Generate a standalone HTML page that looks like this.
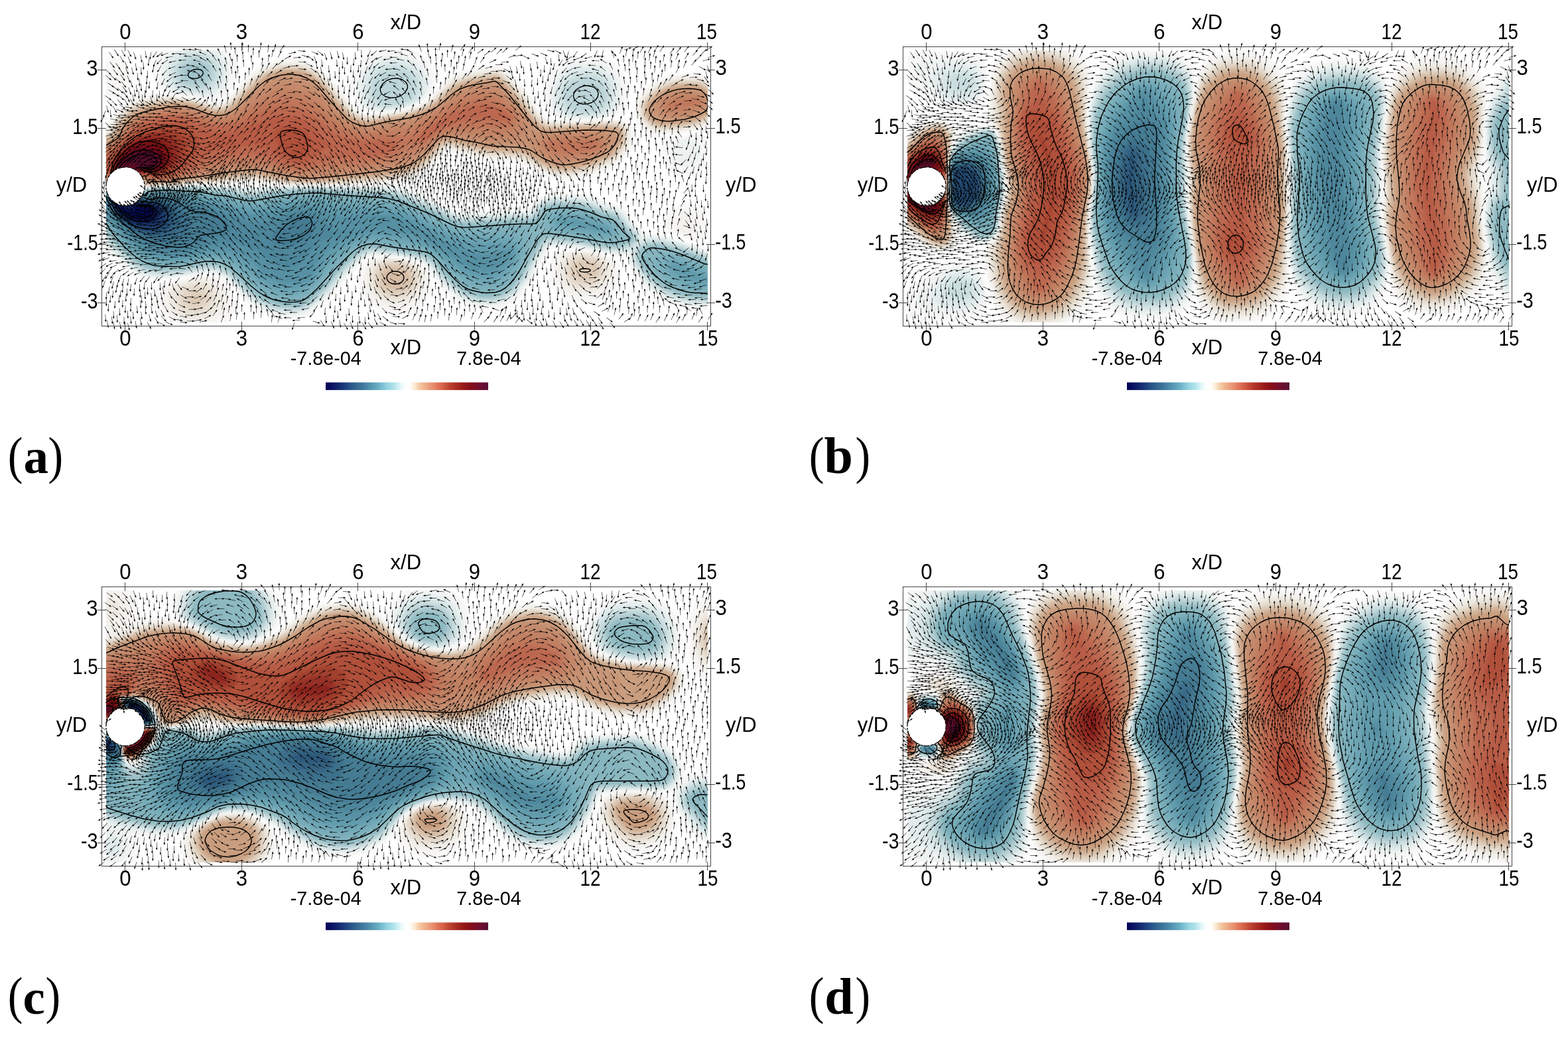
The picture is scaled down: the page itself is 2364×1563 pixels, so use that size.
<!DOCTYPE html>
<html lang="en"><head><meta charset="utf-8"><title>Figure</title>
<style>
html,body{margin:0;padding:0;background:#fff}
svg{display:block}
.t{font:32.8px "Liberation Sans",sans-serif;fill:#000}
.x{font:31px "Liberation Sans",sans-serif;fill:#000}
.c{font:30px "Liberation Sans",sans-serif;fill:#000}
.m{text-anchor:middle}.e{text-anchor:end}
.l{font:bold 75px "Liberation Serif",serif;fill:#000}
.p{font:78.2px "Liberation Serif",serif;fill:#000}
.k{fill:none;stroke:#000;stroke-width:5.8;stroke-linejoin:round}
</style></head><body>
<svg width="2364" height="1563" viewBox="0 0 2364 1563">
<defs>
<linearGradient id="cb"><stop offset="0%" stop-color="#000059"/><stop offset="2.5%" stop-color="#080d5f"/><stop offset="5%" stop-color="#0e1866"/><stop offset="7.5%" stop-color="#13256d"/><stop offset="10%" stop-color="#193376"/><stop offset="12.5%" stop-color="#204380"/><stop offset="15%" stop-color="#275288"/><stop offset="17.5%" stop-color="#2f5f8e"/><stop offset="20%" stop-color="#376b94"/><stop offset="22.5%" stop-color="#3f779c"/><stop offset="25%" stop-color="#4985a6"/><stop offset="27.5%" stop-color="#5393b0"/><stop offset="30%" stop-color="#5ea1ba"/><stop offset="32.5%" stop-color="#6bafc6"/><stop offset="35%" stop-color="#7cc0d4"/><stop offset="37.5%" stop-color="#92d1e0"/><stop offset="40%" stop-color="#a3dbe6"/><stop offset="42.5%" stop-color="#b6e5ed"/><stop offset="45%" stop-color="#d5f2f6"/><stop offset="47.5%" stop-color="#f5fcfc"/><stop offset="50%" stop-color="#ffffff"/><stop offset="52.5%" stop-color="#fefbf4"/><stop offset="55%" stop-color="#fae6ce"/><stop offset="57.5%" stop-color="#f5cba7"/><stop offset="60%" stop-color="#f1b792"/><stop offset="62.5%" stop-color="#eda682"/><stop offset="65%" stop-color="#e99473"/><stop offset="67.5%" stop-color="#e38062"/><stop offset="70%" stop-color="#dc6e53"/><stop offset="72.5%" stop-color="#d25e45"/><stop offset="75%" stop-color="#c24b36"/><stop offset="77.5%" stop-color="#b63a2d"/><stop offset="80%" stop-color="#ab2e25"/><stop offset="82.5%" stop-color="#a1221d"/><stop offset="85%" stop-color="#961718"/><stop offset="87.5%" stop-color="#8c1119"/><stop offset="90%" stop-color="#820e1f"/><stop offset="92.5%" stop-color="#780e27"/><stop offset="95%" stop-color="#6e0e2e"/><stop offset="97.5%" stop-color="#630f32"/><stop offset="100%" stop-color="#591236"/></linearGradient>
<clipPath id="fc"><rect x="160" y="75.8" width="907" height="410"/></clipPath>
<clipPath id="ac"><rect x="146" y="62" width="933" height="437"/></clipPath>
<filter id="bl" x="0" y="0" width="100%" height="100%" filterUnits="objectBoundingBox" color-interpolation-filters="sRGB"><feGaussianBlur stdDeviation="2.2"/></filter>
<path id="ag" d="M0-2.4L84-3.4V-13.4L120 0 84 13.4V3.4L0 2.4z" fill="#000"/>
<marker id="m0" markerUnits="userSpaceOnUse" orient="0" overflow="visible"><use href="#ag"/></marker><marker id="m1" markerUnits="userSpaceOnUse" orient="4" overflow="visible"><use href="#ag"/></marker><marker id="m2" markerUnits="userSpaceOnUse" orient="8" overflow="visible"><use href="#ag"/></marker><marker id="m3" markerUnits="userSpaceOnUse" orient="12" overflow="visible"><use href="#ag"/></marker><marker id="m4" markerUnits="userSpaceOnUse" orient="16" overflow="visible"><use href="#ag"/></marker><marker id="m5" markerUnits="userSpaceOnUse" orient="20" overflow="visible"><use href="#ag"/></marker><marker id="m6" markerUnits="userSpaceOnUse" orient="24" overflow="visible"><use href="#ag"/></marker><marker id="m7" markerUnits="userSpaceOnUse" orient="28" overflow="visible"><use href="#ag"/></marker><marker id="m8" markerUnits="userSpaceOnUse" orient="32" overflow="visible"><use href="#ag"/></marker><marker id="m9" markerUnits="userSpaceOnUse" orient="36" overflow="visible"><use href="#ag"/></marker><marker id="m10" markerUnits="userSpaceOnUse" orient="40" overflow="visible"><use href="#ag"/></marker><marker id="m11" markerUnits="userSpaceOnUse" orient="44" overflow="visible"><use href="#ag"/></marker><marker id="m12" markerUnits="userSpaceOnUse" orient="48" overflow="visible"><use href="#ag"/></marker><marker id="m13" markerUnits="userSpaceOnUse" orient="52" overflow="visible"><use href="#ag"/></marker><marker id="m14" markerUnits="userSpaceOnUse" orient="56" overflow="visible"><use href="#ag"/></marker><marker id="m15" markerUnits="userSpaceOnUse" orient="60" overflow="visible"><use href="#ag"/></marker><marker id="m16" markerUnits="userSpaceOnUse" orient="64" overflow="visible"><use href="#ag"/></marker><marker id="m17" markerUnits="userSpaceOnUse" orient="68" overflow="visible"><use href="#ag"/></marker><marker id="m18" markerUnits="userSpaceOnUse" orient="72" overflow="visible"><use href="#ag"/></marker><marker id="m19" markerUnits="userSpaceOnUse" orient="76" overflow="visible"><use href="#ag"/></marker><marker id="m20" markerUnits="userSpaceOnUse" orient="80" overflow="visible"><use href="#ag"/></marker><marker id="m21" markerUnits="userSpaceOnUse" orient="84" overflow="visible"><use href="#ag"/></marker><marker id="m22" markerUnits="userSpaceOnUse" orient="88" overflow="visible"><use href="#ag"/></marker><marker id="m23" markerUnits="userSpaceOnUse" orient="92" overflow="visible"><use href="#ag"/></marker><marker id="m24" markerUnits="userSpaceOnUse" orient="96" overflow="visible"><use href="#ag"/></marker><marker id="m25" markerUnits="userSpaceOnUse" orient="100" overflow="visible"><use href="#ag"/></marker><marker id="m26" markerUnits="userSpaceOnUse" orient="104" overflow="visible"><use href="#ag"/></marker><marker id="m27" markerUnits="userSpaceOnUse" orient="108" overflow="visible"><use href="#ag"/></marker><marker id="m28" markerUnits="userSpaceOnUse" orient="112" overflow="visible"><use href="#ag"/></marker><marker id="m29" markerUnits="userSpaceOnUse" orient="116" overflow="visible"><use href="#ag"/></marker><marker id="m30" markerUnits="userSpaceOnUse" orient="120" overflow="visible"><use href="#ag"/></marker><marker id="m31" markerUnits="userSpaceOnUse" orient="124" overflow="visible"><use href="#ag"/></marker><marker id="m32" markerUnits="userSpaceOnUse" orient="128" overflow="visible"><use href="#ag"/></marker><marker id="m33" markerUnits="userSpaceOnUse" orient="132" overflow="visible"><use href="#ag"/></marker><marker id="m34" markerUnits="userSpaceOnUse" orient="136" overflow="visible"><use href="#ag"/></marker><marker id="m35" markerUnits="userSpaceOnUse" orient="140" overflow="visible"><use href="#ag"/></marker><marker id="m36" markerUnits="userSpaceOnUse" orient="144" overflow="visible"><use href="#ag"/></marker><marker id="m37" markerUnits="userSpaceOnUse" orient="148" overflow="visible"><use href="#ag"/></marker><marker id="m38" markerUnits="userSpaceOnUse" orient="152" overflow="visible"><use href="#ag"/></marker><marker id="m39" markerUnits="userSpaceOnUse" orient="156" overflow="visible"><use href="#ag"/></marker><marker id="m40" markerUnits="userSpaceOnUse" orient="160" overflow="visible"><use href="#ag"/></marker><marker id="m41" markerUnits="userSpaceOnUse" orient="164" overflow="visible"><use href="#ag"/></marker><marker id="m42" markerUnits="userSpaceOnUse" orient="168" overflow="visible"><use href="#ag"/></marker><marker id="m43" markerUnits="userSpaceOnUse" orient="172" overflow="visible"><use href="#ag"/></marker><marker id="m44" markerUnits="userSpaceOnUse" orient="176" overflow="visible"><use href="#ag"/></marker><marker id="m45" markerUnits="userSpaceOnUse" orient="180" overflow="visible"><use href="#ag"/></marker><marker id="m46" markerUnits="userSpaceOnUse" orient="184" overflow="visible"><use href="#ag"/></marker><marker id="m47" markerUnits="userSpaceOnUse" orient="188" overflow="visible"><use href="#ag"/></marker><marker id="m48" markerUnits="userSpaceOnUse" orient="192" overflow="visible"><use href="#ag"/></marker><marker id="m49" markerUnits="userSpaceOnUse" orient="196" overflow="visible"><use href="#ag"/></marker><marker id="m50" markerUnits="userSpaceOnUse" orient="200" overflow="visible"><use href="#ag"/></marker><marker id="m51" markerUnits="userSpaceOnUse" orient="204" overflow="visible"><use href="#ag"/></marker><marker id="m52" markerUnits="userSpaceOnUse" orient="208" overflow="visible"><use href="#ag"/></marker><marker id="m53" markerUnits="userSpaceOnUse" orient="212" overflow="visible"><use href="#ag"/></marker><marker id="m54" markerUnits="userSpaceOnUse" orient="216" overflow="visible"><use href="#ag"/></marker><marker id="m55" markerUnits="userSpaceOnUse" orient="220" overflow="visible"><use href="#ag"/></marker><marker id="m56" markerUnits="userSpaceOnUse" orient="224" overflow="visible"><use href="#ag"/></marker><marker id="m57" markerUnits="userSpaceOnUse" orient="228" overflow="visible"><use href="#ag"/></marker><marker id="m58" markerUnits="userSpaceOnUse" orient="232" overflow="visible"><use href="#ag"/></marker><marker id="m59" markerUnits="userSpaceOnUse" orient="236" overflow="visible"><use href="#ag"/></marker><marker id="m60" markerUnits="userSpaceOnUse" orient="240" overflow="visible"><use href="#ag"/></marker><marker id="m61" markerUnits="userSpaceOnUse" orient="244" overflow="visible"><use href="#ag"/></marker><marker id="m62" markerUnits="userSpaceOnUse" orient="248" overflow="visible"><use href="#ag"/></marker><marker id="m63" markerUnits="userSpaceOnUse" orient="252" overflow="visible"><use href="#ag"/></marker><marker id="m64" markerUnits="userSpaceOnUse" orient="256" overflow="visible"><use href="#ag"/></marker><marker id="m65" markerUnits="userSpaceOnUse" orient="260" overflow="visible"><use href="#ag"/></marker><marker id="m66" markerUnits="userSpaceOnUse" orient="264" overflow="visible"><use href="#ag"/></marker><marker id="m67" markerUnits="userSpaceOnUse" orient="268" overflow="visible"><use href="#ag"/></marker><marker id="m68" markerUnits="userSpaceOnUse" orient="272" overflow="visible"><use href="#ag"/></marker><marker id="m69" markerUnits="userSpaceOnUse" orient="276" overflow="visible"><use href="#ag"/></marker><marker id="m70" markerUnits="userSpaceOnUse" orient="280" overflow="visible"><use href="#ag"/></marker><marker id="m71" markerUnits="userSpaceOnUse" orient="284" overflow="visible"><use href="#ag"/></marker><marker id="m72" markerUnits="userSpaceOnUse" orient="288" overflow="visible"><use href="#ag"/></marker><marker id="m73" markerUnits="userSpaceOnUse" orient="292" overflow="visible"><use href="#ag"/></marker><marker id="m74" markerUnits="userSpaceOnUse" orient="296" overflow="visible"><use href="#ag"/></marker><marker id="m75" markerUnits="userSpaceOnUse" orient="300" overflow="visible"><use href="#ag"/></marker><marker id="m76" markerUnits="userSpaceOnUse" orient="304" overflow="visible"><use href="#ag"/></marker><marker id="m77" markerUnits="userSpaceOnUse" orient="308" overflow="visible"><use href="#ag"/></marker><marker id="m78" markerUnits="userSpaceOnUse" orient="312" overflow="visible"><use href="#ag"/></marker><marker id="m79" markerUnits="userSpaceOnUse" orient="316" overflow="visible"><use href="#ag"/></marker><marker id="m80" markerUnits="userSpaceOnUse" orient="320" overflow="visible"><use href="#ag"/></marker><marker id="m81" markerUnits="userSpaceOnUse" orient="324" overflow="visible"><use href="#ag"/></marker><marker id="m82" markerUnits="userSpaceOnUse" orient="328" overflow="visible"><use href="#ag"/></marker><marker id="m83" markerUnits="userSpaceOnUse" orient="332" overflow="visible"><use href="#ag"/></marker><marker id="m84" markerUnits="userSpaceOnUse" orient="336" overflow="visible"><use href="#ag"/></marker><marker id="m85" markerUnits="userSpaceOnUse" orient="340" overflow="visible"><use href="#ag"/></marker><marker id="m86" markerUnits="userSpaceOnUse" orient="344" overflow="visible"><use href="#ag"/></marker><marker id="m87" markerUnits="userSpaceOnUse" orient="348" overflow="visible"><use href="#ag"/></marker><marker id="m88" markerUnits="userSpaceOnUse" orient="352" overflow="visible"><use href="#ag"/></marker><marker id="m89" markerUnits="userSpaceOnUse" orient="356" overflow="visible"><use href="#ag"/></marker>
</defs>
<rect width="2364" height="1563" fill="#fff"/>
<g transform="translate(0 0)">
<g clip-path="url(#fc)"><g filter="url(#bl)"><rect x="140" y="56" width="950" height="450" fill="#fff"/><g transform="scale(0.25)">
<path fill="#f8f7f5" d="M736 582l-48 7-40-7-32-18-32-32 0-124 32-32 24-14 48-10 40 8 35 24 26 40 11 48-8 48-24 39zM584 1108l0-355 48 9 8-5 46-77 58-69 32-16 96-23 88-6 168 18 160 32 32-1 24-8 33-23 127-135 64-51 80-33 56-11 112 2 48 14 56 28 93 82 35 52 96 121 32 21 48 14 96-5 104-14 72-22 49-23 61-48 82-96 24-20 64-29 40-11 144-25 48 0 40 17 78 76 53 64 90 128 35 33 40 9 96 8 104 0 200-13 32 9 24 17 12 17 10 32 0 56-8 32-34 56-39 48-77 42-64 26-136 34-104 0-48-10-88-38-72-45-32-9-192-11-216-50-17 5-111 110-32 23-48 25-64 16-464 15-248-1-184-9-240 5-96-3-88 2-48 11-96-3-80 8zM3835 728l-7-32 1-48 14-56 69-78 64-40 56-22 48-9 136-1 32 8 40 20 40 36 0 229-64 36-104 23-200 22-24-5-48-23-37-36zM4251 1432l-27 16-48 1-90-25-51-24-25-24-7-24 6-40 17-32 38-37 48-19 56 1 48 21 39 42 18 48-3 56zM3731 1704l-17 32-26 31-32 27-32 18-64 14-64 0-40-6-64-32-32-29-23-31-16-32-9-40 5-72 23-48 26-16 29-8 93-8 80 10 48 13 88 33 30 24 9 24 2 32zM2580 1792l-52 54-72 36-32 6-64 0-64-12-64-36-32-32-21-32-18-64 1-40 8-32 16-32 27-32 43-22 56-7 96 6 68 15 71 32 22 24 22 40 11 32 3 32-8 32zM1426 1856l-19 40-33 40-46 34-56 26-181 4-75-37-57-51-33-64-7-40 2-32 11-32 14-16 52-24 170-35 72-8 32 2 48 18 33 23 29 32 42 72 5 24z"/>
<path fill="#f3f1ec" d="M584 1104l0-333 48 13 16-6 51-82 61-61 56-27 56-17 96-13 64 0 88 10 163 36 45 0 24-9 33-23 127-130 64-49 72-30 56-12 104 2 48 13 56 28 85 74 40 56 96 112 35 24 40 14 168-14 56-8 64-20 48-21 65-47 39-44 72-65 64-28 40-10 168-26 24 4 24 13 64 63 60 69 94 128 38 34 40 9 104 5 288-10 32 8 24 16 13 18 7 24 1 48-7 32-28 48-42 52-72 38-56 23-136 36-96 0-56-12-80-35-72-46-32-9-192-10-232-54-18 9-113 112-45 30-88 34-88 12-296 13-248 2-136-4-136-13-232 10-176 0-56 13-96-4-80 8-56-7-64 3zM3851 720l-7-24 0-56 5-24 12-24 67-68 40-26 56-24 72-15 128 2 64 31 40 45 0 173-32 26-48 26-56 17-88 14-136 9-24-5-48-25zM4187 1400l-19 11-24 2-24-5-30-16-13-16-4-16 3-24 12-21 24-17 24-6 24 4 24 15 12 17 7 24-2 24zM3687 1704l-42 48-53 28-88 6-56-12-54-38-32-48-12-64 12-56 15-24 23-16 72-15 96 8 52 15 52 24 28 32 5 56zM2551 1768l-44 48-59 30-88 6-56-12-56-35-40-53-12-56 2-48 8-32 21-32 21-16 64-15 104 6 48 11 54 22 37 32 19 48-1 48zM1371 1840l-32 56-51 39-72 24-72 1-72-22-56-41-19-25-14-32-4-56 19-48 42-27 128-31 88-3 55 21 41 40 22 48z"/>
<path fill="#eee9e1" d="M584 1099l0-316 48 16 19-7 13-13 15-35 29-40 60-58 56-28 56-17 88-14 56-2 144 16 120 32 44-1 28-11 31-21 129-130 64-49 72-28 56-10 96 2 40 11 56 27 84 73 36 51 104 117 38 24 42 14 216-24 72-21 56-24 64-44 40-43 72-62 56-24 40-11 168-26 40 14 64 63 59 68 96 128 45 37 48 7 96 2 224-11 64 4 32 11 16 12 12 18 5 24-1 48-7 24-30 48-35 43-120 57-56 19-88 18-88 0-48-10-80-34-72-46-40-12-192-11-232-54-24 11-112 111-48 33-80 31-96 17-288 16-248 3-136-6-120-17-40-1-208 16-176 2-56 12-96-3-80 8-48-7-64 4zM3869 728l-12-24-2-32 3-48 12-24 66-67 40-26 56-23 64-13 128 2 60 31 44 58 0 126-32 35-56 31-48 16-88 15-136 6-56-23zM3658 1696l-34 36-40 21-80 4-48-10-46-35-24-40-7-48 10-48 16-24 19-14 56-16 80 6 54 16 40 24 20 32 2 48zM2531 1752l-35 40-56 29-80 5-48-11-49-31-33-48-7-32-1-40 8-48 26-33 56-21 88 1 72 17 50 28 26 40 3 56zM1328 1840l-26 40-46 32-56 16-56-2-56-19-40-31-25-44-3-48 18-40 16-16 26-14 88-23 72 1 47 20 36 40 12 40z"/>
<path fill="#e8e0d4" d="M584 1094l0-302 48 18 24-10 16-16 16-36 26-36 56-56 54-27 56-18 88-15 56-4 144 14 128 36 40-3 24-8 34-23 134-134 64-47 64-24 56-11 96 3 40 11 52 26 83 72 33 48 109 120 41 24 42 13 216-27 72-20 56-23 64-42 112-103 96-35 168-27 32 11 64 62 61 71 91 120 48 43 56 9 320-11 56 4 45 19 12 16 7 24-6 64-28 48-38 45-120 57-48 15-88 19-88 0-48-11-80-34-72-47-40-10-192-11-232-54-24 7-120 119-40 28-88 34-88 16-296 21-240 3-128-8-128-20-40-1-208 19-176 4-56 13-96-3-80 8-48-8-64 5zM3870 712l-6-24 0-48 11-32 69-70 40-25 56-22 56-11 128 3 40 18 23 19 27 40 14 31 0 74-19 31-21 21-40 23-56 21-96 17-128 4-56-25zM3641 1680l-33 35-32 16-72 3-32-6-32-19-29-37-9-40 6-40 24-35 40-19 48-4 61 10 36 16 30 32 7 48zM2512 1744l-32 34-48 24-80 3-40-13-40-28-23-36-6-72 10-40 31-32 36-14 80 0 64 16 45 30 20 32 2 48zM1295 1832l-21 32-35 24-47 13-48-3-40-16-31-26-17-32-1-40 16-32 33-26 56-17 56 1 40 16 32 31 13 35z"/>
<path fill="#e2d5c6" d="M584 1089l0-289 48 19 24-8 21-19 18-40 29-40 52-50 48-24 56-19 88-16 64-5 96 6 48 9 112 35 48-1 32-12 32-22 133-133 59-43 64-26 56-11 88 1 40 10 56 28 76 65 41 56 107 118 40 23 48 14 224-30 72-21 48-19 72-45 40-41 72-60 56-24 40-10 160-25 32 13 60 59 152 192 28 28 24 15 56 8 320-12 56 5 40 18 16 34 0 40-6 24-26 42-38 46-114 53-56 18-80 17-88 0-48-11-72-31-72-47-40-12-200-12-232-54-27 7-121 120-44 30-80 31-96 18-288 22-240 4-128-9-128-23-48-1-200 23-184 5-48 14-96-3-80 8-48-9-64 6zM3879 712l-7-24 0-48 13-32 67-65 32-21 56-23 64-11 120 3 56 33 25 36 12 32 3 64-21 40-59 39-48 19-96 17-128 3-49-22zM3620 1672l-23 24-29 14-56 2-32-4-24-14-24-30-8-32 4-32 20-29 38-19 42-3 48 8 34 19 17 24 4 40zM2488 1744l-32 27-40 14-64 0-40-14-32-27-14-24-4-64 8-32 30-32 36-13 64 0 64 19 31 26 18 40-3 40zM1254 1840l-22 19-24 11-32 4-32-5-26-13-22-23-8-25 2-24 22-31 32-17 40-5 32 6 32 21 16 26 1 32z"/>
<path fill="#dccab6" d="M584 1084l0-276 48 20 30-12 24-24 18-40 24-32 56-54 48-23 56-18 144-21 88 4 56 11 112 36 48-1 32-11 32-21 136-134 64-48 64-23 48-9 88 1 40 10 56 29 73 64 39 54 104 114 48 28 40 12 24 2 208-32 72-20 48-19 72-43 112-100 56-25 40-10 160-25 24 8 64 63 152 192 32 31 24 13 56 6 128-8 200-3 48 5 24 9 16 14 8 22 0 40-7 24-57 80-120 56-128 32-88 0-48-11-72-32-72-47-40-11-194-11-246-55-24 9-120 119-48 32-80 30-152 24-296 21-176 1-120-10-128-26-48 0-200 24-184 8-48 14-96-2-80 7-40-10-72 8zM3884 704l-4-64 15-32 49-49 32-23 72-31 56-10 120 4 49 29 27 40 11 32 0 56-15 32-17 16-41 24-54 20-88 16-128 2-48-22zM3601 1656l-17 19-24 12-72-3-33-28-7-24 4-24 12-19 32-17 64 1 24 11 16 16 8 24zM2475 1728l-27 24-32 13-56 1-32-10-28-20-15-24-3-48 6-32 24-26 32-14 48-3 56 16 31 27 14 32-2 32zM1160 1838l-27-22-3-16 6-17 32-18 24 1 20 10 13 24-9 24-24 14z"/>
<path fill="#d6bca5" d="M584 1079l0-264 40 22 40-13 26-24 18-40 30-40 52-48 42-21 56-18 152-22 80 3 48 9 120 40 56-3 30-12 34-23 136-134 58-43 62-23 48-10 88 2 40 11 48 24 72 61 39 55 113 122 48 26 40 11 24 1 208-33 72-19 56-22 72-43 112-98 88-32 152-26 30 9 57 56 57 66 96 127 32 32 32 18 64 5 128-10 184-2 71 12 17 12 8 20 1 40-8 24-57 76-112 52-128 33-88 0-40-10-73-31-79-50-40-11-192-10-224-54-40 1-16 10-120 120-40 27-80 30-152 25-56 1-240 23-176 1-120-13-128-26-48-1-208 27-176 9-48 15-104-1-72 6-40-12-72 11-104-13zM3892 704l-5-56 11-32 62-60 32-21 56-22 56-10 112 2 54 31 22 32 11 32 1 52-18 36-54 35-48 18-88 16-120 3-48-20zM2455 1712l-17 16-22 10-48 3-24-5-24-16-10-16-3-40 5-21 17-19 23-10 32-5 48 12 22 19 12 24 0 24z"/>
<path fill="#d0ae93" d="M584 1073l0-249 40 24 40-14 31-26 23-48 26-35 48-45 96-39 152-23 72 2 56 10 120 41 56-3 32-12 37-24 131-130 61-46 59-22 48-10 82 0 38 9 48 24 75 63 40 56 109 117 48 28 48 14 24 1 208-35 72-19 56-21 72-41 112-98 88-33 152-26 26 9 54 53 155 195 37 35 24 14 24 6 48 1 128-11 184-2 69 13 17 16 2 48-8 23-56 72-107 49-125 32-80 1-48-10-71-31-73-48-48-14-192-10-224-54-24-1-32 10-125 125-52 32-69 24-146 24-56 1-240 25-168 1-120-13-128-28-64 0-32 6-56 2-112 20-176 11-56 16-168 4-40-13-72 14-112-15zM3898 696l-2-56 13-24 48-48 27-18 70-30 50-9 112 2 48 29 22 34 9 24 1 48-16 34-56 35-48 17-88 15-112 3-48-22z"/>
<path fill="#c99e7f" d="M584 1067l0-232 40 26 48-20 30-25 23-48 27-36 47-44 97-38 144-23 72 2 48 9 128 43 56-2 32-11 40-25 136-134 61-45 59-21 48-10 72 1 40 11 48 24 68 59 36 51 117 125 51 28 48 13 24 1 128-27 88-11 88-25 40-16 72-40 112-97 48-21 40-11 144-24 19 6 57 56 153 192 35 35 32 17 72 6 128-13 176-1 70 12 11 8 5 16-6 47-56 73-109 48-123 31-72 0-48-12-64-27-80-52-40-11-200-11-216-53-56 1-16 10-120 120-56 36-64 22-152 25-136 8-160 20-160 1-120-15-128-29-64-1-88 9-112 20-184 15-48 16-168 6-32-18-80 21-112-15zM3910 696l-5-48 11-24 60-56 24-16 56-22 56-9 104 4 40 24 19 27 11 32 0 40-14 27-48 30-48 18-88 15-104 3-40-14z"/>
<path fill="#c89779" d="M584 1062l0-211 32 22 16 0 48-24 40-41 13-32 29-40 30-29 24-15 88-32 152-24 48 2 64 12 104 39 88-1 49-24 151-141 40-31 72-32 48-10 72 2 32 8 48 24 64 55 39 53 116 120 53 33 32 8 72 0 104-23 88-9 128-40 72-40 112-95 48-22 72-17 112-16 24 15 83 86 101 138 56 55 48 12 184-12 176 1 56 17 10 21-5 24-17 32-44 44-112 48-112 21-64-3-40-10-56-24-72-53-48-16-96-1-32-7-80-1-200-47-81 1-143 134-48 29-48 18-168 29-280 28-160 6-120-17-112-28-96-3-104 11-216 36-64 4-40 15-160 7-8-1-24-21-8 0-48 20-32 7-112-15-72-27zM3925 680l-1-32 22-32 38-36 64-32 72-13 88 3 38 22 23 40 1 48-9 16-45 29-48 16-88 16-96-1-32-15z"/>
<path fill="#c69072" d="M584 1059l0-194 32 14 16 0 48-25 34-30 30-53 27-35 26-24 28-16 79-28 80-16 80-8 96 12 120 42 80-4 64-32 128-117 56-40 64-27 64-11 72 8 63 29 57 47 94 105 74 71 48 25 40 10 48 2 216-37 64-18 64-25 64-35 111-89 49-23 88-21 88-6 24 8 24 18 64 66 61 78 59 99 24 20 56 8 200-15 120 1 56 15 18 16 7 24-4 24-14 24-42 32-101 38-88 17-56 0-56-15-56-26-72-62-24-13-112 4-104-4-248-46-48 5-16 10-112 104-69 44-59 21-144 27-144 11-160 21-144 4-120-17-128-31-80-1-88 8-232 41-56 5-72 21-136 3-32-23-88 29-104-12-80-31zM3953 672l-3-16 5-24 31-40 60-32 58-14 76-2 36 8 32 26 16 38-3 24-17 24-44 24-58 16-70 10-61-2-40-16z"/>
<path fill="#c4886b" d="M584 1054l0-175 48 6 48-25 40-35 56-83 52-38 76-28 80-16 80-8 88 11 120 41 80 1 40-13 35-20 117-97 56-38 55-25 57-13 72 2 72 27 56 39 176 168 48 25 48 13 56 0 192-27 48-13 88-34 72-39 104-77 40-22 72-22 80-9 32 3 32 11 72 59 66 85 22 64 0 32-16 29-32 20-48 11-104 1-224-33-64 5-32 17-88 78-94 56-91 32-111 20-312 33-120 6-120-16-136-33-88-1-88 8-280 51-64 21-144 3-32-23-65 27-23 4-104-12zM3981 656l3-32 24-29 48-24 52-11 60-2 40 7 32 23 11 28-5 24-27 24-43 17-56 12-56 5-40-4-28-14zM3240 864l4-16 12-13 40-15 240-17 56 3 38 10 25 24 5 24-7 24-12 16-38 24-83 27-96 14-72-9-58-24-38-32z"/>
<path fill="#c28063" d="M584 1046l0-150 48-2 48-26 42-36 62-83 25-21 39-21 54-19 74-15 96-9 80 13 120 40 48 4 40-4 72-29 168-113 48-20 48-11 80 1 72 24 64 41 160 138 56 28 56 14 56 1 216-21 144-70 176-108 56-21 64-11 72 5 56 26 72 65 22 32 10 32-4 32-12 23-20 17-28 13-72 8-240-17-72 7-40 19-80 67-80 33-72 41-64 22-88 15-440 46-102-14-146-38-88-4-80 8-88 16-200 47-80 26-120 1-40-24-54 24-34 9-104-12zM4005 640l10-24 17-13 40-14 56-9 48 0 32 7 21 13 7 16-6 16-22 15-114 25-62-2-21-14zM3635 872l-6 16-13 14-37 18-75 19-72 7-56-5-56-16-32-21-14-32 11-24 35-15 224-10 64 9 20 16z"/>
<path fill="#c0765b" d="M584 1034l0-119 48-9 48-28 44-38 68-82 32-24 40-19 112-29 96-8 64 11 136 44 48 5 40-3 80-28 160-91 88-26 80 0 72 22 64 38 152 120 64 29 64 13 168-5 104 19 85-66 195-118 72-33 72-17 64 1 64 20 72 53 17 22 8 24-5 24-12 15-24 14-24 6-240-1-64 5-56 13-40 20-88 66-24 5-48-8-16 3-64 60-64 27-96 17-224 17-160 32-48 3-56-5-176-51-80-8-88 7-88 15-272 88-48 8-88-2-40-22-80 31-80-4-48-11-56-35zM4029 640l0-8 12-8 95-18 56 1 21 9-13 9-120 19-40 1zM3616 872l-10 16-38 15-72 14-48 3-64-5-48-11-32-14-9-18 9-15 24-7 232-4 40 6z"/>
<path fill="#bc6850" d="M2523 840l5-17 18-23 96-72 102-55 96-35 72-10 64 10 64 29 43 37-3 17-24 8-152-13-128 16-64 18-48 21-112 83-17 2zM584 1007l0-57 40-19 56-40 128-126 40-24 48-19 88-20 88-4 64 12 128 46 48 7 48-2 80-20 176-82 80-18 72 3 72 23 61 37 107 87 72 36 96 19 176-3 32 11 14 26-6 16-16 16-56 21-120 16-200 8-131 43-53 10-40-1-44-9-132-52-48-12-72-4-96 10-104 23-224 99-64 14-72-2-48-20-80 29-96-5-43-16-45-44z"/>
<path fill="#b75c46" d="M631 992l4-24 22-32 151-147 40-24 48-20 112-24 56 0 40 6 136 59 56 12 56 4 48-6 56-15 184-74 64-8 64 4 56 17 48 28 38 36 58 72 72 30 23 2-95 1-96 75-40 17-32 6-32-3-40-12-120-73-48-17-64-2-176 22-64 22-120 84-71 40-41 16-40 6-56-1-56-18-80 26-104-5-24-9-15-15z"/>
<path fill="#b0503b" d="M661 1048l-2-40 10-40 44-64 87-82 72-39 112-32 96 0 31 9 41 24 31 32 14 24 2 24-6 24-28 48-68 72-68 40-77 13-80-14-48 16-56 7-80-6zM1857 928l-30 24-27 8-32-4-41-20-32-32-31-56-9-40 10-24 26-16 45-7 48 5 48 19 28 31 14 40-1 40z"/>
<path fill="#a2402e" d="M669 1048l1-48 12-32 20-32 66-72 64-41 96-32 80-9 40 7 25 11 29 24 15 24 7 48-20 56-36 48-52 37-56 15-48-1-40-8-88 18-88-2z"/>
<path fill="#973026" d="M672 1041l3-41 28-56 65-71 56-37 88-26 72-4 56 20 24 21 14 25 6 48-16 48-32 40-44 27-40 11-40 1-40-8-56 13-88 4-40-4z"/>
<path fill="#8c241d" d="M679 1040l2-40 30-56 65-68 48-30 80-18 64 1 48 19 31 40 7 40-10 40-30 40-39 24-31 8-32 2-40-6-64 11-96 2z"/>
<path fill="#821816" d="M683 1032l0-24 9-24 36-53 56-52 48-26 80-9 48 4 40 19 27 37 3 40-9 32-26 32-35 21-40 8-48-5-48 8-131 0z"/>
<path fill="#771015" d="M1007 920l3 32-12 32-22 26-32 18-32 5-48-4-40 6-56-6-56 7-16-2-9-10 9-38 40-54 48-41 48-25 56-6 56 7 40 20z"/>
<path fill="#6b0b1a" d="M989 944l0 24-11 24-18 19-30 13-106 5-56-11-56 11-16-5-3-8 11-30 40-48 40-31 48-22 56-5 48 11 34 21z"/>
<path fill="#5f0c25" d="M972 952l1 16-9 24-17 16-27 11-96 3-48-18-56 16-17-4 9-26 32-37 46-33 50-19 48-1 32 8 36 20z"/>
<path fill="#520d2a" d="M954 960l-6 32-36 19-88 1-24-24-16-5-24 5-32 15-7-3 26-32 33-24 68-26 32-1 40 11 24 15z"/>
<path fill="#f7f7f6" d="M1442 440l-23 56-51 66-40 30-48 9-208-32-96-25-24-16-17-24-12-40-4-48 10-48 23-40 32-33 66-47 271 0 63 50 38 46 20 48zM2166 648l-21-24-27-56-7-48 5-48 24-56 22-32 38-36 48-32 56-21 40-8 72-1 40 6 48 16 40 24 48 45 28 39 16 56-4 24-30 64-30 32-58 40-90 31-104 13-104-2zM3761 680l-57 23-120 18-152 1-90-18-34-24-30-56-8-64 11-56 24-48 31-39 45-41 51-28 72-14 88 1 48 10 40 21 55 42 24 32 24 48 10 48-2 64-10 48zM4269 984l-31 40-46 28-56 10-56-11-48-32-30-43-13-56 8-48 10-16 21-16 50-16 98-13 64 6 26 23 19 48 0 48zM584 1114l296 15 96-8 96 4 48-10 288 0 80 10 144-6 424 3 184-6 152 4 40 5 72 21 168 72 53 30 59 22 24 3 192-8 48-8 120-1 16-7 48-53 48-24 56-11 168 2 208 65 40 18 38 34 34 48 40 34 32 40 88 8 208 67 136 37 0 346-56 11-120-10-120-33-56-26-72-52-64-66-42-68-22-67-48-3-200-45-40-5-104 0-64 5-8 5-56 92-52 106-78 96-22 18-48 24-56 18-112 1-72-17-48-18-48-36-64-62-80-116-48-34-112-30-104-8-48 1-42 11-42 32-148 174-64 64-96 76-24 10-64 11-72-1-56-9-72-23-48-27-80-67-88-98-66-38-62-8-136 24-152 17-96-10-72-35-48-38-152-157z"/>
<path fill="#edf2f1" d="M1380 496l-37 56-30 24-25 9-56 2-152-24-57-19-33-24-19-48-4-40 3-32 12-32 23-32 67-51 72-25 96 2 40 13 32 18 40 34 19 25 16 32 6 32-3 48zM2193 648l-23-24-16-40-4-56 4-40 15-40 23-37 32-31 40-27 80-26 96 3 48 16 32 18 40 38 23 30 17 56-8 56-33 48-43 32-92 34-104 13-88-5zM3722 672l-34 21-96 21-152 1-51-11-43-24-27-48-9-64 12-56 22-42 32-36 32-28 40-20 40-11 112 1 32 10 48 28 29 26 22 32 17 40 6 40-2 56-10 32zM4144 1002l-40-6-29-20-20-32-5-32 7-32 19-24 36-15 32-5 32 4 28 16 16 24 6 32-5 32-20 32-25 18zM584 1118l248 8 40 6 104-9 96 4 56-11 280 5 80 13 144-10 704 0 80 11 72 24 176 75 54 30 58 22 24 4 208-8 40-7 136-2 56-61 48-23 48-10 168 2 208 66 32 15 32 29 38 53 42 35 24 43 56-2 56 6 120 33 216 74 0 306-48 14-120-8-48-10-72-23-56-26-69-50-63-64-49-80-9-56-7-8-59 7-240-45-168-5-10 3-14 15-54 89-48 96-77 96-21 18-48 24-56 17-96 2-80-20-40-15-112-95-80-107-48-33-120-31-152-10-48 12-48 35-200 216-104 85-24 9-56 10-64 0-64-10-72-25-64-39-56-45-96-101-56-31-32-8-40-2-136 26-144 12-96-14-72-36-40-31-109-109-43-54-16-4z"/>
<path fill="#e1ebec" d="M1350 496l-38 50-24 17-24 9-40 3-136-19-47-20-29-32-13-56 4-48 15-32 20-24 34-28 32-16 56-15 88 6 56 31 31 30 15 24 12 56zM2248 656l-32-16-17-16-16-32-4-32 0-48 7-32 22-43 32-34 42-27 46-17 88-4 72 22 60 55 23 48 1 56-15 40-31 32-45 24-65 21-96 11zM3696 664l-36 24-68 18-80 5-80-7-27-8-33-24-29-56-4-56 10-40 23-40 52-50 40-20 32-7 80 0 48 10 62 43 17 24 18 40 3 80-9 32zM584 1123l240 5 48 7 104-10 96 4 56-10 72-1 200 9 96 17 144-15 264-6 432 9 80 14 72 26 168 72 56 31 56 22 32 5 208-8 40-7 136-1 16-6 21-32 27-27 40-20 56-11 160 3 80 24 72 29 56 14 32 17 27 27 34 48 46 40 21 49 48-10 64 3 144 39 200 74 0 276-24 13-24 5-120-9-80-19-88-36-68-49-63-64-49-80-5-64-7-7-80 12-72-9-72-19-88-13-168-10-16 3-11 11-60 96-54 104-71 88-20 16-48 25-48 14-96 1-112-32-112-93-85-107-50-32-121-29-160-11-48 12-48 35-64 62-84 99-55 56-101 80-72 17-64 0-56-9-72-23-64-38-56-44-96-98-56-34-40-9-40-1-136 26-144 9-96-16-64-33-40-31-112-111-40-55-24-5z"/>
<path fill="#d6e5e6" d="M1315 512l-35 32-48 18-80-4-66-14-37-24-20-32-7-48 5-40 13-24 22-24 26-21 32-15 56-10 72 7 29 15 27 23 28 41 7 32-2 32-8 32zM2508 608l-49 24-51 15-88 8-56-8-35-23-21-32-6-72 9-40 18-32 23-24 36-25 40-16 32-5 56 0 56 17 56 49 21 44-3 72-13 24zM3674 656l-33 24-57 18-72 4-89-14-30-24-25-48-6-48 9-40 18-32 30-32 53-32 32-6 64 0 48 9 53 37 30 56 2 72zM584 1127l240 3 48 8 104-11 96 4 56-9 72-1 200 12 96 19 144-17 264-9 424 12 96 20 232 96 56 31 56 21 32 6 208-9 40-7 144-1 16-8 40-54 40-22 48-11 160 1 88 25 64 27 56 14 32 16 24 22 40 55 45 40 8 16 4 32 7 9 48-16 72 2 144 38 200 77 0 253-24 15-24 6-120-9-96-25-68-30-68-49-55-55-23-32-31-56-3-32 5-40-5-5-72 16-32 1-64-6-160-32-176-13-24 15-61 96-53 104-71 88-15 13-48 26-48 14-96 2-108-31-114-96-82-101-48-31-128-29-160-14-56 15-45 32-67 64-81 96-55 55-96 79-72 18-64 0-56-9-64-21-64-37-64-49-90-92-62-36-32-9-48-2-136 27-136 8-96-15-64-32-40-30-112-112-48-63-24 0z"/>
<path fill="#cadddf" d="M1297 504l-33 28-40 15-72-1-51-10-29-19-21-29-9-48 8-40 38-45 48-25 64-6 48 10 45 34 23 40-1 56zM2497 600l-49 25-56 15-64 5-48-9-37-28-15-24-4-64 7-32 33-46 56-33 32-8 48-1 56 12 21 12 27 26 22 38-1 72zM3634 664l-42 19-64 8-64-7-33-12-23-24-23-56 1-40 18-40 39-40 45-22 96-1 38 15 38 32 16 32 4 24-1 40-6 24-17 28zM584 1132l232 0 48 9 112-12 96 4 56-8 64-1 168 11 136 25 40-1 104-18 120-8 96 2 72-5 208 10 120-1 80 7 80 17 232 96 64 34 80 26 216-8 48-7 136-1 19-7 41-56 36-21 48-11 152 0 72 19 168 60 27 25 37 52 43 36 12 24 0 24-7 22-16 13-96 27-80-6-160-31-184-15-20 14-22 32-109 192-57 68-64 38-64 14-72-1-104-30-112-94-81-99-50-32-133-30-152-15-32 2-40 15-40 29-67 63-129 144-84 73-40 22-48 9-64 0-64-11-88-36-88-64-96-97-56-34-40-10-48-1-136 27-136 7-96-17-56-27-44-33-112-112-44-63-32-1zM4328 1799l-24 18-24 7-112-8-64-14-64-21-40-20-76-57-47-48-38-56-11-24-4-32 3-24 15-32 18-16 44-20 80-1 136 35 176 65 32 18z"/>
<path fill="#bdd5d9" d="M1284 488l-28 27-40 16-56 1-40-5-27-15-21-24-9-32 2-40 27-40 44-27 40-7 56 5 40 27 23 34 2 48zM2485 584l-37 24-45 16-59 6-41-6-31-21-20-27-4-32 3-40 26-40 43-29 48-11 40 0 31 8 29 16 32 40 4 56zM3616 648l-32 18-56 9-56-9-24-10-17-16-22-48 0-32 14-32 33-35 32-18 80-3 33 8 39 31 16 41 0 32-7 24-14 24zM584 1137l208-4 39 3 33 9 112-14 96 5 56-8 64 0 112 12 56 1 136 26 40 0 104-20 120-10 176-4 200 13 120-1 80 8 80 18 232 97 56 30 88 29 216-8 48-8 144-1 21-14 35-49 32-20 48-11 152 0 72 19 80 33 64 15 24 13 24 24 34 48 46 40 8 32-8 24-16 13-88 26-80-5-152-30-176-19-24 3-21 20-59 92-56 108-71 88-65 37-56 12-72-2-104-31-112-95-80-97-40-26-144-32-152-17-32 2-40 13-48 33-32 36-32 25-126 142-82 72-40 23-48 9-64 0-64-11-80-32-88-63-103-102-57-33-40-10-48-1-136 27-136 7-88-15-64-31-41-32-111-111-45-65-11-4-24 4zM4328 1789l-24 19-24 8-112-8-56-11-104-40-73-53-55-56-44-72-5-24 2-24 10-24 21-24 40-20 72-3 128 31 200 75 24 17z"/>
<path fill="#afccd1" d="M1264 480l-24 20-32 12-80-3-24-15-15-22-6-32 4-24 25-30 32-19 32-6 48 4 32 21 19 30 0 40zM2352 536l8 0 16-16 16 0 0 8-24 16-8 0zM3520 576l8-8 16 0-16 16zM584 1142l208-7 72 15 112-16 88 5 128-7 112 14 48 0 144 29 40-1 168-27 200-10 232 15 120 0 74 8 78 17 232 95 64 35 64 24 24 4 224-9 40-7 144-1 24-13 40-55 32-17 48-10 144 0 63 17 89 36 56 13 24 11 22 20 41 56 39 32 11 32-9 21-16 12-88 23-72-4-152-30-176-20-24 2-31 28-87 144-22 48-70 88-62 36-56 13-68-1-100-28-112-93-80-97-48-31-136-29-152-19-48 2-39 15-47 32-112 112-36 48-39 40-87 76-32 19-40 8-72 2-64-12-80-33-88-64-96-96-64-37-40-9-48-1-136 27-136 6-88-15-56-27-47-36-105-105-48-70-16-6-24 6zM4328 1776l-32 28-32 5-144-18-105-39-71-50-60-62-43-72-2-32 9-25 18-23 38-20 72-3 129 31 192 72 31 24z"/>
<path fill="#9fc3c9" d="M1248 440l-8 21-12 11-20 8-64 1-16-8-8-9-8-24 8-23 16-16 24-12 24-2 32 3 15 10 17 24zM584 1147l208-10 72 18 32-9 80-9 88 5 120-6 112 16 56 1 136 30 56-1 104-22 112-12 104 1 40-6 232 16 120 1 72 8 80 17 232 97 64 34 80 26 96 0 32-6 104-2 40-7 152-2 24-16 32-48 32-20 48-10 144 1 85 24 67 29 72 20 24 20 36 51 44 38 8 26-7 16-17 11-88 21-64-3-152-30-176-22-32 5-21 18-22 32-109 192-56 66-56 33-56 14-64-1-104-30-107-90-80-96-45-30-32-11-112-20-152-19-48 1-40 14-48 31-114 114-38 50-40 41-80 71-40 22-48 9-56-1-56-9-80-32-89-63-103-103-56-32-40-10-56-3-140 28-124 6-96-16-48-23-48-36-107-107-53-75-16-4-24 7zM4328 1759l-32 35-24 7-146-17-109-40-68-48-61-64-38-64-2-32 8-23 16-19 40-20 64-1 127 31 191 72 20 16 14 23z"/>
<path fill="#8db9c1" d="M584 1152l72-9 136-4 32 6 40 17 48-15 72-8 80 6 120-2 112 18 56 2 136 30 56-1 104-21 112-14 104-1 40-6 232 19 112 0 80 9 80 19 184 75 104 52 88 29 96 0 40-8 104-1 32-7 152-1 29-16 31-48 28-19 48-12 136 0 83 23 69 30 72 18 24 20 37 52 43 37 5 19-14 16-63 19-64 2-280-46-72-8-32 3-35 30-61 96-53 104-67 83-56 32-56 12-56-1-96-28-108-90-81-96-43-29-40-13-264-40-48 1-40 13-56 35-28 33-36 29-24 30-25 21-39 51-43 45-77 67-32 18-48 10-48 0-64-12-72-27-89-64-103-102-64-36-40-10-64-2-136 27-120 6-88-14-48-21-48-35-104-104-64-87-8-3-32 11zM4312 1760l-16 20-16 9-104-6-67-15-85-32-68-48-55-56-40-64-4-24 7-23 16-19 32-17 56-2 121 29 199 73 18 15 15 40 0 96z"/>
<path fill="#86b5bf" d="M584 1154l64-8 144-5 32 8 40 19 48-19 72-7 80 6 112 1 104 20 64 3 104 29 40 3 80-3 96-20 112-16 128-4 224 20 104 1 80 8 96 21 24 14 40 10 112 48 144 70 48 12 66 3 182-7 32-7 168 1 32-25 21-42 27-21 64-12 96-1 72 15 88 36 72 19 29 28 49 80-46 28-72 3-328-56-54 1-24 16-12 16-95 168-11 32-22 32-54 60-48 25-48 10-56-1-88-25-112-93-86-96-58-32-256-41-104 0-74 41-121 120-85 99-80 66-16 9-40 8-64 0-56-9-64-25-88-63-104-102-72-40-40-8-72 0-136 30-112 2-80-12-64-30-40-31-102-102-58-89-16-3-32 11zM4302 1744l-14 21-24 8-104-8-112-34-80-55-53-60-30-56 2-24 17-18 24-10 40-1 136 26 168 61 20 14 15 40 2 56z"/>
<path fill="#7fb1bc" d="M584 1158l64-10 144-5 72 28 32-15 88-11 184 10 120 22 56 4 144 31 64 0 224-38 136-7 208 23 120 2 76 8 76 16 72 26 232 107 64 23 120 5 192-8 64 9 36 14 18 16 9 24 1 24-16 56-72 140-64 69-40 22-31 9-65 3-96-27-101-80-91-98-64-36-280-46-48 0-56 14-61 38-115 112-81 96-71 59-40 19-72 8-76-14-60-24-88-63-48-51-56-47-72-37-40-8-72 1-136 27-104 4-96-18-40-18-52-38-91-88-73-104-16-4-32 11zM3737 1416l-14 24-27 11-32 4-297-47-57-16-26-16-8-16-1-16 20-48 37-24 44-9 104 2 85 23 131 48 31 40zM4292 1736l-12 16-16 7-72 1-56-10-84-30-49-32-38-40-23-48 0-24 6-16 14-16 22-10 72-2 50 12 166 64 16 17 11 31 2 40z"/>
<path fill="#77acb9" d="M584 1162l64-12 136-4 31 6 49 22 48-18 104-7 160 13 168 28 112 29 48 4 56-2 216-38 136-4 208 25 192 9 80 17 72 24 224 105 72 26 104 10 176-1 56 9 32 15 22 22 12 32 1 32-16 56-34 64-49 58-32 26-32 16-40 10-40 2-72-14-51-26-77-61-91-91-61-36-80-19-200-30-80 3-40 14-64 40-104 98-89 106-63 50-56 23-72 3-64-14-64-29-69-49-106-96-73-37-48-8-64 1-144 27-88 4-79-11-65-24-56-38-85-82-83-111-16-4-32 7zM3712 1408l-19 24-37 9-280-45-34-12-22-16-9-16-2-24 19-31 32-16 56-6 73 5 63 16 128 46 26 26 8 24zM4288 1715l-24 24-48 7-69-10-70-24-42-24-33-32-19-40 3-32 10-16 20-13 48-7 48 12 124 48 29 16 20 24 9 32z"/>
<path fill="#6da4b3" d="M584 1168l78-16 122-2 24 4 56 23 48-16 96-8 168 19 160 30 120 31 56 6 64-3 189-36 67-4 88 3 176 27 144 2 88 8 64 13 80 27 216 105 72 27 88 15 168 5 56 11 24 11 24 24 12 30 0 32-10 32-26 45-56 56-64 32-72 5-56-12-48-24-64-46-104-93-72-39-80-22-144-22-64-6-56 4-40 11-40 20-83 59-68 64-81 103-48 38-64 28-40 5-40-3-64-16-55-27-45-32-108-94-40-24-48-19-48-8-56 1-160 29-80 3-88-13-64-25-56-39-72-67-88-114-24-9-32 2zM3693 1392l-13 22-32 8-272-47-24-11-14-20 0-16 14-19 32-12 48-2 64 6 72 18 94 33 22 16zM4282 1696l-18 21-40 7-48-5-64-20-48-24-31-27-15-32 3-24 19-18 32-3 109 37 56 24 27 18 16 22z"/>
<path fill="#619bac" d="M584 1176l54-16 50-6 104 1 72 25 48-13 96-8 216 35 112 24 120 35 56 7 72-3 168-37 80-7 80 6 160 36 184 0 80 7 72 15 72 25 200 104 96 38 104 21 144 4 40 7 32 20 10 16 4 24-7 24-23 35-56 50-64 27-64 3-48-12-48-23-176-131-96-48-56-16-128-19-64-5-56 4-48 13-48 21-104 67-64 62-61 92-43 35-64 27-72 3-56-14-56-25-38-26-106-93-48-27-48-16-48-8-56 0-168 31-72 3-86-10-69-24-61-39-64-56-104-124-24-10-32-2zM3674 1392l-10 9-34-1-102-23-160-28-10-13 10-13 24-5 104 7 152 41 19 10zM4270 1688l-14 12-32 1-96-27-64-35-20-23-1-16 13-8 37 8 155 64 16 11z"/>
<path fill="#5790a3" d="M584 1191l50-23 46-8 112 1 72 23 56-11 80-7 296 62 144 49 72 15 80-3 160-44 80-9 72 10 112 46 48 10 56 0 128-12 96 5 72 15 64 22 48 34 160 88 144 62 48 12 48 4 136-20 19 8 4 16-7 16-24 26-56 41-56 19-48 0-40-10-48-22-184-122-120-68-176-25-80 1-56 11-56 21-98 48-51 32-64 64-22 40-13 48-40 34-56 21-64 1-56-14-64-30-25-20-39-51-34-29-54-31-56-19-56-7-64 1-160 34-80 6-84-8-76-24-56-33-64-52-112-125-32-19-32-8z"/>
<path fill="#4e869b" d="M2097 1392l-161 62-136 138-40 18-40 2-32-7-32-14-80-61-56-32-48-20-40-9-56 0-104 11-128 38-56 9-88 0-80-18-72-33-72-53-162-167-15-24 4-16 22-32 15-9 32-7 112 0 80 20 96-11 48 0 64 14 104 35 120 28 152 69 64 18 40 4 56-9 152-61 48-10 40 0 40 10 34 21 86 94 32 5 56-11z"/>
<path fill="#467c93" d="M1388 1384l-10 16-18 12-136 31-59 37-45 16-96 3-56-9-56-16-48-21-40-24-72-57-77-84-33-56-6-32 12-16 56-10 88 5 64 13 56 3 72-7 48 8 39 12 81 44 104 21 75 31 44 40 13 24zM1645 1448l-6-24 17-32 43-40 48-32 45-17 48-8 32 8 16 17 11 40-7 32-28 36-40 29-56 21-48 4-40-8z"/>
<path fill="#3d708b" d="M1146 1376l-12 24-22 26-32 20-32 10-80 2-88-23-72-39-48-35-56-51-35-54-18-40 0-16 13-13 40-6 208 22 64-5 48 13 51 29 53 56 20 40z"/>
<path fill="#356381" d="M1085 1368l-29 37-48 24-64 4-72-15-96-53-70-61-31-48-17-40 1-16 13-10 32-3 208 22 56-3 32 8 44 26 33 40 15 48z"/>
<path fill="#2c577a" d="M1050 1344l-28 40-46 22-64 5-64-16-72-39-64-53-28-39-20-56 16-13 24-2 168 14 40 8 48 0 24 6 32 19 27 32 11 32z"/>
<path fill="#244b74" d="M1026 1328l-26 39-40 20-56 8-64-14-64-33-64-52-30-48-11-40 25-9 72 12 104 1 89 12 33 16 22 24 13 32z"/>
<path fill="#1c3b6c" d="M1000 1312l-17 32-39 24-48 10-56-10-56-24-56-40-32-37-19-51 6-8 13-3 72 16 104-3 72 11 22 11 25 24 10 24z"/>
<path fill="#142961" d="M966 1312l-22 26-40 17-48 0-40-9-40-17-56-41-27-40-8-24 2-8 17-2 64 20 53-10 43 0 64 11 22 13 13 16 6 24z"/>
<path fill="#0d1957" d="M948 1296l-15 24-29 16-32 5-48-4-40-14-48-30-32-36-8-33 14 0 58 25 16-1 40-17 56 0 50 17 14 16z"/>
<path fill="#060a4f" d="M931 1288l-11 19-22 13-26 6-40-1-74-29-29-24-16-24 7-2 40 23 24 3 16-6 24-25 56-1 41 16 10 16z"/>
</g></g>
<path class="k" transform="scale(0.25)" d="M545 1070l-1-79 7-79 9-52 12-14 18 9 32 28 7 1 10-8 44-23 21-15 18-18 17-45 28-38 32-30 23-15 27-11 42-12 125-24 56-4 41 2 42 7 98 36 36 9 32 2 34-5 33-14 33-22 33-30 89-89 28-26 28-21 28-15 41-15 28-7 42-5 27 0 42 7 42 15 27 17 28 22 28 28 69 82 84 89 13 12 28 18 28 12 28 8 27 3 14-1 109-26 133-22 66-18 51-19 44-24 27-20 70-61 28-20 27-15 42-15 33-8 89-14 35-8 9 0 14 7 71 75 68 87 78 94 22 22 20 14 24 8 37 2 207-15 114 2 67 8 8 3 10 8 3 11-7 31-12 23-27 33-21 15-50 24-79 28-51 13-61 10-27 1-14-2-27-7-43-15-39-18-65-43-12-6-27-8-42-7-153-7-111-25-55-9-70-19-29-5-30-2-15 4-16 11-95 101-32 28-24 16-33 15-46 16-151 24-281 31-108 8-55-3-97-14-167-33-38-3-142 16-194 30-139 15-1 3 28 8-6 1-46 3-97-5-12 4-9 9-7-6-16-27 0-11-2-3-10 2-74 50-36 13-105 20-54 0-37-20zM545 1168l15-44 37-17 54 0 105 17 36 12 74 44 10 1 6-17 17-9 17-4 83-6 205 12 92 19 71 6 93 23 48 7 29-3 173-31 83-9 83-5 56 0 139 13 194 12 84 10 52 13 183 74 142 69 37 12 25 4 42-1 226-16 83-4 71 0 18-3 12-6 8-8 36-55 10-9 15-6 17-3 52-6 66-1 34 4 33 7 50 16 66 28 53 12 14 5 19 15 48 62 33 27 5 7-1 4-5 4-38 9-41 8-37 3-50-6-83-16-150-24-76-10-22 0-16 2-8 3-16 14-25 32-102 180-25 37-29 34-27 26-28 16-30 10-51 4-33-2-50-11-34-10-31-17-41-35-41-41-70-81-27-26-28-19-28-7-194-28-97-19-42 1-41 12-28 15-28 21-97 94-111 122-43 40-33 27-21 11-13 4-28 4-42 1-42-5-42-9-41-16-28-15-28-18-41-33-84-77-41-35-28-18-42-16-41-5-42 1-41 7-84 19-27 4-42 1-94-4-20-2-40-13-35-15-30-20-41-33-36-35-67-75-43-66-3-15-7-1-35 18-19 6-14-12-9-43-8-64zM3877 1529l11-13 14-12 14-7 15-3 17 1 51 7 50 11 33 11 50 18 117 49 29 5 12 5 9 14 5 31 3 43-2 42-6 29-13 11-19 1-40-6-34 0-33-3-33-7-33-10-34-12-33-15-29-19-39-31-50-55-31-48-6-13 0-12zM3917 675l-1-11 2-11 12-22 17-22 23-19 25-17 28-14 31-11 34-9 34-4 33-1 31 2 29 5 12 4 19 16 14 20 7 22 2 22-1 21-8 18-8 8-24 14-39 17-61 17-85 11-31-1-28-4-24-7-20-9-14-15zM1225 436l-1 11-8 11-14 9-17 6-18 1-16-3-12-6-5-10 1-11 8-11 14-9 17-6 18-1 16 3 12 7zM2457 515l1 11-3 11-14 22-24 18-30 11-32 2-29-7-22-15-6-10-4-10-1-12 3-11 14-22 23-18 31-11 32-2 29 7 21 15 7 10zM3608 561l-3 22-13 20-23 15-28 9-29 0-26-8-19-15-9-21 3-21 13-21 23-15 28-9 29 0 26 8 19 16zM2436 1674l-4 15-11 13-17 8-20 3-20-3-17-8-11-13-4-15 4-15 11-12 17-9 20-3 20 3 17 9 11 12zM3561 1630l-3 4-7 4-24 3-23-3-7-4-3-4 3-4 7-4 23-3 24 3 7 4zM1693 797l11-7 15-4 35-2 36 4 17 5 14 7 10 9 8 12 13 40 4 29-2 13-10 20-9 9-18 12-23 6-12 0-14-4-29-16-12-10-10-12-13-29-13-51-1-17zM1663 1441l3-13 28-39 31-32 34-23 37-17 42-9 16 0 12 4 8 9 8 20 0 12-9 26-8 12-10 11-29 20-34 15-40 10-20 2-42 2-18-3zM665 1049l6-21 9-45 14-33 40-55 19-20 31-27 41-29 51-24 102-31 52-7 30 1 32 8 29 13 23 20 17 24 8 25 2 16-2 19-8 27-29 40-33 42-35 30-30 17-41 13-31 3-31-2-24-13-19-5-11 0-11 5M675 1040l19-57 20-31 28-31 32-28 30-21 31-13 31-6 30-1 31 4 32 9 17 8 21 16 10 14 8 22 2 21-4 17-13 24-20 21-24 16-17 7-24 5-62-8M694 1024l8-16 24-33 28-25 19-15 42-22 30-8 21-1 20 1 21 5 38 17 15 11 5 7 6 14 0 15-11 21-13 12-16 9-16 5-17 1-32-6-29 8M712 1016l33-37 34-24 38-17 24-7 24-2 23 3 21 5 26 13 6 6 6 13 1 6-6 13-11 11-23 11-19 2-31-4-41 6M640 1180l5 21 18 40 18 34 20 29 45 46 82 66 45 27 50 21 74 19 70 8 20 0 21-2 37-13 23-15 17-19 12-16 11-7 26-5 73-9 27-6 15-6 11-7 5-9-1-12-7-13-24-28-16-11-27-15-31-11-41-9-41-2-25-7-14-6-56-39-38-19-31-8-41-5-25 3-40 10-25-10-16-3M665 1205l8 12 8 27 10 20 23 31 20 17 43 31 35 19 37 13 49 6 22-1 19-3 29-12 16-10 12-13 13-20 4-15-1-21-7-15-10-15-13-12-22-15-29-8-32-1-50-7M681 1217l29 49 27 25 32 22 23 11 25 7 24 5 35 0 20-5 19-7 21-16 8-13 2-13-2-12-7-11-10-9-13-7-23-7-58-3M698 1225l23 35 20 20 13 10 38 16 33 9 15 2 42-2 22-8 15-12 4-7 2-7-2-15-9-12-16-8-19-3-62-3"/>
</g>
<circle cx="189" cy="281" r="29.2" fill="#fff" stroke="#000" stroke-width="1.3" stroke-dasharray="5 1.5 9 1 3 2 12 1.5"/>
<g id="arab" clip-path="url(#ac)"><g transform="scale(.1)" fill="none">
<path style="marker:url(#m0)" d="M4432 1137l2964-62 3010 211-7689 313-1126 363 75-84 51-38 131-72 67-19 59 0 56-35 37 54 52-74 51 70 54 51 3-103 39 55 42-52 37 48 2 120 29 56 1-115 47-41 1 100 5 87 54-149 4 95 33-172 26 156 1-76 19-128 71 142 11-70 62 80 19-68 1-75 4590-77 2988 200-1545 393-14 178-2924-348-3451-36-23 70-44 39-74 259-16 323 1-167 6-92 3588-19 117 2239-3086-5-29 177"/>
<path style="marker:url(#m1)" d="M4491 766l10 163 2 109 2924 132-18 132-43 100-2931-171-2816 679 130-138 43-41 111-58 62-11 215-18 282 26 24 312 74-23 0-331 70 7 27 295 74-4 81-26 64 35 1461-260 2981 187 1482 9-55 438-5727 70-751-68 3657 1957 2952 186-2959 314-3105-296-15 276-88 108"/>
<path style="marker:url(#m2)" d="M7507 1059l2948 48 17 236-42 143-8598 159 236-30 171 2 129 13 259 367 1732-166 1486 21 4503-108-4556 614-2799-106-19-101-425-111-70 12-70 40-78 113-30 40 725 283 1370 190-1688 2045 3288 106"/>
<path style="marker:url(#m3)" d="M8249 756l-3709 431 5968 255-3025-203-77 303-2974-172-1829 188-152 24-321-8-466 216 221-182 922 361 1557-53 29-306 4351 445-5804 10-468 60-89 45-37 97-49 90 3503 157 3043 1451-2955 474-3249 370"/>
<path style="marker:url(#m4)" d="M4547 831l45 282 5913 77-42 386-6014-96-2130 83-614 161 1007 274 1676 170-1829-70-122 136-96 82-89 183 17-81 727 51 2804 105 15 82 3051 1907-3003 48-3103-79 1954 308 1161 16"/>
<path style="marker:url(#m5)" d="M8015 810l2536 717-2968-312-49 106-61 102-2915-130-1900 204-677 64 2430 429 12-239 2979 38 3044-130-1759 477-2927 34-9 122-1323-221-17 189-1446 63-18-114-39-66-165-80-74 39-50 40-57 41-69 26-97 144-1-53-52 73 2081 67 5 134 2-61 5874 885-4396 719-54 591-3168-38-191 186"/>
<path style="marker:url(#m6)" d="M8148 797l-3453-23-85 182 25 230 3243-348 2727 567-3093 147-5014-35-450 34-293 94 2688 188 3019-199-3009 722-1610-238-2-71-78 77-67 35-179 125-48 43-230 285 17-42 20-34 72-114 619-5 2861 349 2879-235-5963 1792 6064 45 1-131 13-136-2976 423-3155 65"/>
<path style="marker:url(#m7)" d="M8360 754l-765 281 2944-32-6022 544-1776-82 1744 160 2933 345 46-87 48-168 1123 646-13-146-1228-155-1684 314-15-271-8 127-1174-211-25 120-1588 120-37-55-54-27-77 54-79-26-49 34-35 98-122 61-109 85 68-50 577 145 37 63-303 1804-170 328 3174 81"/>
<path style="marker:url(#m8)" d="M10602 1241l-2998 199-2953-60-64 57-2336 82-67 3-553-171 2920 378 20 192 1189 10 1838-177 1118 209 1848-345-1921 436-80 103-16 125-4040 9-1599 87-23-58-58 8-11-72-65 53-61-30-56 46-49 66-64 8-133 91 3302-42 35 66 150 1681-3294 499-187 162"/>
<path style="marker:url(#m9)" d="M4682 1025l47 172 2897-61 3027 355-3030-146-2903-49-85 259-2072-74-192 23-670-117-4-89-73-51-40 193 3002 374 27-170 2885 346 44-143 90-212-208 527-1784 168-1040-183-7-86-32 164-1771 150-89-23-54 25-289 162 80-57 62-24 343-58 42 32 35 60 1536 169 49-142 21-88 1241 198 63 1719 3314 440-191-96-1015 123"/>
<path style="marker:url(#m10)" d="M4788 766l-3197 368 3050-294 6015 741-2980-82-2935-111-2942 181 2863 197 41 131 2950-63 2823-74-1943 315-30 285-51-159-2835-41-52 186-5-120-878-120-45 213-2309 250 75-33 152-74 43-15 74-15 54-21 76 33 62 42 15 48 87 102 1628-230 1026-3 63 160 2905-96 173 2040-2993 258"/>
<path style="marker:url(#m11)" d="M1591 1046l77 86 69 40 8939 173-2977 235-2963-40-2952-111-10-102-94 186-89 337 3126 144 13-317 13 117 930 158 1965 16 99-310 12 96 2872-73-2215 415-99 110-760-145-38 73-2010 37-7 127-808-90-2398 393 161-65 46-14 143-46 80 9 63 8 38 52 96 47 112 138 1480-107 82-124 1036 22 65 102 4624 564-1520 705-59 392 12-141-943 628-2020-323"/>
<path style="marker:url(#m12)" d="M9213 760l-1528 516-2846 145-27-143-3 311-2712-84-328-8-157 19 3191 357 14-170 51 257 4-190 3487 555-711-244-203 172-1877-242-57 77-54 290-35-131-76 39-542-271-6 127-30 102-37 79-2359 267 195-78 72 15 65 16 51 0 47 48 61 13 1704-14 78-124 893-6 2896-57 195 152-2870 2084-3197-65-134 185 6768 99"/>
<path style="marker:url(#m13)" d="M1656 932l52 112 6054 454-13-87-5311 60-609-243 3100 658 5-215 17 314 56-154 39 89 668-82 2040 101 56-62 17-179 659 300 140-83-340 187-10 241-64-152-504-165-126 160-2201-26-13 202-86-138-10-127-18 241-63-266-15 102-37 104-40-148-13-95-40 168-26-117-77 106-34-100-97 242-2556 355 68-77 111-17 48-30 74-6 46 11 134 27 190 78 40 24 1599-50 149-208 737 38 52 40 110 66 134 106 2727-210 259 1482-6061 319 3180-280 2845 377-6101 102 2952 377"/>
<path style="marker:url(#m14)" d="M1724 750l-80 34 103 167 58 89 13 83 8801 32-2811 426-2862 6-37-106-2-147-3049 46-9-79 3187 413 73 70 49 89 17 101 80-29 2631-108 1 91 656 6 1914-68 155-77-2255 230-176 93-45 145-342-223-15 87-2361-120-70 51-178 298-76 22-38-72-88-15-80 43-2513 315 133-44 47 6 82-3 56 23 171 39 208 113 1373-34 64-51 156-123 51-48 65-23 61-84 350 4 84 3 103 55 52 80 249 136 2684-247 144 110 173 70 1651 693-7705 1042 3111-42 16-112 2936-134 328 713-134-36-74-57-70-56-303 211 598 21"/>
<path style="marker:url(#m15)" d="M1832 753l-23 90 2969 231 57 106-2870 312-91-1-172 108 3420 97 246 221 115-4 112-50 2315-126 323 272-47 344-110-262-32 127-57-137-66-53-47 94-185 88-2730 157-2663 296 121-11 47 28 30-37 56 6 44-9 165 34 52 1 1889-54 108-29 44-101 98-39 71-34 59 79 89 33 105-25 59 46 48 39 120 2 115 83 2638-237 150 87-2655 1590 2875 11 8 165-2940 123-3213 195-148 171-110 77 2612-31 353 43 277-3 3193-42 87-11 97 15 103-2"/>
<path style="marker:url(#m16)" d="M1927 753l3109 804-41-79 212 287 96 84 466-94 2122-134 88 180 41 168 129 15 262-57 2135-68-2628 375-76-26-68 63-186 18-90 12-106 59-5133 392 38-44 34-25 82 11 116 8 65-11 64-21 1998 8 99-14 117-81 73-31 65-64 14 73 240 17 266 63 3116 1293-6103 462 6066-362 51 495-2967 192-52 76-3216-129 5708 157 203 11 186-14"/>
<path style="marker:url(#m17)" d="M8489 763l-6608 165 11 85 27 126 12-286 2803-4 5924 136-2783 534-2890-144-3075 58 3480 377 2684 40 110 56-145 453-47-63-5644 431 138-14 214-7 116 16 46-4 1697 28 60-14 314-102 65 10 81-34 69 24 67 5 63 21 72 1 60-2 90 39 62-5 2527-277 235 141 255 76 180 1182-2971 132-149 377 12-96 14-93 2874 68 135 530-54-282-2952 59-674 337 285 11"/>
<path style="marker:url(#m18)" d="M4892 797l-2878-10 5671 206 533-133-442 429-2637 281-2874-119-300-240-25 108 3538 493 367-100 2433 194-5855 833 86 7 61-14 75-12 86 21 176 7 1777-10 133-38 52-24 209-11 88 24 67 0 2917-212 103 43 2134 729-4678 725-3114 298-161 218-94 189 5710 126"/>
<path style="marker:url(#m19)" d="M5082 768l-104 15-2993 233 2775-85 2948 147 133-159 2799 154-2775 359-6260 155 3636 62 84 56 2735 56 629 77 1711 122-2463 399-88-27-162 15-116 17-5299 424 38-26 297-7 86 11 90-15 1718 25 267-33 184-7 67-24 96 29 339-9 231 14 2690-134 2029 901-4836 761 2947-249 117 612-45 89-2960-57-3261-128-120 194-322 132 6297-67"/>
<path style="marker:url(#m20)" d="M5164 787l-2976-22-147 189 78-126 2714 176 41 94 68 85 2821 15 198 331-2809-43-156-236-2996 167 3631 336 2150 604-280 15-5039 404 82-11 2294-13 392 2 95-8 212-3 94 13 1746-324 599 9 76 40 125 79 270 88 1948 484-9-273 75 527 19-86 28 182 43-82-1919 408-90 76-86 64-6003 378 3118-288 3 96 2880-14 2 126 40 123 62 183-57 187-2919-236-13 92-20-172-3126-17-66 48-80 160-165 177-499 35 96 22 94 0 237-12 3077-15"/>
<path style="marker:url(#m21)" d="M5351 785l-3282 312 2779-200 2939 100 207-45 101-26 326-112-3324 559-2738 46-219 3-86-146-29 69-363 311 6363-52 140 145 191 82 2284 66-8299 896 52-8 116 0 234-1 2638-20 382 10 2345-222 536 167 69 51 1789 184-4 237-15-127-75-62-3040-3 0-63 3221 275 38 282 12-102 14-98-147 313-8180 751 3139-37 21-87 2894-160 29 250 129 319-66-149-2924 212-49 72-6-267-79 254-3133-266-4-82-88 208-62 73-161 69-282 1"/>
<path style="marker:url(#m22)" d="M5448 753l-3349 429 28-168 33-80 2797 49 14 121 79-33 28-176 35 116 48-89 72-64 2601 250 58-102 15 187 109-140 290-177-349 562-53-103-2602 237-204-289-2915 78-56-102-37 112 3368 328 89 33 2910 83 133 9 1980 121-7903 854 350-23 1639 18 234-13 153-5 115 11 341-8 1872-147 14-143 10 69 0 128 6 76 27-161 12-129 6 249 1 65 9-136 18-113 15 74 11 71 16 88 11-333 2 65 11 137 8-70 12 160 27-279 10 232 13-68 20 125 8-233 20 77 17 120 8-54 9-203 1 90 56 183 20-142 3 86 10 105 2-289 45 84 16-108 13 251 2-75 3 145 23-255 33 167 17-96 0 175 18-245 39 108 7 112 41-174 12 209 11-78 17-67 58 65 19-67 57 96 60-60 10 90 132-29 87 3 83 51 1843 0 173 2 67 242-35-107-18 194-42-93-94-163-1774-3-225-40-84 2-81 16-83-16-120 12-19 100-52-73-28 89-30-135-13 78-16 110-35-50-27 83-7-201-13 73-11 62-45-122-33 210-1-88-36-56-34 49-2-113-15 208-19-145-3-105-38 45-2 147-11-60-10-132-21 247-11-145-12 73-8-126-48 193-7-70-7 128-5-220-12-48-21 108-28 128 0-75-17-111-26 224-8-277 3212 755 76 89-2180 102-105 107-81 90-2653-78-3466 501 36-67 190-66 2896 124 51-90 29-150 33-91 2779 87 39-114 20 193 27 119 65-153 93 444-42-214-48 290-31-161-32-95-21 221-83 49-105-2-95-16-90 15-103-44-97 25-2258-287-35 211-2-101-88 229-54-106-40 83-130-46-62 59-113 15-2718-221-63-83-16 75-51 82-60 87-82-14-56 89-67-129-36 104-56-59-121 48"/>
<path style="marker:url(#m23)" d="M2213 1159l2902-35 83-114 48 130 45-162 39 79 3-179 2687 320 86-24 47-131 31 98 26-161-67 519-27-128-51 79-22-136-2647 284-124-324-5 194-5-108-70-58-22-102-2867 159-100-71 5957 334 110 138 2228 238 172-20-7826 808 1579 13 892 0 239-3 4933-87 159-47 10-122-2035 324-163 31-89-4-93 22-59 43-155 66-115 153-4-77-102 8-19 63-43-54-104-1-59-12-66 36-97-2-2043-327-150-8-169 9-99-5-200-4-69 0-2012 11-421 15-61-4 8207 841-2071 119-100 4-48 70-35 98-2628-60-112 65-3525 387 107-1 84-66 9 91 171-118 2852 73 91-116 15 88 55-186 2732 170 69-239 3 169 18 111 66 207-23 104-23-207-33 138-70 70-13-119-10-88-64 135-38-123-41 192-9-112-2564-28-101-57-64 138-11-85-62-63-12 178-70-66-79 99-2929-145 0 93-72-154-10 173-40-84-54-69-63 84-99 46-29-81"/>
<path style="marker:url(#m24)" d="M2229 1064l18-185 3102 273 61-172 37-80 2824 213 31-100-3 483-55 69-14-330-10 186-13-102-2834 175-27-172-2938 46-151-146 6027 425 96 81 2277 500-11-104-34 186-25-274-6 354-7799 409 138-10 47-1 7535-180 73-42 81-129-2114 491-372 84-65 64-71 35-405 61-2019-363-140 13-626-15-2216 18-43-4-44 3-123-6-50 16 5377 368 137 12 2634 502-1824 14-267-13-6814 681 96-21 116-6 33-75 120-17 207-25 303-28 5439 124 72-151 48-74-264 463-6112-137"/>
<path style="marker:url(#m25)" d="M9095 759l-6815 23 3161 276 41 520-18-125-41-74-25-141-3015-3 3179 390 81 37 97 10 2626-46 157 125 2029 440-49-99-105-31 148 409-2171 516-2653-173-514 24-297-5-344-6-2098 0-143 13 5165 382 67 0 3041 539-2326-102-182 263-2284-77-4154 472 112-16 176-107"/>
<path style="marker:url(#m26)" d="M8573 774l-6248 207 54 129 3114 25 2871-188 8 216 22 359-66-214-5846 38 5993 321 2019 632-33-92-84 476 90-173-2235 550-2569-241-341 50-66-10-120 16-67-7-61-14-149 7-355-28-1799 20-49 7-84-1 5062 387 173 0 157 12 99-31 71 538-2492 36-201 64-3726 377 74-20 79-24 709 3 2456 124 63-101 187-209-306 392"/>
<path style="marker:url(#m27)" d="M5541 1003l2863 51 0 291-2832 146-43-102-22-109 4912 1312 45-186-2321 753-2597-304-141 36-224 32-105 16-48-31-60-2-55-8-107-24-55-8-66 7-1918-29-156 31-101-13-72 1-49 16-44 11-55-17 5140 368 3239 578-2118-138-373 2-108 136-2543-22-173 115-3287 271 3093-91 2797-5-3083 439-434 335"/>
<path style="marker:url(#m28)" d="M9005 758l-6651 142 3202-28 2932 686-33-95-2807 88-4052 109 8817 664-28-171-1920 880-2998-138-136 48-63-17-122 40-133 53-19-64-94 12-70-32-103-19-113-45-1737-27-208 56-114-4-245 16 5405 389 160 27 176-22 71-29 215 313 94 37-6844 606 119-66 119-20 5962 326"/>
<path style="marker:url(#m29)" d="M5590 758l-3105 424 5982 68-2820 200-59-148-3020 56-36-80 6040 351 70 86 113 65-427 1315-97 42-2635-248-77 25-75 42-204 25-68 83-66-55-30 73-64 24-63-35-46-42-58-28-71-53-1841-116-99 29-39 19-78 14-84 29-48 20-94-35-69 1-54 13-121-61 5761 534 14 114 91 29 4-151 137 172-148 81-148 293-2575-138-238 178"/>
<path style="marker:url(#m30)" d="M2431 988l3187-38 1 211 2883-20 34 261-11-85-2851 25-3025 58 6044 1581-99 46-2892-155-321 145-70 22-65 38-54 56-105 19-159 0-68-36-50-39-21-59-132-48-1971-20-62 16-83-25-49 15-42-6-49-7-62 14-68-43 2700 329 101-13 2465 83 97 25 130 34 65 38 81 49 292-111 17 92 22-219-261 516-19 94-4-212-2504 101-188 120-65 68-3604 242 3422-18 2780 232-2920 68"/>
<path style="marker:url(#m31)" d="M8705 772l-6338 2 3284 260 2835-137 136 651-2808 47-55-97-4179 244 8795 769-1943 621-1068 62-1708-293-76 64-57 19-94 75-103 64-69 43-516-82-38-80-106-31-77-60-1634-16-115 19-40 22-143 82-54-32-27 37-86-37-120 1 2541 214 191 94 81 38 103-47 102-69 2375 193 63 60 118 114 448-374 66 308 132 72 2072 265-1944-211-3119 28-251 41-85 60-3545 332 79-5 650 70 2582 62 66-198 2807 222 37-227 5 96-3087 478"/>
<path style="marker:url(#m32)" d="M8627 1430l-53-216-2815 191-37-193 2971 411-3153 1431-106 75-782-91-1612-219-82 59-133 58-68 37-96 56-208-11-79 3-53 7-58-74 2504 248 137 86 7 94 105 4 84 57 131 114 2-131 67-98 2 178 13 93 66-54 16-312 2166 149 767 41-448 297-2164-17-89-44-166-42-267 55-101-13-14 228-8-94-2895 368 82 5 451 15"/>
<path style="marker:url(#m33)" d="M2441 884l77 169 6026-31 77 265-61 1815-2918-100-111 132-853-5-99-55-47-77-1532-142-125 85-45 42-119 30-74 55-67-2-45 10-42 7-46-23 2359 260 84 159 129 83 131-21 209-108 79-110 9 134 44 78 25-326 53 375 2083-74 104 68 619-294 116 202-659 429-28-265-1968 103-830 80-22 82-7-243-3381 376 97-2 3201 237-139 415"/>
<path style="marker:url(#m34)" d="M5680 864l47 240 2865 21 138 323-2915-197-3196-12 7727 1168-1836 762-2792-228-82 156-42 56-962 23-157-211-41-79-1473 42-84 76-91 41-66 29-159 37-175-24-50-22 2356 149 77 205 20 101 742-86 16-141 56 216 95 87 1711-271 53 56 66 77 915-61 39-151 2156 717-136-120-2727-7-30-91-73-91-2763 82-24 200-1-107-56-133-7-85-3031 445 668 98 2400-26 37-106 2865 188 28-131"/>
<path style="marker:url(#m35)" d="M5681 765l-3083 396 3116-209 2853-35-4006 2275-69-139-1570-71-71 101-72 50-89-20-48 11-49 24-82-24-89-9 2183 130 70 184 17-90 1 221 904-186 2976 119 1812 240-2650 230-1841-140-1119-10-3175 154 3192 402 19-358 2835 598-2856-143"/>
<path style="marker:url(#m36)" d="M2451 792l6395 10-176 2289-2870-229-29 49-57 132-1244 69-1566-40-191 105-250-41-182-80 338 144 1948 181 1095-107 11 153 1806 94 51 68 1002-263 13 87 158 146-1021 240-19 98-102-231-1749 1-1088 328-2-85-37-179-2746 351 2837 69 2936 204-15 118"/>
<path style="marker:url(#m37)" d="M2532 903l6095-53 111 490-6042-8 5953 1840-2923-64-1302-169-1383-61-50 85-124 202-381 11-107-23-44-26-92-138 314 219 113 22 10 49 58-24 45-34 53-4 1627-8 36 112 73 271 8-89 1208 80 2804-330 1937 699-2946-165-2928 38-33-166-18 98-3019 120 431 224 2725 141 2922-29 28-117"/>
<path style="marker:url(#m38)" d="M5821 1090l2815-57 88 191-2836 150-178 1809-2687-262-52 107-62 170-488-4-192-292 283 333 102 46 89 51 61 60 19-60 53-23 5 60 38-106 5767 82-1064 627-19-99-66-100-37-78-2864 207-54-207-2845 270 2924 49 70 129 2920-79 2963-40-5842 516"/>
<path style="marker:url(#m39)" d="M2650 1093l3114-244 40 134 56 185 2935 370-3017 1473-1368 31-11 82-1463 23-664-52 191 168 93 43 69 48 28 80 49-31 123 54 57-30 25-60 1545 42 39 111 1273-173 30 128 1592-65 1435 320-1344 173-2957-125-3 158-43-333-2713 390 126 49 239 57 2483 81 26 92 5995-168"/>
<path style="marker:url(#m40)" d="M2533 799l112 200 6021-72 44 154 39-212-2848 603-2927 1628-663 67 38 42 141 109 231 179 32 59 135-61 47-210 1482-9 2970 229 14 94 1318-172-4243 434-2829 24-66-85 2968 278 108 277 2851-272 40 122 44 79 3057-82"/>
<path style="marker:url(#m41)" d="M2729 1133l6194-281-6175 378 6050 478-3009 1478-3407 66 31 39 113 81 35 44 17 55 62 41 48 38 134 15 2984-281 4622 650-47-111-2931 159-3024-289-2143 389 259 12 127 23 1840 53 5955-140 186 266-3042 208-2944-20"/>
<path style="marker:url(#m42)" d="M5827 754l-3218 94 48 69 6103 90 38 109 44-200-6078 472 3043 1678-2766-86-772 168-38-114 173 304 59 22 122 169 55 55 6076-333-6527 809 163 0 87 3 2094 197 6037-9 101 155-6012 239"/>
<path style="marker:url(#m43)" d="M5891 885l2936 475-1 85-6042-144 5959 1866-5709-111-758 140-41-121 84 168 21 66 76 79 42 40 51 48 391 97 72-230 20-137 1368 158 12 148 4433 126-1419 242-15-89-4643-174-972 307-104-119 304 201 121 27 454-13 1905 50 79 316 2932-201 34 77 2996-113 99 201 100 151-3121-63-2931 121-26 222"/>
<path style="marker:url(#m44)" d="M5954 766l-3252 39 104 203 3118 30 2834 2021-4398 124-1348-34-644 249 31 68 55 19 41 72 66 35 386-69 4406-247-4503 349-182 15-58 22-11 315-167-2-102-10-112 19-117-14-73-18-87-13-85 18-120-123-116-90-11-78 1063 380 1741 113 3052 206 2929-279 91 242 181 277-79-121-6050 129-1-94-14 305"/>
<path style="marker:url(#m45)" d="M6058 790l-3252 118 2-92 23 317 3158-185 2-85 2869 316 247-330-3277 2273-4-196-3603 193 48 148 44 82 56 229 38-58 602-248 7342 719-5996-249-1551-61-73 6-52 189-3-84-6 180-72-246-14 119-38 73-9-178-4 69-21-178-33 286-13-120 0-64-25-58-11-64-20 151-9 127-22-245-19 193-17-133-3 75-48 53-8 66-56-34-61-37-18 64-95 4-36-55-27 63-49-86-65 45-62-102-10 91-38-131-56-21-6 63-40-112-39-43 2773 716 2964-192 31 127 2992 43 38-76 153 351-88-59-54-69-2949 111-3007 150-30-187-36-84-19 235-1 116-4-203"/>
<path style="marker:url(#m46)" d="M2867 751l24 101 3073 290 2967-46 51-106 55-69-6198 300 7452 1115-8684 1202 670-216 21 133 7 134 25-64 668-79 5805 86-1477 443-2973-130-1591 109-5-103-16-70-446-105-3 61-42 38-118 6-71 15-158-23-24-54-94-54-87-61 1068 521 1574 271 29-382 5954 356 27-191 86 413-109-105-66-54-2902-16-22 127-2984-47"/>
<path style="marker:url(#m47)" d="M6155 755l-3197 3-37 238 2985 585 4389 647-7205 663-1428 642 49 21 520-313 45 303 2-142 2041 189 9-339 1547 81 1445 380-2989 218-1449-247-60 183-625-113-218-2-227-137 2558 691 6229 347-273-105-5959 187"/>
<path style="marker:url(#m48)" d="M3041 758l-24 90 3015 208 61-144 2809 393-3058 1678-3647 209-569 299 566-153 15 57 3-111 34 186 792-143 8-102 2857 315-1608 134-1395 76-42 54-593-175-227 112-110-52-57-39-67-36 996 444 4480 238 2929 12 33-91 14-134 97 540-193-129-2794 140-3117-101-25 84"/>
<path style="marker:url(#m49)" d="M2931 1090l91-157 3125-90 2885 224-3058 193-1619 1738-2153-14-19 260 5 270 1-60 833 57 1263-174 3 123 4526-153 15 129 1466 432-2996-257-4308 11-99 250-55 101-640-287-73 35-137-29 2281 529 25-141 2934 285 2892-5-2880 195"/>
<path style="marker:url(#m50)" d="M2999 1026l-132 316 7414 1151-4412 573-2768-18-9 66-10 52-879-224-26 180-596 287 42 28 74 37 48 26 50 52 366-269 1 128 0 169 894 19 9-148 26 65 7144 457-2975-164-1336-182-1660 233-28-110-1256-9-782-121 2023 720 2999-133 8-98 11-90 2888 255-2602 408-343-234-2979 258-16-259 68 356"/>
<path style="marker:url(#m51)" d="M3106 827l5883 391-79 180 1391 1217-4399 556-1590-97-1166 107 0-69-27-140-928 58-568 350 52 39 186 142 242-261 7 66 1 230 16-125 7-225 15-42 968 37 3 71 1 75 2819 78 1355 47 27-161 2960 429-3092 127-2977 85 0-348-39 232-1072-223-58 54-83 143-833-198-72-1-60-32-68-16 2255 579 5-103 5927 81 71 433"/>
<path style="marker:url(#m52)" d="M3111 918l5779 602-69 1593-4475-172-69 227-1066-70-41-75-998 45-580 224 104 78 68 42 28 40 171 103 49-237 45 273 8-331 2 174 1-101 24 206 1057 16 11-85 18-235 21 105 1008-9 46-94 1702-1 2897-25 72 194-1772 413-12 162-3026-5-1008-197-69 42 1062 365 0 174 3007-285 25 164 2990-198-3019 366"/>
<path style="marker:url(#m53)" d="M3012 1128l76-114 2978 158 71-123 90-246 2919 149-6186 276 257 1939-80-255-993 186-482 230 205 149 52-173 2 200 44-256 1 52 1 50 42 17 2 160 6-268 2 165 24 61 19-273 1166 227 17-156 907 222 18-107 1838-68 15 188 1192 52 1670 19 34-295 1249 609-85 41-2893-297-37 83-3037 44-5-138-941 46-145 224-67 53-40 70 1099 290 50-261 2993 104 2984 277-5959 55"/>
<path style="marker:url(#m54)" d="M9084 1155l-189 445-2949 1491-59-145-1527-67-119 217-984-39-68-111-1090 199-8-51-213 106-67-15-225 41 237 3 5 57 26 142 22-137 13 52 16-103 21 193 46 18 1305-226 3 298 9-124 887-150 1904 114 15 79 1178-24 1755 42-1972 410-78 114-1016-240-1933 7-817-144 762 527 41 84 3044 99 2936 24 24-199 17-94 387 643-6350-113-60-155"/>
<path style="marker:url(#m55)" d="M3204 823l5928 248-124 267-2992 20 25 1840-30-73-1830 41-840-9-49-30-34-158-147-156-909 54-43 126-31 35-69 128-7-70-23 40-109 71-174-56-114 101 45 21 63 66 15-109 27 126 1-49 57 74 58 22 95-191 1358 117 9 177 660-12 21 99 22-174 58-86 1935 271 23-317 39 246 84-47 6-87 2791-46 1314 306-1341-39-1863-3-45 82-58 65-73 132-890-197-2044 193-31-194-41 304-646-364-95 145-42 107 3815 259 3016 92 131 336-2971-10"/>
<path style="marker:url(#m56)" d="M3147 1079l3012 105 64-197-214 473-2942-255-248 236 3282 1718-115-116-49-65-1690 49-71 74-62 97-699-20-104-120-157-193-1064 176-91 115-4-54-55 51-45 5-94-28-45-29-36-17-109 103 90 30 41 51 1655-5 45 63 1 84 9 86 453 61 21-89 64-134 2159-92 137 223 720 128 139-69 1947-149 41 140 976 287-80 76-59 88-3008-290-55 76-80 50-2916-53-1 148-30-253-591 72-262 277 844 138 49 71 3014 49 46 120 2919-182 23-107-2860 405"/>
<path style="marker:url(#m57)" d="M3191 962l3082-74 2821 408-121 210-2866-234-3096 48 5910 1824-2847-50-1892-55-702 119-94-70-52-80-109-100-1271 205-86 11-170 46-4-121-111 77 1891 462 11-368 51 94 1 94 19-165 15 243 37-173 36 202 7-119 90 74 76 80 2-173 80-13 74-110 71-11 2177-23 59 348 14-253 50 87 16 94 74 66 3-103 480 133 106-92 113-51 115-99 1754-97 1201 476-1107-123-2228 54-68 59-26 165-79-211-346-62-141 17-2397 151-17 110-24-269-4 84 0 284-90-368-104-15-182 0-109 241-178 103 669 126 107 238 2957-294 39 91-2899 436"/>
<path style="marker:url(#m58)" d="M9074 1424l-186 311-2690 1413-52-36-103-80-46-76-83-58-45-55-1589 90-42 37-130 109-40 45-95 50-431 0-58-78-84-97-106-77-1621 167-32 31-39-47 2028 161 62 77 65-34 133-30 2412-10 106 53 49 71 54 171 78-94 13 105 77-68 32 111 116-24 101-51 2286-137 13 187 816 179-103 77-91 159-913-283-2250 102-2 115-83-188-15-95-85 3-240 74-2574 217-6-88 0-132-83 48-21 81-45-156-15 96-88-33-34 76-175 110-318 184 755-95 108 166 33 89 6109 28-5829 392"/>
<path style="marker:url(#m59)" d="M3264 918l2996 242 2902 58-163 381-2803-312-69 131-44 87-2985-220 5867 398 1315 388-3930 1121-2216-199-80 55-50 37-118 42-73 26-129-30-104-32-71-52-55-16-99-80-114-83-48-22-1559 193 2083 187 2783 70 170 98 100 88 125-49 2433 117 529 299-835-146-2433 109-126-92-113-4-270 70-2490 138-68 50-77-58-93 2 324 194 3092-26 72 117 2977-118"/>
<path style="marker:url(#m60)" d="M3261 1080l3024-23 2890 290-63 188-3094 44-2827-361-179 181 5843 1628-2563 103-60-49-67-46-1942-126-63 34-319 134-81 7-57-19-407-201-1697 117 5009 357 359 57 123-20 85-33 2009-71 136 161 577 283-141 93-20 143-406-298-84 38-2977 103-88 5-2919 189 422 222 74 149 3112-28 2932-162-5664 607-302-313"/>
<path style="marker:url(#m61)" d="M3332 832l5907 216-49 399-2911-133-3132 42-239 80 6177 184 9 1578-2662-2-77-85-264-138-108-70-1911 74-139 55-283 0-57-38-98-29-74-38-51-37 3170 344 134 65 120 43 90 12 2558 185 316 163-112 116-11 94-141-281-81 48-248 52-2623 165-77-68-103-14-2947 206 83 27 41 73 3131-73 35 100 2989-121 117 227 779 483-357-55-2948 34-327-235-3070 68"/>
<path style="marker:url(#m62)" d="M6355 779l-3023 209 3041 177 2884 39-2995 225-66 71 2857 206 1177 449-3719 1009-277-143-1940-169-186 62-128 77-107 17-60-18-62 17-195-67-49-39-1918 14 5031 313 397 108 206-58 2112 30 87 149 115 97-2960 462 3128 97 281 398"/>
<path style="marker:url(#m63)" d="M3344 1135l3029-194 2887-66-27 653-2870-192 3804 996 11 85 30 163 104 161-1302 339-195-137-2362 167-160-71-130-85-2001-83-164 61-81-1-220 21-291-102 3363 421 184 38 122-18 228-73 1986 7 658 392-298 97-329 46-6175 310 399 149 3202 54 3160 149-3040 1"/>
<path style="marker:url(#m64)" d="M3412 794l2 284 7-104 2989 55 2885 331-18 93-2913-15-3029-186-144 170 6009 214 971 608-954 914-275-127-2284 142-52-32-192-78-67-36-227-105-75-41-108-40-1569-37-336 88-181 33-92 14-133-30-67-24-100-37-102-18 3361 387 163 55 2742 267-26 107-97 77-6507 392 75-25 168-19 104 41 83 32 192 173 2978-212-2844 370-78-64"/>
<path style="marker:url(#m65)" d="M3481 912l2978 232 2876-146 4 160-2893 125-3146 48-233 140 3022 154 2915 159 1122 380-13 308-3553 627-267-133-2075-143-238 56-179 25-65-15-2154-42 5198 354 242 54 128 3 2405 176 168 165 91-20 322 28-100-5-488 326 0-88-146-41-343-12-2626 163-96-41-232-37-96-13 631 351 130 165 2877-199 366 436-2842 90-156-81-2971 146-95-89-159-125"/>
<path style="marker:url(#m66)" d="M3488 751l9 361 11-115 43-173 2914 38 32 97 2933 116-14 191-36 171-43 147-5915-332-9 116 5753 394 132-96 775 667-9-95 109 420-1054 428-1894 108-581-113-127-39-57-12-63-48-182-62-198-84-1941-10-154 7-90 24-144-16-58 15-362-54 3593 407 108 3 117 15 2402 105-283 494-237-46-5448 538 3148 13 2894-301 135 246 101 105 73 123-6006 134"/>
<path style="marker:url(#m67)" d="M6447 768l-2788-10-104 425 24-250 5 171 78-214 11 120 119-64 2782-22 5 129 13 108 65-151 54 70 2693-136 84 58 4 140 115-16 116 59-121 60-28 157-68-135-31 129-17 89-2875-237-254 322-2989-94 5911 278 141-102 17 86 67-91 49 152 494 305-28 84-42 171-52-85-13-90-66-108-29 252-3-110-41-87-67 176-12-230-44 121-6475 587 47 1 270 2 2444 4 3977-342 69 94 51-73 40 77 43 104 96 96-820 400-62-103-393-101-1605 173-110 21-41 58-16-57-111 42-109-41-92-11-71 6-36-47-40-73-86 2-92-51-54-12-23-46-77 6-49-44-43-26-72 2-65-24-52-17-2046 11-189-13-79 18-156-5-70-13 5950 400 103 63 44 73 44 105 257 62 85 7-527 470-36-108-105-19-5775 540 2901-310 82 105 2874 177 52-138 69 88 17-162 25 86 96 118 240 221-130-8-68-106-28 143-55-125-19 84-61-155-84 124-76-45-2319 205-151-46-80-66-74 49-45-134-45 106-51-78-19-96-2748 288-188-176"/>
<path style="marker:url(#m68)" d="M3741 790l12 343 55-83 8-215 88 35 2659-36 103 76 78-46 56 147 85 32 30-93 2624-18 42 93 137 64 7-104 83 54 61 59 80-79 75 57-195 130-92 75-69 51-55 156-16 92-3062-166-2839-208-90 49-80 101-97 105-232 76 6305 349 65 87 31-293 12 107 51 92 19 83 451 72-193 35-200-44-166 268 0-233-43 128-63 184-2487-10-82-57-6 82-109-72-42 59-75-35-3335 436 325 6 60-5 197-13 155 8 97 24 1830-28 111 4 58 10 35-57 26 61 43-29 68 6 20-113 12 54 35 40 0-118 39-37 11 184 6-95 31 50 14-74 23 105 1-171 29-81 9 288 11-82 11-63 11-72 27 148 13 51 1-364 2 226 1-155 21 73 7 130 3 52 29-136 10-165 2 343 1-283 17 59 7 111 14 66 12 55 24-288 3-66 2 160 7 147 22-80 27 57 2 49 9-257 10-61 6 207 24 67 1-129 11 184 36-269 7 155 0-231 3 299 23-111 10-73 8 212 27-326 1 58 1 110 2 87 17-143 9 200 23-85 8 126 2-315 12 74 17 51 5 104 17 75 15-358 6 100 9 152 13-56 0 136 4 49 23-309 7 72 12 79 10 110 23-41 8-152 32 98 1589 81 122 36 24-84 86 104 3-181 32 104 76-142 29 167 32-85 32-97 34-108 7 339 19-109 43-114 24 193 53-283 15 111 30 119 34-177 19 110 4-210 29 290 40-168 45-140 19 288 14-90 15-111 91 107 13 130 80-29 147 122-8 157-39 113-45-157-25 91-4-227-5 335-74-194-6-89 0 201-79-148-3 258-10-155-31-178-56 311-10-117-15-93-11-99-49 282-38-107-23-182-23 88-4 184-110-78 0-162-93 102-15-95-87 7-68 62-111-77-7 88-156-126-1560 249-26-231-8 142-6-84-7 135-37-219-3 169 0 115-13-181-19 108-5-184-18 46-3 191-21-136-11 83-17-124-9 178-13-239-14 140-23 71-16-112-9-114-11 68-18 182-16-268-7 193-5-138-2 51-9 204-26-170-14-123-4 209-9-148-28 41-18 103-2 58-6-112-9-139-29 102-6-60-2 185 0-58-20-195-25 138-10 75-3-123-41-64-5 52-2 85-53-29-3-135-21 55-48 62-17-72-49 71-18-80-36 54-26-66-50-14-43 37-65-40 3393 424 66 173 85-128 5 160 61-92 29-110 60 90 19 92-665 513-6213 224 163 59 112 81 42 78 3003-164 99 145 2763-65 4-117 9 209 49-363 44 75 925 646-413-34-94-51-91 53-128 13-75-60-78 66-15-85-113-47-11 106-44-206-57 162-2238 101-114-17-81-31-101 40-72-82-69-102-18 133-28-243-71 221-2-266-70 204-2437 167-156-84-138-6-60-170-10 110 108 180 143-10 2775-5"/>
<path style="marker:url(#m69)" d="M4037 793l-113-37 23 228 2818 197 71-63 10-230 159 66 2606-69 177 32 92 37 94 207 141-142-418 419-2987-162-75 70-604 341 3441 286 544 21 203 10-339 1-450 281-2208 101-121-33-316-117-64 41-5137 482 1964-10 145-25 74 2 61 12 142 17 276 22 72 9 1738-44 66-28 114-27 62-25 173-129 88-102 715 3 49 150 2 166 1893-271 1008 369-44 123-28 106-13 101-1348-357 1258 419 69 214 95 109-982 378-3053-8-2974 291 3130-195 59 113 62 175 2774-40 8 95 18-332 821 680-520 49-352-211-27-80-2777 54-47 235-2803-38-52-237-9 127-85-168 158 367 530 40 2401-14 269-14"/>
<path style="marker:url(#m70)" d="M4039 933l59-73 2880 205 2454-218 275 29 291 52-88 304-79 76-3363 218-2903-90-142 135-174 25 5971 246 128 19-2294 444-87-31-98-51-286 125-3199 402 236-29 124-43 166 21 2458-127 90-112 871 39 6 300 1504-137 85-45 110-52 247-155 844 961 25-100-3899 719-2978 347 75 50 3024-39 2836-172 1288 587-2880-33-1303-214-36 220-15-127-2819 105-28-145 51 274 2935 13"/>
<path style="marker:url(#m71)" d="M6803 785l-185-25-2489 17 2835 67 112 46 2457-50 317 21 251 58 116 91-6547 349-339 246 5739 237 600-218-242 424-14 137-2127 188-594-175-93 65-95 132-4913 300 1880 25 58-26 269-25 209 26 105 36 1811 9 51-25 177-52 68-30 66-41 1058 107 1752-213 16 1433-6086 295 84 23 83 78 3085-222 51 171 2817 55 112 430-134-153-2801-179-2964 330-14-85-11-115 2982 302 621-1"/>
<path style="marker:url(#m72)" d="M3934 1078l3222-112 2634 478-2941-239-3082 82-261 299-397-21 3093 114 3510 66 115 148 267 60-748 289-71 84-2030-4-482-169-3107 508 79-52 103 19 77 7 266 91 1894-50 309-210 2400 258 1429 672-1200 482-2708 304 2835-116 1063 708-1040-69-60-280-1568 341-1301-278-2973-47 927 424 2917-52"/>
<path style="marker:url(#m73)" d="M9343 806l844 99 117 114-3686 486-2972-37-258 230 3093-87 2414 242 482 114 400-150 177 100-2809 354-104-56-106-30-81-43-145-54-66 45-143 147-4904 366 1745 73 44-20 134-57 67-12 97-44 149-20 153 39 106 45 196 92 1733-69 293-180 1034 387 2884 371-3989 1121 2837 147-5811 107-91-224 154 456 2888-28 3272-3 124 10 192-11 623-10"/>
<path style="marker:url(#m74)" d="M4013 1046l179-178 5578-64 421 293-270 241-147 189-3058-80-114 149-2745-360-267 345 2347 142 428-53 2931 265 44 197-12-89-2883 289-62 52-3170 356 209-91 131-66 72-13 159-49 106 13 61 10 251 134 1909-63 50-42 66-24 2906-142-6188 1829 3181-209 65 75 18 88 2883 63-1729 543-1198-231-14 168-2934-194 3996 271 2509 35 291-7 106-17 167 12"/>
<path style="marker:url(#m75)" d="M9647 795l-5729 374 3174-87 3232-189-324 389-3171 17-42 76-2951-27-130 194-521 103 83 69 134 65 132-47 2754-7 2844 197 674-189-544 435-84 117-2065-88-94-62-162-92-267 17-33 72-4953 445 37-48 13 65 1601 125 89-52 111-82 110-60 102 0 65-37 287 39 73 61 65 44 1896-18 212-178 3997 680-7202 1251 3135-84 2849-242 20 109-1527 704 99-16 2560 27"/>
<path style="marker:url(#m76)" d="M9946 783l-83-7-2894 420 271-247 2859-132-14 401-196 230-3187 104-2939-71-180 319 73-45 34-99 2391 133 254 7 79-53 81-31 3330-104 152 212-759 190-2281 31-168-28-297 163-67 92-87 46-2451 86-129-77-2142 205 74-46 510 230 16 79 1099-113 23-57 49-27 105-99 64-25 78 10 71-48 129 12 100 30 37-57 2226 80 2759 12-23 1349-2889 137 128 361-2943 406-27-104 4261 197 2445 7 641-1 146-48"/>
<path style="marker:url(#m77)" d="M10317 784l-119 15-3133-1-121-40-2728 15 2827 378 3384-164-3637 513-2930-6-415 405 1 88 84 6 9-123 57 67 93-12 41-116 90-171 2353 174 75 50 115 37 64-60 29 87 61-84 26 146 35-87 45-194 34 255 94-51 129 50 2098-39 108 76 858-259-869 585-2771-88-61 108-2324 9-84-72-92-71-103-48-3 165-55 67-31-128-1922 191 34-43 48 144 6-63 11-83 1681 116 62-101 542 34 199 142 1780 22 4293 391-4188 1099 35 347-3041 1 4623 338 55 68 1560-56"/>
<path style="marker:url(#m78)" d="M4107 1040l6333-201 60 67-598 645-3009-180-12 84-2913-149-56 115-884 164 241 266 85 77 433-28 18-173 7 88 90-193 2239 349 123-9 119 32 269-207 5 85 93-228 98 213 146 102 2954-333 178 238 86 44-1075 204-14 83-1863 53-134-149-687-18-99-5-14 85-83 9-14-116-20 187-76 145-2143-82-70-65-69-73-15-96-62-63-67 111-37-104-92 43-95 128-5 94-12 73-21-236-42 174-28 73-1612-35-17 44-41-28-53 18-70 104 30-54 148 107 5-54 142 39 1276 192 62-38 23-57 51-39 13-54 32-78 728 1 47 60 41 53 110 86 31 67 1598-38 120-119 81-87 4186 459-1347 1067-2882 307-2969 274 4188 297"/>
<path style="marker:url(#m79)" d="M10491 769l-2921 30-3543 354 3458-336 2528 604-3019-119-111 277-2912-35-886 113 190 275 598 47 38-74 31-150 2065 85 19 85 748-178 82-86 71 152 3103-102-2965 290-929 275-3-93-44-122-33 331-1914-16-70-22-38-174-91-147-14 113-523 41-71-43-17-89-8 275-1466 49-28-92-4 57-10-106-7 148-48-124-51 4-39 46 142 115 24 66 35-73 12 70 38-35 23-37 20 40 14 40 145 97 55 26 965 100 144-235 19-72 2680 155 48-103 2887-36 95 1922"/>
<path style="marker:url(#m80)" d="M7770 761l-375 30-3207 187 3113-141 3268-20-577 717-5970-296-21 170-1054 144 229 262 790 29 27 97 6-265 2919 50 93 139 1879 83 1237-178-1082 459-59 114-4850-45-118-222-713 139-34 62-1336 75-35-218-3 243-12-51-16-43-13-127-2 79-76-76-43 48-137 140 386 69 35 23 16 62 153 163 960-7 1129-88 4540-7-5891 1772 3067-258 20 82 47 217 2933 122-5884 211"/>
<path style="marker:url(#m81)" d="M10645 764l-3447 41 12 243-124 176-94 244-2883-262-64 381-933 161 78 163 868-101 16-84 2913-119 2015 517-24-88-1723 112-41-80-1214 192-17 96-1857-265-875 15-13 81-9-163-15 341-7-119-1193 137-23-286-11 235-42-230-1 67-2 93-35-55-1-147-39 38-82-4-20-45-49 51-23 103 377 333 3-94 48 102 34 36 1034 32 40-98 10-87 988-23 45 93 1696-2-2941 2026-66-114"/>
<path style="marker:url(#m82)" d="M9526 756l-5371 357 5963 193-2 157-33 116-3009-242-2956-37-13 160-2255 534 2268-51 2940-276 27 100 26 109 3007-195-4139 479-40-110-1727 279-27-102-2145-123-3 231-42-66-30-53-146-160-88 88-95 96-13-79-43 135 528 196 1049 68 7-92 2737 105-3062 1673 6101-151 75 528-2985 21 3377 212"/>
<path style="marker:url(#m83)" d="M4287 893l2851 663-33-133-2940-33-33 168-2370 430 1194-360 53 73 41 100 55 58 1043-202 3050 282 1717 206-30 103-27 111-5699-286-1081 301-1-316-21-48-27 215 0-52-34-161-62-6-272 66-78 164 530 166 1000 210 41-204 1209 235 1537-196 3169 2249-5989 109 2982-2"/>
<path style="marker:url(#m84)" d="M7378 945l2820 299-3025 11-2 85-2963 136-3-258-2509 773 235-60 68 9 88-4 31 50 955-63 1096-158 3 88 1721 70 1318-90 2960-227 73 148-4338 479-17 135-1683-296-1065 110-2 101-54-281-964 321-10-214-15 57-10 50-3 70 67 164 959 48 1230 30 4602 1730"/>
<path style="marker:url(#m85)" d="M7667 868l2612 297-79 321-3001-56-2950 137-1409-48-993 402 1114-130 1279-138 3024 335 1575 80-4558 56-1199 111-6 161-19-224-885-87-19 302-10-143 0-91-536-52 572 423 2149-110 1539 208 140 2111-12-174-3-101-3063 43"/>
<path style="marker:url(#m86)" d="M9408 751l-5141 281 2941 143 105-142 3280-112 76-53-443 537-3002 119-5258 357 96 1 931 10 1267-114 15 139 2957-221 2-85 1591 547-4519 79-31-233-1215 331-26-229-817-73-12 102-31 186-540-295 553 402 15 159 8 169 3640-43-2844 2022"/>
<path style="marker:url(#m87)" d="M4352 809l-53 391-4 290-13-202-2622 663 59-24 174-68 269 34 38 46 710-217 2932 438 0 118-3630-72 0 65-626-218 1474 409 17 116 4 106 5698-202-2819 1881-3015 299 64 192"/>
<path style="marker:url(#m88)" d="M4317 1110l2980 8 471-272 2549 440-3047 54-5496 538 63-18 419 104 600-175 45 57 75 146 4308-218 3017-112-2966 641-10-114-12-120-5061 49 8054 1429-1409 786-5998 244 29 258"/>
<path style="marker:url(#m89)" d="M4384 997l37-125 3046 105 90-36 2842 230-78 233-6 119-2984-323-30 262-2965-66-2544 424 208-18 119 10 140 59 44 57 491-104 9-81 14-99 7481 273-5940 432-2048-311-47 159-34 141-18 158 3722 1449-3091 443 6038-198-5990 554"/>
</g></g>
<rect x="153.5" y="70.5" width="918" height="421" fill="none" stroke="#333" stroke-width=".9"/>
<text transform="translate(189 58.5) scale(0.95 1)" class="t m">0</text>
<text transform="translate(189 520.8) scale(0.95 1)" class="t m">0</text>
<text transform="translate(364.5 58.5) scale(0.95 1)" class="t m">3</text>
<text transform="translate(364.5 520.8) scale(0.95 1)" class="t m">3</text>
<text transform="translate(539.9 58.5) scale(0.95 1)" class="t m">6</text>
<text transform="translate(539.9 520.8) scale(0.95 1)" class="t m">6</text>
<text transform="translate(715.4 58.5) scale(0.95 1)" class="t m">9</text>
<text transform="translate(715.4 520.8) scale(0.95 1)" class="t m">9</text>
<text transform="translate(890.1 58.5) scale(0.85 1)" class="t m">12</text>
<text transform="translate(890.1 520.8) scale(0.85 1)" class="t m">12</text>
<text transform="translate(1065.5 58.5) scale(0.85 1)" class="t m">15</text>
<text transform="translate(1066.9 520.8) scale(0.85 1)" class="t m">15</text>
<text transform="translate(147.6 113.9) scale(0.95 1)" class="t e">3</text>
<text transform="translate(1078.5 113.2) scale(0.95 1)" class="t">3</text>
<text transform="translate(147.6 201.7) scale(0.84 1)" class="t e">1.5</text>
<text transform="translate(1078.5 200.9) scale(0.84 1)" class="t">1.5</text>
<text transform="translate(147.6 377.1) scale(0.82 1)" class="t e">-1.5</text>
<text transform="translate(1078.2 376.4) scale(0.82 1)" class="t">-1.5</text>
<text transform="translate(147.6 464.9) scale(0.88 1)" class="t e">-3</text>
<text transform="translate(1078.2 464.2) scale(0.88 1)" class="t">-3</text>
<path d="M188.5 64v13M188.5 485v13M364.5 64v13M364.5 485v13M539.5 64v13M539.5 485v13M715.5 64v13M715.5 485v13M890.5 64v13M890.5 485v13M1066.5 64v13M1066.5 485v13M147 105.5h13M1065 105.5h13M147 193.5h13M1065 193.5h13M147 368.5h13M1065 368.5h13M147 456.5h13M1065 456.5h13" stroke="#333" stroke-width=".9" fill="none"/>
<text x="611.8" y="43.6" class="x m">x/D</text>
<text x="611.8" y="533.7" class="x m">x/D</text>
<text x="107.9" y="288.6" class="x m">y/D</text>
<text x="1117.3" y="288.6" class="x m">y/D</text>
<text x="491.2" y="550.4" class="c m" textLength="107" lengthAdjust="spacingAndGlyphs">-7.8e-04</text>
<text x="737" y="550.4" class="c m" textLength="97.5" lengthAdjust="spacingAndGlyphs">7.8e-04</text>
<rect x="491" y="576.4" width="245" height="11.5" fill="url(#cb)"/>
</g>
<g transform="translate(1208 0)">
<g clip-path="url(#fc)"><g filter="url(#bl)"><rect x="140" y="56" width="950" height="450" fill="#fff"/><g transform="scale(0.25)">
<path fill="#f8f7f5" d="M1533 2000l-210 0-59-27-49-37-36-48-21-56-74-296 0-24 9-16 67-47 31-49 8-32 9-96 18-64 10-72-12-104-9-32-5-80-20-104-22-42-50-38-15-24 12-48 33-240 20-57 46-63 42-29 67-27 237 1 80 42 48 40 45 53 16 56-23 272 9 160 24 168-5 112-15 96-4 168 18 240-2 136-8 32-21 40-66 69-40 29zM2680 1957l-120 0-48-12-72-39-25-26-21-32-16-64-5-216-38-312-3-72 6-120-11-104-1-96 66-429 22-51 42-42 48-26 80-17 128 4 56 19 64 38 53 48 30 40 10 32 4 56-10 216 15 152 6 312-6 320 8 128-2 96-20 49-32 44-40 38-64 38-64 22zM3840 1909l-72-1-72-22-64-35-40-34-16-22-19-67-23-240-29-184 7-168-9-120 0-112 42-368 11-56 20-48 32-31 80-47 64-15 144 1 64 16 56 22 40 26 50 52 25 48 5 32-5 104-14 112-9 240 3 88 10 56-12 176 24 232 1 152-10 32-25 40-83 75-72 41zM848 1527l-32-3-48-14-64-44-80-69-16-6-24 3 0-572 40-3 56-53 56-33 24-10 56-9 40 4 40 20 29 30 10 32-47 168-2 208 4 72 49 144 4 64-9 24-22 23-40 19z"/>
<path fill="#f3f1ec" d="M1448 1982l-56-3-96-25-56-37-40-45-29-56-38-144-23-144 7-32 49-48 30-56 15-120 18-64 10-72-44-312-15-40-42-48-9-24 8-40 1-88 19-128 24-64 67-76 32-17 56-19 80-14 56 1 56 10 48 17 72 42 48 49 20 31 13 40 4 40-11 176 4 120 31 248-4 112-20 144-2 112 15 248-7 88-10 40-35 64-78 77-80 38zM2680 1925l-112 0-40-8-72-39-51-62-20-64-9-184-38-312-3-72 7-120-12-104-1-96 63-385 24-54 40-44 56-34 72-16 120 3 56 20 56 33 55 53 25 31 12 33 11 56-4 192 16 144 6 320-8 328 4 112-8 72-24 56-37 48-32 31-56 35zM3840 1877l-72-2-56-17-64-36-38-30-24-32-17-48-14-72-46-336 8-168-8-120-1-112 28-256 18-112 22-56 24-33 88-57 32-14 32-5 144 2 56 14 56 23 32 22 48 51 24 44 8 41 3 72-11 112-1 104-19 176 2 48 12 64-2 168 23 232-8 128-9 24-31 48-87 77-56 32zM848 1513l-72-15-64-45-88-76-40 2 0-542 40 1 58-54 38-26 40-19 64-12 32 5 36 20 21 24 11 32-4 40-33 120-2 144 2 128 44 144-2 64-8 24-17 20-32 17z"/>
<path fill="#eee9e1" d="M1440 1960l-48-3-88-23-48-31-44-47-35-64-28-104-19-160 5-32 37-48 28-56 13-120 17-56 13-80-44-312-11-32-39-72 7-56-4-88 16-110 24-58 72-77 80-30 80-13 104 11 72 31 32 21 34 33 34 48 13 32 7 40-2 216 12 152 24 168-4 112-15 96-6 104 9 296-18 106-15 38-25 40-72 72-72 36-64 17zM2680 1904l-112 0-40-10-64-37-56-72-16-49-12-168-38-312-3-72 8-120-13-104-2-96 25-176 40-192 27-53 48-47 48-29 64-15 112 3 56 19 48 29 78 77 18 40 12 48 3 184 16 144 6 320-10 448-23 80-66 88-66 46zM3840 1856l-64-1-56-17-56-30-40-32-26-32-18-40-20-77-46-323 10-168-10-120-1-112 28-256 16-88 24-56 31-40 84-54 56-18 144 3 72 20 40 20 56 52 27 41 14 40 9 72-8 216-29 168-1 40 18 96 4 152 20 168 0 104-13 72-9 26-31 46-81 72-56 33zM848 1503l-56-10-72-47-96-82-40 4 0-520 40 4 65-60 39-27 40-18 56-10 32 5 30 18 20 24 10 32-2 40-28 112-3 144 4 136 32 112 6 40-6 48-10 24-29 22z"/>
<path fill="#e8e0d4" d="M1440 1944l-48-4-80-21-48-31-44-48-32-56-28-96-14-160 7-40 23-35 27-61 13-118 19-66 11-72-13-104-9-32-20-168-40-112 7-56-7-88 13-96 23-57 72-77 80-30 72-12 40 1 64 11 64 28 25 16 39 38 30 42 16 40 8 40 8 264 34 256-4 112-16 96-6 96 6 224-3 80-18 88-20 48-26 40-65 65-64 33-64 18zM2680 1887l-112 0-40-11-56-34-59-74-15-48-53-464-2-72 8-120-14-112-1-88 24-174 41-178 23-47 56-55 40-25 64-16 104 1 56 18 57 36 68 72 27 72 11 192 17 136 5 448-16 320-31 80-64 80-58 39zM3832 1839l-56-1-56-19-40-20-40-31-32-36-22-44-20-64-36-216-10-96 11-176-11-120-1-112 28-256 17-80 28-57 32-36 88-55 48-11 128 1 72 20 40 19 50 47 30 45 13 35 12 72-5 208-13 80-24 88-3 40 30 152 2 104 20 160-6 120-22 72-28 41-32 33-88 65-48 17zM848 1496l-64-15-64-45-40-39-56-42-40 5 0-504 40 6 8-4 64-62 32-21 40-20 56-11 32 7 32 22 20 35 3 32-26 128-3 144 4 136 20 72 12 80-14 65-24 20z"/>
<path fill="#e2d5c6" d="M1440 1929l-80-10-46-15-42-28-41-44-33-56-26-88-12-152 5-48 44-104 10-104 18-64 14-88-14-96-11-40-20-168-28-96 7-64-9-88 13-96 21-48 70-74 72-27 72-12 40 1 64 11 64 30 69 63 25 48 16 72 7 184 40 320-3 104-16 96-8 96 4 224-5 72-21 88-44 84-64 65-64 33zM2672 1873l-104-1-40-12-48-31-64-79-25-126-33-256-10-184 8-120-15-112 1-128 32-184 34-126 18-34 62-58 40-25 64-14 88 1 56 17 56 34 66 69 24 56 12 64 8 136 18 136 5 448-21 312-32 78-64 80-56 37zM3832 1825l-56-2-48-16-40-20-35-27-37-40-24-46-22-66-34-192-10-104 12-144-11-152 0-160 25-205 16-70 24-48 38-45 82-52 48-13 128 2 64 17 40 19 48 45 30 46 12 32 15 72-4 200-15 80-26 80-6 48 5 40 19 56 12 64 3 96 20 160-7 112-25 72-59 72-86 63zM848 1489l-64-16-160-127-40 7 0-491 40 9 8-3 64-62 40-28 32-15 56-12 32 7 32 25 13 25 5 40-23 120-2 144 4 136 17 72 10 72-8 56-8 16-24 18z"/>
<path fill="#dccab6" d="M1440 1916l-40-2-80-22-40-27-40-43-33-54-23-80-11-152 3-48 36-96 11-112 21-72 11-80-25-136-19-168-20-88 7-72-10-80 4-64 22-72 66-73 72-30 72-13 96 10 72 34 58 56 25 48 17 72 12 176 43 320-4 104-17 96-7 96-1 232-8 72-20 72-42 80-64 66-57 30zM2672 1860l-96 0-40-11-48-30-64-77-28-118-34-256-10-184 9-120-15-112-3-80 4-56 31-176 37-120 17-30 88-74 72-20 88 1 48 15 56 34 63 66 26 56 13 64 10 128 19 136-1 224 7 96 0 128-7 128-18 176-31 72-65 83-48 33zM3832 1812l-62-4-74-32-56-46-32-48-26-58-18-72-24-144-8-96 14-176-12-120-3-120 29-253 22-75 42-57 88-59 48-16 120 1 64 17 40 18 48 46 24 35 13 31 19 80-1 184-17 80-31 88-6 48 6 48 21 56 12 56 5 96 21 152-9 112-26 72-31 42-30 30-82 60zM848 1482l-56-12-64-46-40-38-64-48-8-2-32 10 0-477 40 11 8-3 71-69 33-22 40-19 48-9 32 8 24 18 14 24 7 40-19 120-2 144 4 136 14 64 8 80-13 64-17 16z"/>
<path fill="#d6bca5" d="M1440 1903l-32-2-80-20-40-26-40-44-32-54-22-77-8-152 2-40 31-104 9-104 21-72 13-80-17-104-10-32-15-144-16-104 7-72-11-96 4-56 20-64 66-72 70-28 72-11 88 11 64 31 55 53 25 47 21 97 12 144 47 320-4 104-17 96-9 96-3 224-10 72-21 72-48 87-56 56-56 29zM2672 1846l-96 0-32-8-48-30-67-80-29-112-34-248-8-184 9-120-16-112-3-80 3-56 33-180 40-115 16-23 88-71 64-17 88 1 43 13 53 33 61 63 26 56 13 56 35 264-2 224 8 104-1 120-8 128-22 168-30 71-64 81-48 33zM3832 1798l-56-2-72-31-55-45-33-47-27-57-20-72-23-136-6-88 15-176-13-128-2-152 26-216 23-72 43-54 85-58 43-14 120 1 64 17 40 21 39 39 30 48 24 80 4 56-2 136-20 80-32 80-8 56 7 48 21 56 16 64 6 88 21 152-11 104-27 72-52 64-86 64zM848 1475l-56-13-56-40-48-45-64-48-8-2-32 13 0-464 40 13 8-3 72-70 35-24 37-18 48-9 32 8 22 19 12 24 5 40-14 112-3 144 5 136 11 64 5 80-14 64z"/>
<path fill="#d0ae93" d="M1432 1888l-64-9-41-15-50-40-41-56-30-96-6-160 27-128 5-96 26-88 12-72-18-104-12-37-22-227 7-96-11-88 2-48 20-64 60-67 64-26 80-11 80 11 56 28 51 49 25 48 28 128 9 104 42 240 8 80-3 104-17 96-10 88-8 232-12 72-21 64-44 82-56 57-57 29zM2672 1832l-96 0-28-8-40-24-68-76-33-108-25-168-14-141-3-115 10-136-17-104-5-80 4-56 30-168 42-112 15-24 92-73 56-15 80 0 48 14 48 31 56 58 24 49 16 56 41 264-3 224 9 104 0 120-10 128-28 168-30 64-59 76-48 33zM3832 1784l-48-1-40-14-66-41-30-31-32-50-24-51-16-56-24-148-4-80 17-120 0-64-13-112-4-152 25-208 25-72 42-51 80-54 40-15 120 1 64 18 32 18 35 35 30 48 24 72 7 64-2 128-21 72-36 88-9 56 7 48 40 120 7 88 22 147-12 101-27 72-53 64-76 57zM848 1468l-51-12-61-43-40-39-72-55-8-2-32 15 0-449 16 3 16 12 16-2 75-72 33-24 36-18 48-10 24 5 24 20 10 19 7 40-9 112-4 144 17 272-12 64-9 10z"/>
<path fill="#c99e7f" d="M1432 1871l-64-10-34-13-46-38-35-50-29-88-7-160 20-120 4-96 28-88 14-80-22-112-11-32-17-240 9-96-11-72 2-40 19-64 59-64 57-21 72-10 72 10 56 28 48 47 21 42 28 120 13 104 47 240 9 80-2 96-30 192-14 232-13 64-25 72-42 74-54 54-50 24zM2664 1815l-88-1-37-14-30-24-61-68-32-98-27-170-13-141-2-107 12-136-19-104-6-80 3-48 19-128 17-60 48-106 96-75 56-14 72 1 44 14 44 29 49 51 24 48 17 56 46 264-4 216 11 112-1 112-12 128-31 160-27 58-61 78-43 29zM3824 1767l-40-2-64-28-43-33-37-48-32-55-19-57-27-160-2-72 19-120 1-64-14-112-6-152 26-208 22-60 45-52 83-54 32-9 104 1 64 17 32 18 32 33 24 38 27 76 7 56-2 128-59 152-12 64 10 56 41 120 30 224-13 96-28 72-49 59-72 54zM848 1458l-48-11-56-39-120-100-16 0-24 14 0-430 32 19 16-3 80-77 32-23 32-16 48-10 16 2 24 17 11 23 7 40-1 176-6 72 12 192-3 80-10 56-10 11z"/>
<path fill="#c89779" d="M1432 1845l-56-10-32-14-36-29-33-48-16-40-15-72-3-112 9-96 7-24 2-104 38-104 8-56-8-64-16-64-13-24-10-56-1-192 9-64-7-128 17-56 44-51 56-24 64-11 64 11 48 24 37 35 24 48 31 112 19 112 14 32 40 184 10 80-1 112-31 160-27 248-16 64-20 40-4 24-40 72-44 46-40 22zM2656 1790l-72-1-24-8-24-15-67-70-40-96-31-176-8-96-1-112 13-112 1-56-22-112-5-72 2-48 16-112 25-72 46-80 71-60 32-17 40-9 56 1 32 9 40 24 51 52 24 48 25 80 39 176 8 64-6 72 0 128 12 136 0 72-14 128-31 136-33 80-54 72-37 27zM3824 1742l-32-2-56-24-40-30-36-46-30-48-25-64-25-136 0-72 21-104 0-128-5-8-3-56-6-16-8-144 7-24 3-80 16-88 22-56 45-53 72-48 32-9 96 2 48 15 32 16 26 29 27 48 23 64 8 56-1 96-22 64-38 80-16 88 9 64 44 120 31 216-7 56-31 88-32 48-85 68zM840 1444l-32-6-56-33-120-102-16-5-32 13 0-406 28 15 12 1 104-93 48-26 48-8 24 9 12 13 16 48 4 176-7 72 11 192-8 80-15 48z"/>
<path fill="#c69072" d="M1432 1831l-48-9-32-13-32-25-32-43-29-85-9-136 19-216 34-104 9-64-9-72-26-88-11-64-2-160 12-80-4-128 16-48 40-46 56-25 56-9 56 10 48 24 32 30 24 45 32 108 81 335 9 72-1 112-34 176-29 224-18 66-27 70-37 65-36 39-44 24zM2640 1779l-64-7-32-17-30-27-38-48-44-111-16-71-15-138 1-144 13-160-29-200 18-144 21-64 39-71 37-41 54-40 45-16 64 0 32 11 52 37 36 47 32 81 40 163 15 93-6 208 14 168-16 168-44 168-35 65-40 49-48 29zM3816 1730l-40-8-48-26-32-29-51-75-34-96-16-96-2-48 20-184-1-64-12-104-7-128 9-104 19-96 24-56 42-48 73-45 56-7 56 6 42 14 30 17 40 53 27 74 10 64-2 88-57 152-14 88 9 56 40 120 30 224-16 80-23 56-26 40-74 61zM832 1433l-24-3-56-31-120-100-16-6-32 11 0-391 24 11 16 0 120-99 35-17 37-5 24 5 16 18 14 38 7 56 2 120-8 72 10 192-17 94-13 26z"/>
<path fill="#c4886b" d="M1432 1816l-42-8-33-16-29-25-28-39-29-80-11-128 18-208 34-112 9-64-8-72-27-96-11-72-3-144 12-80 1-112 19-55 32-38 48-27 56-9 48 9 45 24 31 32 26 48 31 96 69 264 17 80 10 120-2 40-36 184-23 168-32 126-40 90-42 56-46 33zM2640 1767l-32-2-32-10-56-43-43-64-34-88-16-72-11-128 14-296-27-216 19-136 19-56 31-59 32-41 48-40 40-19 40-6 56 13 37 24 23 24 34 56 34 98 30 126 10 80-7 200 12 184-14 160-23 101-23 67-33 61-36 43-44 28zM3816 1716l-48-11-56-41-48-72-32-88-21-136 15-200-16-288 18-160 13-48 17-40 36-48 41-32 33-18 48-6 64 12 56 33 32 45 27 78 7 64-3 64-51 160-12 88 10 64 36 128 24 200-14 86-20 50-20 33-37 39-32 24-35 15zM824 1421l-24-4-50-25-118-97-24-6-24 7 0-374 24 7 24-4 96-84 40-21 32-8 29 4 19 15 16 33 11 64 3 112-9 72 9 104-1 88-15 80-14 24z"/>
<path fill="#c28063" d="M1440 1796l-32-4-32-16-28-24-28-39-33-81-14-112 17-192 33-120 10-72-7-72-35-144-7-72-3-96 19-152 15-56 28-48 41-32 48-14 40 7 42 23 36 40 26 49 29 79 67 236 23 100 10 104-2 56-52 296-36 152-40 88-42 64-45 38zM2640 1750l-32-4-24-10-53-48-51-84-28-84-11-72-2-80 16-296-26-224 4-56 11-64 19-56 25-49 32-47 42-40 38-21 32-5 32 6 35 20 31 32 29 48 30 72 22 72 17 80 5 72-9 184 9 248-6 88-12 72-29 96-42 80-48 50-25 14zM3816 1700l-48-13-44-39-41-72-27-88-18-128 7-192-10-264 13-144 15-64 18-48 30-48 33-31 32-18 40-6 56 14 45 33 30 48 21 69 5 59-4 56-43 168-8 80 7 64 39 176 14 144-13 88-36 80-27 32-29 24-33 15zM816 1408l-32-7-32-15-120-96-24-7-24 4 0-355 32 3 16-4 96-81 32-17 32-9 40 10 24 32 16 61 4 97-10 88 10 104-3 88-22 80-19 19z"/>
<path fill="#c0765b" d="M1440 1776l-24-4-31-20-47-64-37-88-13-96 16-160 34-136 10-80-8-72-41-184-7-96 3-56 25-113 30-71 39-48 19-12 24-6 38 10 39 32 32 48 35 73 88 283 18 84 9 96-7 80-50 264-34 128-40 85-47 75-33 33zM2640 1733l-32-8-28-21-68-93-36-83-13-96 25-328-4-80-23-160 5-96 24-80 49-88 51-56 42-15 24 5 26 18 27 32 27 48 52 128 14 64 5 56-14 192 8 312-10 112-27 88-46 88-38 45zM3808 1683l-40-17-28-34-29-64-23-88-18-136-7-368 9-160 30-136 20-48 29-40 25-20 32-10 48 13 37 33 28 48 14 56 1 103-35 169-8 88 6 72 37 200 8 104-10 88-27 72-22 32-25 24-28 15zM808 1396l-24-4-32-14-120-94-24-7-24 1 0-336 48-5 104-83 32-14 24-4 38 12 23 32 14 48 8 96-12 88 12 104-5 80-22 74-16 18z"/>
<path fill="#bc6850" d="M1440 1756l-16-5-15-15-73-124-22-60-7-64 7-88 45-184 10-88-9-88-47-200-7-72 3-48 11-48 16-37 67-123 15-16 14-5 24 9 24 28 64 109 28 59 80 256 14 72 6 72-16 131-47 221-21 72-28 64-85 144-19 23zM2640 1715l-16-5-14-14-90-136-21-56-6-56 6-56 30-152 8-120-6-104-31-160 1-72 11-48 24-51 66-117 14-14 16-6 16 6 18 22 78 151 23 65 8 64-22 152-6 80 2 176 13 152-3 64-20 72-63 128-15 24zM3808 1665l-21-9-21-32-34-144-22-168-11-272 8-168 31-168 15-56 18-40 21-22 16-5 29 11 29 32 18 40 11 56-1 80-32 184-6 96 6 80 33 208 7 88-8 80-20 64-32 48-18 13zM800 1384l-24-4-32-16-112-87-24-9-24-1 0-312 48-9 104-80 48-16 40 11 22 27 16 48 12 88-2 31-14 57 16 104-8 72-26 74-16 15z"/>
<path fill="#b75c46" d="M1440 1669l-13-21-43-35-24-28-18-33-10-40 2-88 53-192 13-112-13-104-53-184-10-88 4-40 16-35 24-26 57-43 12-16 3-19 8 7 16 36 56 62 27 50 81 248 13 64 6 72-18 136-64 248-45 88-62 64zM3808 1643l-8-7-5-20-3-120-40-280-8-144 13-176 33-168 6-104 4-14 8-6 16 11 11 25 13 72-4 64-34 184-9 128 8 96 35 216 6 80-9 104-17 44zM2640 1623l-64-51-24-27-19-41-5-40 9-56 40-80 14-40 16-144-1-88-7-64-11-40-40-96-5-64 17-56 65-72 7-30 8 7 10 31 46 53 22 35 15 40 7 40-8 48-39 88-8 88-3 232 7 40 28 88 2 56-17 56-51 64zM800 1370l-24-2-24-10-120-92-48-14 0-278 48-15 56-48 48-32 48-14 32 7 24 26 16 47 16 84-22 83 3 40 19 64-8 56-25 72-15 17z"/>
<path fill="#b0503b" d="M1432 1582l-24-5-23-17-17-26-9-30 1-72 61-160 15-72 8-88-17-112-67-175-14-97 3-24 11-16 24-13 40-5 24 3 32 14 27 33 35 120 58 149 18 123-24 144-30 80-18 88-15 48-19 37-36 51-20 17zM2688 876l-24 7-24-2-24-11-20-22-10-32 0-32 8-24 14-15 16-6 24 5 32 32 25 64-1 16zM792 1356l-41-12-79-57-48-44-40-14 0-225 40-13 51-55 45-32 40-19 24-3 27 6 21 22 36 114-4 25-21 39-6 32 6 40 25 56-5 40-31 74-16 18zM2624 1541l-24-4-23-17-9-16-5-32 3-24 10-24 24-21 24-5 24 8 16 14 10 20 4 32-3 24-11 24-16 14z"/>
<path fill="#a2402e" d="M1448 1465l-8-4 0-21 45-152 23-104 9-64-8-56-18-72-61-168 1-16 9-1 16 23 40 107 32 103 11 72-2 48-17 79-56 200zM784 1337l-24-5-32-17-56-41-42-42-30-18-16-2 0-184 19-4 26-16 36-48 39-34 32-19 40-10 24 4 24 20 21 39 19 64-3 16-27 40-9 40 9 48 29 48-3 32-36 70-16 14z"/>
<path fill="#973026" d="M784 1322l-24-4-32-15-48-33-49-46-31-17-16-3 0-166 21-6 27-17 40-53 32-28 32-18 40-8 24 5 24 22 19 33 16 56-3 13-33 43-9 40 6 40 12 24 26 32 1 24-11 29-24 35-16 13z"/>
<path fill="#8c241d" d="M792 1308l-24-1-40-16-48-33-48-41-48-21 0-149 49-23 39-52 32-29 32-18 32-6 24 3 24 15 21 31 16 48-4 16-37 40-14 48 11 48 14 24 31 32 0 16-30 54z"/>
<path fill="#821816" d="M792 1297l-32-3-32-14-104-76-40-18 0-128 56-31 32-45 24-24 32-21 24-7 32 0 24 11 22 27 14 40-3 16-42 40-19 40-1 32 12 32 23 32 34 32-6 24-15 24-11 10z"/>
<path fill="#771015" d="M800 1288l-40-3-40-17-136-106 0-79 24-13 32-31 56-71 32-21 24-8 32 0 24 12 16 21 8 28-7 16-54 56-18 40 1 24 15 32 65 72-8 32z"/>
<path fill="#6b0b1a" d="M664 1087l-15-23 0-16 28-48 27-27 32-19 24-6 32 4 19 16 5 26-24 28-88 69-24 5zM816 1270l-16 9-32 0-40-13-24-15-53-51-2-16 7-16 24-20 16 0 16 9 96 77 13 22z"/>
<path fill="#5f0c25" d="M674 1040l15-40 47-35 40-6 16 5 11 12-1 16-7 8-51 28-32 12zM806 1264l-30 9-35-9-41-24-23-32 3-6 24-2 32 8 57 32 13 16z"/>
<path fill="#520d2a" d="M704 1008l9-16 31-17 24-4 17 5 2 8-67 27zM784 1256l-16 5-24-5-34-24 18-2z"/>
<path fill="#f7f7f6" d="M2168 1933l-128 1-48-7-64-22-48-23-32-22-24-25-37-59-20-72-28-288 0-120 18-144 4-112-22-168-8-160 4-64 25-136 40-91 24-29 32-26 88-47 96-28 136 1 64 16 48 18 32 20 32 34 12 28 7 48-3 120-40 240-6 96 11 152-6 120 3 72 40 320 2 88-6 80-17 80-31 48-54 33zM1080 639l-16 19-24 17-32 10-40 4-80-11-72-30-160-130-37-38-14-24-9-32 1-24 13-32 22-27 31-21 33-13 40-6 248 15 48 8 40 15 24 18 13 19 13 64 0 48-10 64zM3304 1909l-72 0-80-17-72-31-59-45-31-40-25-56-24-168 1-472-5-192-12-136 8-112 16-112 21-56 46-47 72-42 96-28 144 0 104 20 48 25 24 19 20 37 8 40 0 112-20 198-11 50-4 152 7 128-6 168 30 176 11 104 3 88-7 64-23 60-48 54-64 34zM4328 1830l-48-7-40-18-36-29-20-32-34-120-33-312 9-120 16-56-21-200 3-192 24-144 33-112 24-40 51-38 40-13 32-3zM1064 1478l-48-19-32-24-24-28-64-140-7-43 0-248 23-87 32-68 16-21 16-11 80-33 40-6 32 7 32 17 26 42 22 112 4 72 9 32 12 104-11 72-17 64-9 96-9 32-27 41-16 14-56 21zM622 1888l-20-32-7-32 6-32 16-32 40-40 159-119 40-19 48-14 80-6 32 7 24 13 40 45 36 93 11 88-11 64-12 17-24 18-40 16-56 11-232 6-72-13-32-16z"/>
<path fill="#edf2f1" d="M2160 1901l-128 0-40-8-56-19-48-24-54-50-36-48-22-56-34-280-1-120 17-136 5-120-22-168-6-160 7-72 25-112 17-38 32-46 64-56 80-41 88-24 128 2 56 14 48 19 32 22 32 35 13 33 7 40-1 96-38 232-6 104 10 144-6 120 4 72 40 320-4 136-21 80-38 52-56 33zM1088 574l-32 44-40 21-64 6-72-16-32-16-37-29-94-104-26-40-1-32 10-16 20-15 48-12 184-8 48 5 40 12 40 26 21 40 5 56zM3296 1877l-64 0-80-18-56-25-56-43-47-55-24-48-17-80-7-64-4-152 5-312-6-192-11-136 10-112 26-112 13-24 54-52 64-38 96-27 136 0 72 11 48 20 34 22 25 32 12 32 7 56 1 48-18 192-16 104-1 112 7 136-6 96 2 64 29 168 11 104-2 96-21 67-26 37-38 38-56 31zM4328 1798l-48-9-47-29-25-32-30-64-21-64-28-192-7-96 10-104 26-72-6-96-18-56-6-48 0-184 13-80 19-72 58-120 46-38 32-12 32-4zM1072 1467l-40-15-72-61-24-39-40-88-7-72 1-216 22-80 24-48 24-31 112-51 40-5 48 19 26 44 20 104 4 72 8 32 12 104-10 72-17 64-10 96-9 32-24 36-16 14-40 13zM1107 1752l-3 56-16 35-32 26-56 18-80 4-168-16-45-19-20-32 2-24 12-24 100-104 63-44 64-21 64 0 32 8 24 14 34 43 16 40z"/>
<path fill="#e1ebec" d="M2160 1880l-136-1-72-22-64-33-62-64-23-32-19-48-39-272-1-112 17-144 4-112-22-168-3-160 8-72 25-96 15-32 28-38 32-34 40-32 72-38 88-26 120 1 72 19 40 19 56 53 16 36 8 48-1 64-37 232-7 104 10 144-5 120 4 72 33 232 7 88-5 120-8 40-15 36-48 58-48 27zM1074 552l-26 35-40 21-48 6-56-11-40-21-39-38-29-56-3-40 9-16 22-15 64-21 72-6 57 10 39 22 24 34 6 48zM3296 1856l-64-1-80-19-48-23-49-37-47-51-32-52-17-65-9-72-5-144 5-312-6-192-11-128 15-128 26-88 34-46 88-60 96-30 128 0 72 11 32 11 40 22 26 28 17 32 12 56 2 40-9 112-26 216 6 208-5 104 3 64 31 176 8 96-3 80-23 64-63 73-56 32zM4328 1776l-48-10-40-29-68-121-37-200-7-104 13-104 30-56-1-112-25-64-9-48-2-168 13-80 21-67 40-61 25-56 39-34 56-14zM1080 1459l-40-14-75-61-23-32-44-88-9-64 2-216 21-81 24-45 24-29 24-16 88-37 40-7 24 4 24 12 23 39 21 104 3 72 10 40 10 96-10 72-16 56-17 129-24 37-16 14zM1069 1816l-29 24-32 13-48 7-48-3-56-12-48-21-21-24-1-24 26-56 52-53 56-25 64-5 32 8 24 13 32 40 11 30 4 32-5 32z"/>
<path fill="#d6e5e6" d="M2160 1863l-128 0-72-21-64-33-64-65-18-24-22-48-19-88-25-184 1-144 13-96 6-104-4-64-18-120-1-168 15-83 32-92 64-75 48-37 56-29 88-27 120 1 64 17 40 18 40 33 20 26 15 32 7 48 0 56-35 224-8 104 10 152-6 112 10 120 29 184 7 96-4 88-21 76-17 28-31 32-48 31zM1055 536l-17 24-30 19-40 8-40-5-40-20-27-26-15-32 0-32 18-26 40-21 48-8 48 6 33 17 23 28 6 36zM3296 1839l-64-1-72-17-48-22-48-37-48-51-32-47-19-64-10-64-6-144 5-312-16-320 15-112 27-88 36-47 88-61 88-27 136 1 64 10 48 21 31 23 23 32 16 48 5 40-11 152-22 152-2 104 5 128-2 168 34 184 7 96-6 72-26 64-67 72-49 26zM4328 1759l-40-8-34-23-76-128-38-192-5-96 13-96 12-26 25-30 2-16-3-112-30-64-10-40-5-168 14-72 23-66 46-62 25-56 33-27 48-12zM1080 1452l-32-12-80-62-24-32-45-82-9-64 2-216 20-75 24-43 24-28 24-16 96-40 40-6 40 15 22 41 19 96 4 72 9 40 10 96-10 72-16 56-9 96-8 32-37 47zM992 1829l-32 4-40-4-39-13-25-18-13-22-1-24 13-32 21-24 36-23 48-10 48 8 32 22 22 43-3 40-23 32z"/>
<path fill="#cadddf" d="M2160 1848l-128 0-64-18-64-33-64-65-40-68-20-80-29-192 0-136 11-64 8-152-20-160-3-88 3-88 14-72 36-94 67-74 45-35 48-25 88-28 120 1 64 17 32 15 40 32 24 30 14 33 7 48 0 40-34 224-8 104 9 152-5 112 10 120 29 184 7 96-5 80-17 64-31 46-56 45zM3296 1824l-56 0-64-13-48-20-54-39-50-53-32-43-21-64-11-64-8-136 7-312-16-320 17-110 32-87 32-39 80-56 88-28 128 0 64 9 32 12 34 19 30 33 21 47 7 40-9 152-26 184 5 208-4 104 4 64 34 176 6 96-6 61-25 59-71 77-40 22zM1029 520l-13 19-19 13-29 6-24-2-29-12-17-16-10-21 0-19 8-17 24-18 32-7 29 2 27 11 16 16 8 21zM4328 1745l-32-6-32-22-78-125-40-184-4-88 13-96 13-27 29-29 3-16-2-120-36-72-9-32-8-80 4-112 12-48 22-56 51-64 22-52 32-27 40-10zM1088 1446l-40-14-80-63-64-98-13-55 0-184 8-80 21-53 24-37 40-32 96-41 40-8 24 5 16 10 19 36 20 96 3 72 19 136-10 72-15 56-10 96-8 32-34 42zM1028 1768l-12 17-24 14-48 4-45-19-11-16-2-24 12-24 19-16 27-11 32-1 32 12 16 16 9 24z"/>
<path fill="#bdd5d9" d="M2152 1836l-120-1-64-19-56-30-66-66-35-56-24-80-33-200 1-128 10-64 8-152-21-168-1-72 5-96 12-58 40-99 70-75 42-32 48-25 88-27 112 2 64 19 31 15 41 34 24 34 16 76-14 144-24 144-4 64 8 144-4 120 5 72 36 232 6 80-7 96-26 71-56 58-40 22zM3288 1812l-48-1-80-19-32-16-51-40-78-88-22-64-14-88-6-104 7-312-16-312 19-112 36-88 29-33 80-56 88-27 120 1 64 9 32 14 32 19 28 33 18 40 7 40-7 136-28 192 4 208-3 104 5 64 35 176 5 88-8 64-26 56-70 74-41 22zM4328 1732l-32-8-24-18-22-42-56-80-26-95-15-81-4-88 16-96 16-24 27-21 5-19-3-136-36-64-13-40-9-72 2-104 16-56 21-48 55-64 18-48 24-24 40-12zM1088 1440l-32-11-80-61-72-101-12-51 0-184 3-56 9-33 16-38 30-41 42-30 96-41 32-6 24 4 14 9 18 34 20 94 3 72 9 40 10 96-10 72-15 56-17 124-32 41z"/>
<path fill="#afccd1" d="M2152 1822l-120-1-56-17-56-29-64-64-33-47-27-80-38-200 0-128 9-56 9-144-3-64-17-120 5-160 8-40 47-115 64-69 48-37 40-21 88-28 104 1 64 17 32 15 40 33 24 31 18 77-11 128-20 112-10 104 7 152-4 112 6 72 37 232 5 80-8 88-28 71-56 56-32 18zM3288 1798l-56-2-48-10-40-16-56-42-72-76-24-52-18-64-12-144 8-312-16-312 22-110 37-82 27-31 80-55 80-24 120 1 64 9 56 30 27 30 20 40 7 40-6 130-30 190 1 312 5 64 36 168 5 88-10 72-23 42-72 77-40 21zM4328 1718l-24-5-23-17-19-40-59-80-27-88-15-80-4-88 16-88 17-24 33-24 1-160-41-72-12-32-11-72 1-96 16-56 23-48 58-64 17-48 21-21 32-9zM1088 1433l-32-12-79-61-73-96-11-48 0-184 3-56 24-64 32-43 42-29 94-40 40-7 16 3 15 12 17 40 17 80 4 80 8 32 9 96-10 72-15 56-9 96-10 32-27 32z"/>
<path fill="#9fc3c9" d="M2152 1808l-112 0-64-19-48-26-64-64-32-46-28-77-40-192-2-128 10-64 8-152-19-176 1-64 14-120 49-112 63-68 46-36 30-16 92-32 104 1 55 15 33 15 40 32 24 30 19 75-9 120-21 112-10 104 6 152-4 112 7 80 38 224 5 88-5 48-11 48-15 33-24 31-56 46zM3288 1784l-48-1-48-10-40-15-52-38-76-79-24-50-16-55-16-144 9-312-10-112-6-200 13-64 18-57 32-63 16-20 80-58 80-26 112 0 83 16 37 21 25 27 21 40 6 32-4 128-32 192 1 312 6 64 38 168 3 103-16 61-24 38-56 58-40 25zM4328 1704l-16-3-19-13-19-40-58-74-31-94-14-72-4-80 17-91 16-20 32-17 8-32-1-144-9-24-47-80-14-72 1-96 16-48 29-56 57-56 21-56 19-13 16-3zM1088 1426l-27-10-77-59-79-93-11-48-1-184 12-80 15-33 32-41 42-30 94-41 40-8 16 4 15 13 17 48 14 72 3 72 8 32 9 96-42 250-32 35z"/>
<path fill="#8db9c1" d="M2144 1791l-104-1-56-17-48-26-59-59-29-40-32-80-32-121-13-71-3-128 8-48 9-168-18-160 3-72 17-112 52-112 62-64 43-33 44-23 76-23 88 1 56 14 32 15 40 32 21 25 13 32 8 40-8 112-25 144-7 72 2 272 6 72 41 232 3 80-6 48-16 51-32 46-60 47zM3280 1767l-80-10-40-15-48-35-74-75-28-56-15-48-19-144 2-136 10-168-12-120-4-184 12-60 24-67 45-73 79-56 76-23 104 1 76 14 30 16 30 32 16 29 8 35-3 120-34 192 0 312 9 72 39 160 2 96-21 64-24 34-53 54-35 21zM4328 1686l-24-13-13-33-63-80-29-80-15-72-3-72 9-64 10-31 51-33 6-32-2-160-58-104-15-64 1-88 17-52 24-44 66-64 13-48 25-14zM1096 1418l-30-10-74-56-85-88-13-48 0-184 5-56 8-24 21-36 32-34 39-26 97-42 32-7 24 11 16 40 17 78 3 72 16 128-42 248-26 29z"/>
<path fill="#86b5bf" d="M2136 1766l-88 0-56-18-40-23-60-61-17-24-37-80-21-72-12-24-24-88-7-96 15-232-12-176 4-64 24-112 55-104 60-62 40-31 32-16 72-24 80 0 56 16 32 17 32 26 21 26 16 40 1 120-31 200-1 280 9 96 39 208-1 104-16 56-37 52-64 47zM3280 1742l-72-10-40-16-40-30-69-70-47-104-22-144 0-104 12-160-1-56-13-104 0-160 7-32 33-88 39-64 69-53 72-25 96 1 16 6 40 3 32 15 26 21 17 24 16 56 0 88-37 184 0 344 9 64 44 160 0 72-22 64-23 32-46 46-32 22zM1096 1405l-24-8-80-55-84-78-13-56 0-176 5-56 8-24 20-30 32-31 40-25 96-38 32-6 16 8 11 18 26 88 2 72 8 32 8 96-9 72-14 48-2 40-19 80-27 27z"/>
<path fill="#7fb1bc" d="M2088 1756l-48-4-72-33-57-55-25-32-38-80-56-166-12-130 14-216-12-168 8-64 26-107 56-102 51-55 41-32 36-19 56-19 32-4 56 5 72 27 47 42 26 56 6 88-32 224 0 272 9 88 24 129 15 119-3 48-12 49-16 36-24 32-40 35-28 16-44 16zM3272 1729l-56-8-43-17-45-34-56-61-45-97-26-152-1-96 13-160-14-168 5-168 31-88 42-72 67-52 48-19 32-6 80 5 56 15 30 17 18 18 17 30 12 72-6 88-28 152 1 312 10 88 40 160-1 72-20 56-27 40-30 31-37 25zM1104 1392l-24-4-40-20-104-76-27-28-13-51-1-165 7-72 26-50 35-30 37-22 112-34 16 2 16 13 32 81 18 200-8 72-34 150-21 26z"/>
<path fill="#77acb9" d="M2088 1745l-48-6-55-27-59-56-30-40-32-64-48-122-18-62-12-112 12-216-8-160 10-72 24-90 56-102 56-64 72-49 48-16 32-3 67 12 58 32 41 48 20 56 6 48-2 64-23 176 0 256 8 96 23 136 9 104-15 88-18 40-22 32-33 32-40 24-39 13zM3272 1716l-56-9-40-18-48-40-40-47-27-50-21-60-24-156 8-248-12-208 3-80 7-40 29-80 45-71 56-44 40-16 32-7 80 9 43 17 24 16 33 48 14 72-5 72-23 152 1 280 10 112 36 168-1 64-22 64-42 56-44 30zM1088 1371l-40-10-48-27-72-51-17-19-10-24-4-32-1-160 8-75 28-45 36-28 37-20 51-15 40-5 24 5 16 12 16 23 15 36 17 112 4 88-6 64-34 128-23 32z"/>
<path fill="#6da4b3" d="M2088 1730l-48-9-42-25-48-48-38-53-40-75-48-114-14-54-13-104 9-224-3-144 12-72 22-72 51-92 63-76 65-49 32-12 32-4 56 13 56 36 40 53 22 67 6 80-16 168-1 240 26 240 3 72-3 48-10 48-15 40-24 40-27 32-33 27-32 16zM3272 1699l-40-5-46-22-44-40-35-48-27-56-18-56-15-80-7-80 3-224-11-192 12-128 27-80 41-67 52-45 60-19 64 10 54 33 32 48 15 72-20 224 2 216 7 120 32 184 2 72-13 56-33 56-46 38zM1080 1349l-56-13-96-56-24-33-7-55 0-152 7-59 8-20 24-28 40-28 40-17 48-8 32 3 24 12 32 43 23 110 4 80-7 72-28 98-24 35-16 10z"/>
<path fill="#619bac" d="M2088 1714l-40-10-41-32-47-57-56-86-47-89-25-64-16-76-6-60 7-344 8-56 16-56 43-88 74-96 66-63 24-11 24-3 48 15 55 46 36 56 22 64 7 80-10 160-1 200 21 264-9 104-33 89-55 79-32 24zM3272 1680l-40-7-40-25-36-40-28-46-24-58-16-64-19-160-12-368 13-136 26-80 35-64 45-43 48-16 50 11 46 37 26 51 11 64-14 208 1 152 9 160 30 200 2 72-12 56-23 48-38 36zM1064 1331l-56-12-80-43-24-34-5-42 0-160 13-71 24-27 32-22 40-16 40-6 48 8 24 17 16 21 19 48 13 96-4 96-25 88-14 24-21 22z"/>
<path fill="#5790a3" d="M2088 1696l-25-8-25-24-126-184-40-69-24-59-15-64-10-136 11-240 9-56 16-48 27-56 34-49 114-143 30-17 24 8 20 17 68 92 31 68 10 72-9 280 16 280-3 80-21 77-61 123-25 40zM3272 1660l-39-12-32-32-33-56-28-80-28-168-20-336 3-136 27-120 23-56 25-40 26-24 28-10 32 10 31 32 21 48 8 56-10 208 1 112 11 160 28 224 4 80-8 56-15 40-25 32zM1048 1313l-48-8-72-33-22-32-5-32-1-168 12-60 16-20 32-23 32-13 40-7 48 8 40 31 24 52 12 80-6 96-22 70-32 42-24 13z"/>
<path fill="#4e869b" d="M2080 1668l-48-116-104-115-48-78-28-95-11-128 12-200 24-96 20-40 31-44 104-100 13-24 11-50 8-10 8 7 32 76 48 51 20 30 14 40 4 48-9 248 13 256-3 80-23 74-64 86-16 96zM3272 1641l-20-9-22-32-21-56-19-72-30-200-26-296 3-112 24-128 32-96 15-24 16-8 16 8 11 16 15 64 1 72-13 152 1 88 51 496 0 56-7 48-11 24zM1040 1295l-40-3-64-20-24-26-9-30-1-176 10-46 16-22 24-17 64-17 48 6 40 28 23 44 12 72-5 80-17 64-29 41-24 15z"/>
<path fill="#467c93" d="M2088 1481l-40-10-40-25-48-38-41-48-17-32-22-68-17-124 1-64 15-128 15-56 18-43 24-34 40-38 56-32 48-10 40 8 24 18 11 27 2 48-12 240 12 192 0 120-8 40-15 32-22 19zM1032 1276l-48 1-40-9-24-19-14-33 1-192 21-38 24-15 32-10 48 0 32 11 19 12 22 32 13 64-5 88-14 48-27 39z"/>
<path fill="#3d708b" d="M2032 1372l-24-2-32-14-40-44-28-80-15-104 8-120 23-96 36-51 24-14 32-7 37 8 27 24 17 40 7 64-2 112 8 160-4 48-11 32-15 23-24 16zM968 1265l-40-15-18-34-2-184 12-24 24-20 40-12 40 2 44 22 25 40 10 56-7 72-19 48-27 32-34 15z"/>
<path fill="#356381" d="M2008 1331l-32-15-26-44-19-72-8-80 5-104 17-80 23-39 16-10 16-3 16 5 20 15 20 48 10 272-3 48-11 32-20 21zM960 1256l-32-14-16-32-1-178 17-24 16-11 40-10 32 1 40 20 23 32 13 56-6 64-19 48-27 31-40 16z"/>
<path fill="#2c577a" d="M2008 1304l-16-10-12-30-23-120 3-120 23-104 9-7 16 15 5 32-5 160 14 152-4 24zM976 1247l-40-7-18-24-5-40 0-128 7-22 24-19 56-9 32 10 28 24 14 32 7 56-9 48-24 45-32 24z"/>
<path fill="#244b74" d="M952 1235l-24-14-8-28 0-153 32-26 56-2 32 17 18 27 12 48-7 48-15 38-24 28-32 15z"/>
</g></g>
<path class="k" transform="scale(0.25)" d="M822 796l21 2 9 6 7 11 9 34 7 40 9 198-1 57-7 172-6 78-4 24-5 18-8 8-9 2-39-12-50-32-127-115-8-3-14 7-18 14-16 4-12-25-6-72-2-106 2-106 6-72 11-25 17 4 18 14 14 7 16-4 25-21 39-43 45-38 29-17 25-6zM1133 816l11 2 11 15 25 90 6 49 10 177-6 51-14 71-7 72-5 21-8 21-11 15-15 8-16 2-19-4-18-8-49-34-99-86-24-28-9-27-3-34 5-131-3-72 2-14 14-26 28-33 21-15 60-37 81-35zM1436 411l53 5 17 4 30 13 29 20 12 11 10 13 16 31 13 37 38 169 56 222 14 85 5 72-5 65-31 156-19 154-14 98-12 51-17 51-31 65-23 36-13 14-28 21-30 17-34 11-36 5-40-3-37-11-34-20-28-26-22-34-16-39-10-44-4-51 4-85 11-111 3-85 3-26 6-21 22-56 10-44 6-45 0-22-6-45-11-44-21-67-7-48-3-79 4-84 10-58 1-19-17-89-1-41 2-19 5-18 8-16 10-14 26-25 15-10 17-9 35-12 19-4zM2073 464l46-1 43 7 41 14 37 19 29 25 21 31 12 36 4 41 0 24-6 50-27 137-7 56-5 83 1 139 2 55 10 84 37 190 7 48 2 41-2 37-9 37-14 35-19 30-25 26-31 21-36 17-38 12-39 5-40-1-38-7-35-12-32-19-29-25-26-30-24-32-21-35-8-18-40-117-19-63-10-46-6-83 1-55 9-149 1-68-10-101-1-32 2-32 9-63 13-52 7-22 19-42 24-46 32-43 19-20 46-37 23-15 50-22zM2609 471l39 0 39 8 19 8 36 24 31 31 12 16 18 36 16 43 32 127 25 124 2 53-5 84 0 83 13 139 1 44-3 71-16 111-30 120-24 61-19 33-23 30-28 29-16 12-18 9-39 14-40 6-40-3-34-10-27-17-25-22-22-28-19-34-17-39-14-42-25-116-17-134-1-28 1-56 14-140 1-50-5-65-19-89-4-65 7-79 10-56 23-77 23-44 28-39 31-33 16-13 35-21 18-8zM3228 528l39-1 79 9 37 9 14 7 22 18 16 23 9 28 7 52-1 41-3 22-29 134-9 65-4 72 0 169 2 53 9 73 45 178 4 40-2 38-9 34-15 32-21 30-24 26-26 22-29 17-33 10-34 4-33-1-33-8-34-13-33-20-29-26-39-45-22-33-10-18-16-42-22-96-8-76-1-75 12-154 2-57-14-143-3-101 2-25 9-43 13-41 17-39 29-54 24-31 32-25 35-19 38-13zM3805 509l65 6 39 9 34 17 28 25 22 32 23 61 14 67 5 61-2 38-5 20-57 136-11 44-5 44 1 20 9 38 14 42 19 44 11 45 7 67 13 67 7 61 0 38-8 40-12 38-15 35-18 31-26 30-30 26-33 20-50 18-33 5-17-1-17-4-17-7-33-20-29-25-26-30-13-18-32-60-15-44-22-89-6-67 5-67 16-88 3-44-3-69-15-151-2-100 7-100 16-77 16-48 12-19 13-17 31-30 37-26 20-11 21-8 21-4zM4370 514l-18 21-20 54-16 36-24 16-21 18-30 38-25 58-7 23-2 25 2 28 7 30 16 53 10 17 21 21 8 12 11 23 7 38 2 37 0 94-5 55-3 11-12 14-11 7-28 12-11 14-6 25-4 32-1 65 4 27 7 26 25 69 16 39 19 31 10 11 25 19 16 35 20 51 18 17 12-69 6-216 2-318-2-318-6-214zM594 1029l49-32 6-8 11-25 18-21 23-20 26-17 27-12 35-7 10 1 14 7 15 19 12 29 12 41 12 29 9 33M873 1205l-25 76-22 50-11 14-7 4-17 3-9-1-20-7-41-25-61-48-21-29-45-32M594 1062l41-23 12-10 7-9 14-28 30-28 33-21 23-8 11-1 20 2 10 3 16 11 17 21 24 50M856 1226l-8 25-18 22-21 15-18 3-24-5-36-16-71-48-66-37M660 1046l17-31 15-19 29-20 28-14 18-3 16 2 14 7 14 16M815 1263l-24 12-16 0-26-7-28-13-29-18-15-15-17-21M964 973l31-5 21 1 29 5 24 10 16 15 8 13 6 16 7 30 3 41-4 51-8 42-11 27-14 22-19 18-16 7-33 8-33 0-24-5-15-6-6-4-10-13-9-25-2-32 2-61-3-75 1-24 6-18 11-14 15-12zM1391 685l36 4 30 6 22 10 9 9 6 13 11 54 20 67 15 39 26 49 15 43 12 46 11 67-1 42-21 117-13 35-18 33-8 17-11 77-9 36-13 31-7 13-26 31-21 32-7 7-13 6-7 0-17-7-21-16-8-10-12-26-5-30 2-33 9-34 7-14 26-41 15-31 13-36 10-43 13-90 3-44-5-67-17-68-23-61-25-48-22-49-11-40-6-48 2-31 4-8 7-4zM2095 752l22 3 10 3 7 6 6 11 4 42-13 247 1 56 11 159-1 92-6 39-11 32-7 10-8 6-10 3-21-3-11-4-90-56-29-25-22-28-9-15-13-29-19-70-9-59-3-58 3-66 13-99 6-24 14-42 19-36 26-30 30-25 16-10 50-21zM2610 760l12-6 15-1 8 3 7 8 21 33 19 40 3 10-1 8-4 6-12 6-18-1-29-11-17-11-6-8-4-12-4-31 2-21zM2666 1472l-3 22-11 18-15 12-17 4-18-4-15-12-11-18-3-22 3-21 11-18 15-12 18-4 17 4 15 12 11 18z"/>
</g>
<circle cx="189" cy="281" r="29.2" fill="#fff" stroke="#000" stroke-width="1.3" stroke-dasharray="5 1.5 9 1 3 2 12 1.5"/>
<use href="#arab"/>
<rect x="153.5" y="70.5" width="918" height="421" fill="none" stroke="#333" stroke-width=".9"/>
<text transform="translate(189 58.5) scale(0.95 1)" class="t m">0</text>
<text transform="translate(189 520.8) scale(0.95 1)" class="t m">0</text>
<text transform="translate(364.5 58.5) scale(0.95 1)" class="t m">3</text>
<text transform="translate(364.5 520.8) scale(0.95 1)" class="t m">3</text>
<text transform="translate(539.9 58.5) scale(0.95 1)" class="t m">6</text>
<text transform="translate(539.9 520.8) scale(0.95 1)" class="t m">6</text>
<text transform="translate(715.4 58.5) scale(0.95 1)" class="t m">9</text>
<text transform="translate(715.4 520.8) scale(0.95 1)" class="t m">9</text>
<text transform="translate(890.1 58.5) scale(0.85 1)" class="t m">12</text>
<text transform="translate(890.1 520.8) scale(0.85 1)" class="t m">12</text>
<text transform="translate(1065.5 58.5) scale(0.85 1)" class="t m">15</text>
<text transform="translate(1066.9 520.8) scale(0.85 1)" class="t m">15</text>
<text transform="translate(147.6 113.9) scale(0.95 1)" class="t e">3</text>
<text transform="translate(1078.5 113.2) scale(0.95 1)" class="t">3</text>
<text transform="translate(147.6 201.7) scale(0.84 1)" class="t e">1.5</text>
<text transform="translate(1078.5 200.9) scale(0.84 1)" class="t">1.5</text>
<text transform="translate(147.6 377.1) scale(0.82 1)" class="t e">-1.5</text>
<text transform="translate(1078.2 376.4) scale(0.82 1)" class="t">-1.5</text>
<text transform="translate(147.6 464.9) scale(0.88 1)" class="t e">-3</text>
<text transform="translate(1078.2 464.2) scale(0.88 1)" class="t">-3</text>
<path d="M188.5 64v13M188.5 485v13M364.5 64v13M364.5 485v13M539.5 64v13M539.5 485v13M715.5 64v13M715.5 485v13M890.5 64v13M890.5 485v13M1066.5 64v13M1066.5 485v13M147 105.5h13M1065 105.5h13M147 193.5h13M1065 193.5h13M147 368.5h13M1065 368.5h13M147 456.5h13M1065 456.5h13" stroke="#333" stroke-width=".9" fill="none"/>
<text x="611.8" y="43.6" class="x m">x/D</text>
<text x="611.8" y="533.7" class="x m">x/D</text>
<text x="107.9" y="288.6" class="x m">y/D</text>
<text x="1117.3" y="288.6" class="x m">y/D</text>
<text x="491.2" y="550.4" class="c m" textLength="107" lengthAdjust="spacingAndGlyphs">-7.8e-04</text>
<text x="737" y="550.4" class="c m" textLength="97.5" lengthAdjust="spacingAndGlyphs">7.8e-04</text>
<rect x="491" y="576.4" width="245" height="11.5" fill="url(#cb)"/>
</g>
<g transform="translate(0 814)">
<g clip-path="url(#fc)"><g filter="url(#bl)"><rect x="140" y="56" width="950" height="450" fill="#fff"/><g transform="scale(0.25)">
<path fill="#f8f7f5" d="M584 250l158-2 34 24 32 32 24 40 13 48 2 64 14 16 123-5 48 8 136 51 152 76 80 17 72 5 80-14 90-42 38-24 112-92 72-42 112-38 112-11 80 14 80 41 56 40 101 112 35 29 56 32 48 18 56 11 56 4 64-4 64-21 36-21 47-40 85-93 80-57 72-30 88-17 48-1 56 9 56 19 80 45 56 63 92 142 28 22 40 21 48 15 88 18 96 8 144-1 48 8 40 25 20 28 5 32-3 40-8 24-25 40-69 68-104 58-72 16-128 1-64-11-80-22-88-40-47-30-33-8-40-1-128 17-122 24-86 32-96 49-64 23-48 7-64 0-96-14-192-5-432 10-200 13-296-9-224 5-64-4-40-9-208 20-57-6-27-80-27-40-41-30-64-27-32 9-32-4-7 12 18 24-8 32 4 8 22 8 32 32 2 16-15 20-24 14-32 8-144 3zM4280 858l-32-7-24-16-26-27-19-32-22-72-7-112 8-112 22-72 20-33 24-26 24-15 32-8 48 12 0 246 0 263zM760 1327l-22-39 4-56 10-9 25-7 26-24 21-56 8-8 16-3 102 3-1 24-20 56-24 32-48 40-25 51-16 9-24 3zM4075 1760l-20 32-47 45-80 39-64 15-56-1-40-8-48-21-32-22-47-47-36-48-11-24-4-24 13-80 29-67 24-13 56-14 56-6 112 0 144 23 16 16 41 133 3 40zM2408 1837l-16-25-3-28 11-40 22-48 42-52 76-44 76-17 88-1 88 29 28 21 16 24 8 32 0 32-9 40-17 40-22 32-28 28-72 41-64 16-104-6-64-26zM1672 1848l-5 32-16 40-27 40-36 40-424 0-34-40-29-48-16-40-4-32 3-24 19-32 73-56 136-66 40-11 64-6 64 6 72 23 60 38 34 32 16 24 8 32z"/>
<path fill="#f3f1ec" d="M584 327l48-25 40-5 48 13 34 26 24 40 6 40-7 40-26 56 6 8 19 0 144-29 64-7 40 2 64 15 80 28 104 57 48 20 80 17 72 5 80-13 90-39 46-25 120-89 64-36 40-16 80-23 64-8 48 2 64 13 120 67 110 107 39 32 43 25 80 29 96 12 72-4 56-16 40-21 54-41 90-92 72-50 64-27 96-20 40 0 88 20 88 45 59 60 97 136 28 25 48 23 136 32 96 8 120 0 56 10 32 20 22 26 7 24 0 40-7 24-26 40-60 60-104 58-72 15-120 0-56-10-80-21-80-36-56-35-40-9-48 0-128 17-123 25-85 32-88 46-64 24-48 12-48 4-312-17-200 4-448 24-272-10-216 3-64-7-48-13-88 18-112 13-48-4-16-6-26-75-27-40-43-31-64-27-32 10-32-5-8 12 18 25-8 40 34 16 16 24-4 12-20 20-20 12-24 7-136 8 0-557 56 9 29-23-5-11-48-18-32-21zM4280 802l-24-5-20-13-36-48-21-64-7-80 7-80 21-64 36-48 20-13 24-5 48 15 0 187 0 204zM760 1324l-21-36 4-56 36-16 28-24 24-56 25-10 88 3 5 15-21 64-25 32-48 40-23 45-32 14-24-5zM4049 1736l-17 29-25 27-55 38-80 25-56 1-40-8-40-18-31-22-39-40-35-48-12-24-6-32 9-64 12-32 14-16 34-16 54-12 144-3 104 19 37 20 25 56 13 72zM2799 1744l-22 48-41 43-56 31-56 12-80-3-56-21-60-54-16-40 5-32 13-32 45-56 37-24 37-16 99-16 72 8 40 16 23 16 16 24 6 24zM1642 1856l-12 40-25 40-29 32-40 32-320 0-48-40-34-48-21-48-3-40 7-32 18-24 37-32 44-27 112-49 96-11 56 7 72 24 56 40 20 24 11 24z"/>
<path fill="#eee9e1" d="M680 472l-24 1-24-11-16-17-8-21 8-40 16-17 24-11 40 7 16 14 12 23 1 24-10 24-16 16zM584 1121l0-536 56 13 96-42 112-36 80-17 80-7 80 11 72 23 49 22 63 38 56 23 80 15 72 5 72-13 104-42 40-21 112-80 72-41 72-27 104-18 96 10 80 39 64 40 134 120 58 33 72 25 96 12 72-2 56-14 46-22 55-40 91-91 64-45 64-28 104-21 88 10 48 18 72 41 56 58 97 130 31 24 48 22 136 31 248 15 31 12 25 22 12 18 5 24-1 32-8 24-24 36-52 52-44 29-64 31-64 13-120 0-128-29-88-39-56-34-40-9-48 0-128 17-120 24-88 31-96 50-64 24-96 18-296-16-200 2-456 31-272-10-88 4-112-3-72-10-56-17-88 25-112 15-60-11-28-72-26-40-46-33-64-27-32 11-24-5-15 6 1 16 16 16-11 40 33 16 9 16-5 16-20 19-40 17zM4280 764l-32-13-32-39-19-56-6-64 6-64 20-56 31-39 32-12 24 4 24 14 0 153 0 153-24 14zM752 1312l-14-32 6-47 39-17 28-24 26-56 27-9 67 1 13 4 2 20-20 56-25 32-47 40-22 40-16 11-24 4-24-9zM4028 1728l-37 48-47 32-72 24-56 1-32-6-64-37-37-38-35-48-16-56 9-56 12-24 19-16 72-23 136-2 80 17 43 24 24 40 12 64zM2448 1783l-18-39 1-24 12-32 30-40 65-40 78-17 75 1 57 24 24 32 7 56-14 56-37 48-56 32-56 12-80-6-45-22zM1622 1856l-10 32-32 48-28 26-58 38-236 0-61-40-23-24-37-64-7-56 7-32 17-24 64-48 111-48 63-10 40 0 48 7 72 27 48 40 20 40z"/>
<path fill="#e8e0d4" d="M584 1119l0-523 56 15 104-44 112-39 72-16 88-7 80 10 64 19 48 22 64 39 56 22 72 14 80 6 102-21 111-48 123-85 72-41 64-23 104-19 96 11 72 35 64 39 136 116 64 36 72 25 96 13 72-1 64-16 40-18 57-40 95-93 60-43 60-26 104-22 88 11 40 14 72 40 56 57 103 134 33 23 48 20 136 30 208 10 40 8 24 11 22 18 12 16 6 24-1 32-9 24-23 32-48 48-39 27-64 31-64 14-120 0-120-27-64-27-80-46-40-10-56-2-128 18-128 25-80 29-96 50-64 24-96 20-168-5-128-11-208 2-288 28-160 9-168-8-296-3-63-10-73-22-89 30-111 17-56-10-34-79-29-40-41-27-64-26-32 11-32-5-8 7 2 16 15 16-13 40 4 6 27 10 6 16-25 30-24 13-56 13zM4280 732l-28-12-25-32-15-48-5-48 5-48 16-48 24-32 28-12 24 6 24 17 0 109 0 125-24 17zM752 1310l-13-30 5-45 8-8 33-11 30-24 26-56 15-7 80 2 8 5 0 16-20 56-17 24-54 48-21 35-16 12-24 4-24-8zM4012 1720l-36 45-40 27-64 22-80-4-56-29-67-77-19-48 4-56 12-24 16-16 62-24 128-3 64 14 42 21 32 40 13 56zM2755 1728l-24 48-35 30-56 23-64 2-48-9-35-22-37-40-12-40 5-24 18-32 47-40 38-17 104-13 48 10 38 28 16 40zM1604 1864l-12 28-32 43-72 48-40 17-150 0-66-35-45-37-37-64-5-24 1-40 12-32 23-24 43-30 52-26 76-25 56-5 56 6 87 32 40 40 16 40z"/>
<path fill="#e2d5c6" d="M584 1116l0-511 56 16 216-84 72-16 96-8 72 8 64 17 48 22 56 35 64 26 72 15 80 6 104-21 112-46 128-88 64-36 72-26 96-17 32 0 64 11 72 36 56 33 146 120 70 36 104 29 120 7 72-15 48-21 56-40 50-44 38-43 72-50 56-24 88-18 32-1 56 9 40 13 72 39 59 59 101 129 32 25 48 21 136 29 160 8 88 12 24 10 24 19 16 35-7 48-22 32-51 51-96 55-64 14-120 0-128-30-80-36-56-35-40-10-64 0-120 16-128 26-88 32-96 50-64 24-96 18-160-3-128-13-208 1-288 33-160 9-168-8-264-2-67-8-101-31-96 36-104 18-56-13-35-82-29-36-40-25-64-25-32 12-32-6-8 6 1 18 15 16-14 40 6 10 21 6 5 8-7 16-16 16-19 11-56 17-56 9zM4280 703l-24-11-16-21-13-39-4-40 4-40 13-38 16-22 24-11 24 7 24 24 0 80 0 80-24 24zM752 1308l-13-28 5-42 8-9 36-13 22-16 23-32 12-32 19-7 32 0 45 7 1 16-20 56-17 24-54 48-27 38-16 8-24 0zM3995 1720l-43 46-64 28-48 6-48-6-48-27-32-32-35-47-12-40 5-48 26-35 56-22 120-2 48 11 46 24 32 40 10 56zM2739 1720l-18 40-33 30-48 21-64 3-40-8-32-20-32-34-14-40 5-24 12-24 37-33 48-21 88-10 40 8 35 24 17 40zM1590 1864l-38 60-56 40-88 32-64 0-64-20-76-48-28-40-14-32-2-64 9-24 31-32 87-48 49-17 56-7 72 6 80 32 38 42 12 40z"/>
<path fill="#dccab6" d="M584 1114l0-501 56 18 216-85 72-18 96-8 72 6 64 17 48 22 64 39 56 22 72 14 80 7 104-20 112-44 76-47 52-40 64-36 40-17 64-18 64-9 88 9 72 35 64 37 144 115 64 33 112 32 120 9 72-14 54-24 57-40 49-43 40-45 56-40 56-25 104-23 80 9 40 14 72 40 49 49 109 136 34 25 48 19 136 29 160 8 80 11 40 20 16 17 8 23-1 32-30 48-49 48-96 53-56 11-112 1-56-10-72-18-56-24-88-50-40-9-64-1-120 17-128 25-88 31-96 50-64 25-96 19-160-2-128-14-208 1-288 37-166 10-274-11-80 3-72-4-64-10-80-29-24-3-96 39-104 19-32-4-24-12-36-84-28-31-40-24-64-25-32 13-24-6-16 6 0 19 16 16 0 8-16 32 8 13 17 11-17 25-24 14-50 17-54 11zM4280 673l-16-7-13-18-12-56 12-56 13-17 16-8 16 4 16 18 16 35 0 47-14 33-18 21zM752 1306l-12-26 4-40 8-10 38-14 22-16 23-32 14-32 47-7 42 7 2 16-25 64-65 64-26 34-32 10-24-6zM3983 1712l-39 41-56 26-32 6-56-3-48-27-57-67-16-40 4-40 21-33 48-23 104-3 40 6 48 21 38 40 11 48zM2722 1720l-23 40-35 24-40 13-56 0-39-13-33-28-19-28-4-32 19-40 45-32 23-8 88-8 40 13 24 22 13 37zM1577 1864l-33 51-56 39-72 26-72 1-56-15-74-46-39-64-3-64 8-24 21-24 32-24 47-24 64-21 90-3 38 7 70 33 31 40 8 24z"/>
<path fill="#d6bca5" d="M584 1111l0-490 56 19 112-48 112-41 72-16 96-8 64 5 64 16 45 20 59 38 56 23 80 17 88 6 64-10 112-38 48-21 120-83 56-32 72-27 96-18 88 10 128 68 152 117 64 32 112 32 120 10 72-13 56-24 56-38 56-49 34-40 62-44 56-24 104-21 72 10 40 14 64 35 54 54 106 132 32 24 56 23 136 27 160 9 68 9 44 19 19 21 6 16-1 28-26 44-46 46-96 54-56 13-112 0-120-26-64-27-88-49-40-9-64-1-128 18-120 24-96 34-88 47-64 24-96 21-152-1-136-15-208 0-96 9-192 32-160 11-426-13-62-11-88-32-24-3-32 9-77 37-91 18-40-9-13-9-39-88-23-24-45-26-64-23-32 13-24-6-16 5 0 21 15 16-15 48 14 16-17 24-80 32-37 8zM4280 633l-16-17-4-24 4-24 16-17 16 8 9 33-9 33zM752 1304l-12-24 5-40 7-9 40-15 23-16 38-64 43-6 40 8 3 14-20 56-17 24-46 41-32 37-32 11-24-6zM3974 1696l-22 31-32 23-56 20-56-1-47-25-55-64-12-32 1-32 19-32 46-22 96-2 32 4 48 23 32 33 11 36zM2705 1720l-21 32-36 22-32 7-48-1-32-11-32-29-16-28-1-24 17-32 32-24 24-9 80-7 28 8 28 24 12 32zM1567 1856l-31 49-55 39-73 25-64 0-56-17-65-40-38-64-1-56 8-24 20-24 64-40 68-22 88-2 57 16 34 16 19 16 26 48z"/>
<path fill="#d0ae93" d="M584 1108l0-478 56 20 75-34 149-56 128-24 104 3 64 15 40 18 64 40 56 23 80 17 88 6 104-20 112-42 80-49 48-37 104-53 62-17 66-9 80 10 128 70 144 109 64 32 112 34 128 13 80-14 48-20 60-41 56-48 36-42 56-40 56-25 104-22 66 9 45 16 60 32 53 54 106 130 38 29 56 21 136 26 216 17 49 19 16 16 8 24-3 24-14 24-56 58-88 49-56 13-112 1-120-26-64-28-80-47-48-10-72 0-120 16-128 26-88 32-96 50-64 25-88 17-152 0-128-15-224 0-32 7-56 2-192 35-128 12-456-15-56-10-96-36-24-2-32 8-95 46-57 13-24 0-40-16-37-85-19-21-56-32-64-22-32 15-24-7-16 4-1 23 15 16 0 8-14 26 3 30-11 17-65 31-47 13zM752 1303l-11-23 5-40 14-12 32-11 25-17 39-64 48-5 24 4 8 7-3 26-15 40-17 24-77 75-32 12zM3960 1690l-22 30-26 17-48 18-56-2-40-24-48-57-11-24 2-32 17-24 32-16 120 0 48 24 24 24 12 32zM2689 1712l-17 27-32 19-24 5-48 0-24-9-28-26-10-16-3-24 9-24 32-26 24-7 64-4 24 7 25 22 10 24zM1553 1856l-33 46-48 31-64 22-64 0-48-14-64-39-33-54-2-56 20-40 59-40 68-22 80-2 56 16 33 16 19 16 23 40z"/>
<path fill="#c99e7f" d="M584 1105l0-465 48 21 16-1 74-36 150-55 64-15 104-9 56 3 59 12 38 16 87 52 72 22 120 17 80-9 160-54 128-86 64-36 64-24 96-17 72 9 32 14 96 54 152 111 64 30 112 34 128 15 80-13 56-23 56-38 56-48 36-42 60-42 48-22 104-23 64 9 40 14 64 36 48 48 107 132 37 28 56 21 144 28 152 8 64 9 43 18 15 16 4 16-4 24-15 24-51 51-80 45-64 15-104 0-128-31-72-32-64-39-40-9-80-1-128 18-120 24-96 35-88 46-64 25-88 19-152 0-128-15-224 0-96 10-191 39-129 14-144-3-160-11-80 1-64-7-75-18-77-30-24-2-40 10-85 46-56 16-27 0-24-8-16-16-27-72-20-24-57-31-72-21-32 15-24-7-16 4-2 24 15 16 0 8-13 24-5 32-11 13-88 41zM752 1302l-11-22 5-40 72-40 14-16 24-46 48-6 23 4 8 8-18 64-25 32-68 64-32 13zM3943 1680l-15 23-24 17-42 16-46 0-30-16-26-26-28-38-3-32 9-16 30-15 104 0 40 19 23 20 9 18zM2669 1704l-13 21-24 13-56 4-20-6-18-16-12-16-3-16 11-24 24-16 66-4 18 4 19 16 8 16zM1538 1848l-27 40-47 31-64 21-48 0-48-13-62-39-28-48-1-48 9-24 14-16 50-32 58-17 80 0 40 11 45 22 11 11 20 37z"/>
<path fill="#c89779" d="M584 1103l0-446 40 16 32 0 16-13 96-40 24-3 88-36 128-23 48-1 104 15 128 69 56 16 120 17 104-9 88-24 60-25 140-91 80-42 56-16 64-9 40 1 64 16 104 58 104 76 105 55 97 32 142 25 86-9 58-23 69-49 57-48 34-38 32-17 24-22 56-24 88-17 64 9 40 15 56 32 46 46 98 123 48 46 56 27 72 20 26 16 20 24 9 32-4 24-15 24-28 19-32 8-48-3-48-14-72-36-56-15-88 0-248 40-112 40-88 45-40 11-24 13-88 17-144 2-128-11-240 2-24 7-64 2-184 45-136 15-144-4-280-20-88-22-72-30-56 0-24 9-96 53-32 9-32 0-28-22-28-69-22-27-50-25-80-22-40 18-24-8-16 4-4 17 17 32-14 24-4 24-19 21-80 38zM752 1301l-10-21 5-40 69-37 17-19 23-45 16-6 32-1 19 4 11 8-3 24-15 40-25 32-67 62-32 12z"/>
<path fill="#c69072" d="M584 1100l0-430 40 12 24 0 224-85 131-29 85-2 61 10 43 16 56 35 64 26 72 16 112 10 80-9 88-26 64-27 120-78 65-35 95-30 72-7 56 10 120 61 120 82 96 49 120 38 112 22 40 2 64-11 56-26 56-38 98-88 62-41 56-23 88-13 80 17 48 23 32 23 105 126 33 56 12 40-2 24-12 23-40 24-256 34-96 17-80 24-144 59-96 27-80 14-96 6-144-9-232 3-96 13-232 52-104 8-120-3-240-17-102-19-106-38-40-1-40 10-87 45-57 11-16-6-16-14-38-71-26-26-40-19-88-21-40 20-24-8-16 3-5 19 17 32-28 59-72 39-32 10zM752 1299l-9-19 5-40 68-36 18-20 22-43 16-7 47 2 13 8-2 24-16 40-25 32-65 60-32 12z"/>
<path fill="#c4886b" d="M584 1098l0-410 72 5 264-92 96-21 64-3 64 8 168 72 80 18 104 11 104-14 112-37 144-86 96-46 64-15 72-4 48 9 64 27 208 126 72 32 224 69 48 7 48-10 56-28 72-51 104-85 56-34 72-24 72-4 77 18 67 40 40 41 35 47 21 40 8 32-2 32-14 29-20 19-36 17-280 50-200 65-136 24-154 36-382 7-88 12-200 49-128 15-136-3-232-20-96-17-136-40-48 4-96 41-40 6-40-14-55-72-33-26-48-18-72-8-40 21-24-8-16 3-5 20 16 32-27 56-56 33-40 15zM752 1298l-9-18 6-40 67-35 19-21 21-41 16-8 24-1 35 10-3 24-15 40-25 32-64 58-32 12z"/>
<path fill="#c28063" d="M584 1096l0-384 80-1 112-25 56-18 124-52 76-19 56-2 64 8 128 52 112 27 88 12 80-3 72-14 88-31 155-86 77-34 80-18 72 1 48 11 56 23 200 112 205 81 123 68 32 10 32-14 90-80 166-123 80-34 80-9 72 13 64 32 56 55 16 26 11 32-2 40-17 30-32 24-40 14-200 34-208 59-54-1-98-19-24 10-86 57-82 27-336 17-88 15-240 58-136 8-200-15-176-23-176-44-40 2-96 31-40 2-40-16-59-62-29-23-40-19-32-4-64 9-32 21-24-10-16 4-6 22 16 32-26 52-56 34-48 17zM752 1296l-8-16 6-40 66-33 21-23 20-40 15-8 24-1 32 9-8 45-14 27-74 73-24 15-16 3-24-2z"/>
<path fill="#c0765b" d="M584 1092l0-352 80-2 152-19 48-19 107-60 85-24 48-1 48 5 152 50 152 31 112 2 72-12 72-22 176-90 72-29 80-16 72 2 56 14 56 21 184 96 196 85 56 48 22 48-7 40-22 32-32 24-45 18-56 10-160 5-88 10-304 76-136 15-120-5-232-30-224-48-56 1-88 21-40-1-40-18-72-69-32-23-32-14-32-2-56 24-40 28-24-11-16 5-6 8-1 16 16 32-25 48-56 36-48 15zM2864 832l0-24 9-24 50-56 125-89 88-37 80-8 80 17 64 38 24 25 15 30 1 32-12 24-28 21-32 11-176 25-160 52-48 9-48-8-18-14zM752 1294l-7-22 7-32 64-32 22-24 22-40 36-8 29 8 3 9-8 31-16 32-64 63-24 18-20 7-20 0z"/>
<path fill="#bc6850" d="M2632 848l-8 32-17 24-31 22-32 12-48 8-184 11-72 16-240 75-80 14-120 6-192-23-336-62-56-1-96 16-40-5-32-17-149-152-11-24 20-48 46-56 46-33 56-19 48-5 48 3 312 72 128 7 64-9 64-19 176-84 64-25 64-14 56-3 72 9 72 22 322 146 40 24 25 24 14 24zM2903 824l1-16 12-24 52-47 88-58 80-32 72-6 72 13 64 30 22 20 7 16-3 16-18 13-200 16-64 20-136 57-32 0zM584 1088l0-310 168-1 48 12 33 19 7 16-5 24-44 72-23 19-32-11-12 8-4 24 15 32-27 48-52 33-48 14zM752 1292l-5-20 7-32 65-32 26-32 18-32 33-6 25 6 3 16-13 40-15 24-32 32-56 40-32 5z"/>
<path fill="#b75c46" d="M2595 840l-5 24-11 16-43 24-48 8-104 0-56 6-72 21-160 69-71 24-97 19-128 4-112-14-376-75-80-3-96 13-40-5-39-27-45-64-29-56-8-48 10-40 22-32 33-21 40-11 112 1 104 18 216 51 112 7 56-8 56-17 168-76 64-24 64-14 64-3 72 9 72 20 257 108 71 43 22 29zM584 1084l0-253 128-6 32 5 24 12 21 30 0 32-6 16-15 14-24-14-21 8-6 24 16 40-22 40-23 20-32 18zM752 1289l-3-25 7-24 66-32 42-61 32-7 24 10 0 18-16 40-25 32-39 33-48 23-24 0z"/>
<path fill="#b0503b" d="M2566 840l-14 22-32 8-56 1-88-14-64 12-72 33-134 82-82 33-96 18-128 2-104-16-248-66-104-19-128 3-72 13-40-5-16-16-52-131-9-48 3-16 10-15 32-13 96-7 88 3 92 16 196 62 64 11 56 1 40-6 48-16 160-76 64-25 72-16 88 0 112 21 153 52 129 64 26 24zM584 1079l0-170 40-6 88-28 24 0 24 7 10 14-2 15-32-11-16 7-7 13 3 40 13 32-22 40-51 35zM752 1283l-1-27 9-16 56-25 23-23 33-47 32-1 12 8 0 16-16 40-25 32-35 30-56 22-16 0z"/>
<path fill="#a2402e" d="M1429 856l-21 28-40 15-56 2-88-8-35-13-28-24-15-32 0-32 16-32 30-21 40-10 56 3 65 20 51 32 23 32zM2096 856l-9 48-35 48-52 33-72 19-96 3-72-15-54-32-22-40 6-40 20-24 22-16 116-52 88-26 64-1 48 17 32 30zM584 1074l0-105 32-9 56-34 24-1 10 11 19 48-2 16-14 24-45 37zM754 1280l-1-24 7-14 58-26 24-24 30-44 24-3 15 7 1 16-11 32-45 53-24 17-32 14-32 4z"/>
<path fill="#973026" d="M1378 856l-18 16-24 4-40-5-48-15-24-14-18-18-10-24 3-24 17-17 24-7 40 3 40 14 32 18 22 21 9 24zM2026 888l-10 32-24 23-40 18-56 10-64-1-48-11-32-20-15-27 9-32 30-23 72-23 72-12 40 1 32 11 24 22zM584 1070l0-92 32-10 64-34 16 1 8 7 19 50-24 40-43 30zM757 1280l-2-24 11-16 54-24 52-66 16-2 18 4 4 16-12 32-34 43-32 24-56 18z"/>
<path fill="#8c241d" d="M1353 848l-25 1-96-49-7-16 23-9 54 17 46 32 8 16zM1990 888l-4 16-18 12-72 17-88-4-32-12-9-13 9-11 16-5 144-13 40 1zM584 1066l0-80 24-6 72-37 16 1 8 7 15 41-32 48-31 19zM760 1278l-3-22 11-15 55-25 49-62 16-4 16 7 2 11-10 30-32 42-32 24-56 18z"/>
<path fill="#821816" d="M584 1061l0-68 96-41 16 1 8 8 9 31-16 32-17 18-24 15zM760 1272l3-24 61-30 48-61 16-4 13 7-10 40-32 40-27 20-56 18z"/>
<path fill="#771015" d="M584 1056l0-55 96-35 16 5 8 13-2 16-11 24-19 21-24 10zM767 1272l-4-16 5-10 56-25 48-61 24 0-5 32-28 40-39 28-40 13z"/>
<path fill="#6b0b1a" d="M689 1008l-9 24-18 16-78 2 0-39 80-26 19 7zM768 1265l3-17 53-24 48-59 8-4 13 7-11 32-26 33-34 23-38 12z"/>
<path fill="#5f0c25" d="M676 1016l-4 16-16 13-72-3 0-19 56-20 24-2 8 4zM776 1262l-4-6 4-8 48-19 29-29 19-29 11-3-3 24-24 34-32 23z"/>
<path fill="#520d2a" d="M653 1032l-39 0 26-9 8 1z"/>
<path fill="#f7f7f6" d="M1699 480l-21 40-24 24-78 49-40 14-56 10-80-3-71-14-41-16-218-112-21-16-14-24-1-56 19-64 37-64 537 0 48 72 14 32 14 64zM2830 576l-19 24-29 24-62 26-72 7-48-3-65-14-47-20-46-28-51-48-47-72-6-32 4-24 21-40 34-40 35-27 40-18 64-16 40-3 40 3 72 16 40 18 35 27 37 40 28 48 14 40 5 40-4 40zM4099 680l-13 24-22 15-96 14-88 1-88-6-64-12-72-22-62-38-38-56-27-72 4-48 22-40 53-55 32-22 56-21 96-16 64-1 48 5 56 15 40 20 32 27 36 40 28 48 12 40 4 40-2 72zM949 1120l-69 5-48-5-8-8-24-56-31-24-25-11 4-37-15-16 0-16 11-4 24 5 32-8 64 27 29 20 22 24 18 32 16 48zM584 2000l0-873 88-1 104 13 20 13 7 16-2 16-18 24-39 18-6 14-1 40 7 28 16 24 16 12 24 6 35-14 11-16 13-40 63-56 13-24 21-64 12-9 64 2 136-10 88 11 296-14 304 9 192-11 304 4 216-10 112 5 256 51 54 20 122 32 272 49 24-2 16-7 72-61 56-23 64-10 80-1 40-7 96 1 64 17 72 30 88 56 36 38 26 48 7 24 3 49 8 3 56-17 56-3 48-18 32-4 0 476-32-4-40-17-64-52-42-45-62-96-20-56-12-66-296-8-79 10-57 16-32 68-21 60-62 104-61 58-48 23-64 20-136 0-88-31-77-46-65-56-69-72-61-48-40-19-96-22-48 0-106 17-78 40-49 48-71 115-24 27-64 40-64 27-104 21-56 0-80-9-88-25-128-67-78-73-98-63-88-27-88-5-64 11-56 22-200 107-56 9-128 1-32 9-8 16-3 56-14 48-25 40-41 40z"/>
<path fill="#edf2f1" d="M1666 504l-38 48-49 32-43 18-72 11-56-2-72-13-56-22-64-36-80-35-47-33-16-16-10-24 2-64 29-72 39-48 455 0 57 80 15 32 15 72-1 40zM2794 592l-22 24-44 24-56 11-64 0-80-17-78-42-50-48-31-56-3-24 5-24 20-40 25-31 32-26 32-16 56-15 40-3 104 18 40 21 32 29 25 31 21 40 11 40 2 40-5 40zM4076 656l-16 32-15 16-69 22-88 4-80-5-104-20-63-25-49-40-32-64-5-32 3-32 12-32 23-32 42-40 37-22 48-15 80-11 80 1 56 12 32 13 32 23 38 39 31 48 17 64-1 56zM944 1120l-72 4-29-4-11-8-8-24-19-32-61-39 4-33-15-16 1-16 34 1 32-7 56 23 35 23 22 24 18 32 18 56zM584 1933l0-174 29-23 6-16-17-24-18-10 0-557 96 2 72 14 32 19 9 20-7 16-18 16-24 8-5 8-2 56 7 23 16 25 16 13 24 6 24-5 17-14 9-16 5-32 69-64 35-88 9-5 192-7 88 17 176-19 128-4 296 9 200-10 296 10 224-14 120 6 240 62 53 19 120 32 163 33 120 17 40-5 80-66 56-22 56-10 88-1 40-7 88 2 56 15 72 30 80 50 42 44 27 64-2 32-24 64-19 19-32 16-72 6-80-7-120 0-136 19-16 19-45 112-70 104-53 50-48 23-64 20-120 0-88-31-72-42-64-55-77-77-51-37-56-24-112-17-76 6-60 13-56 24-40 26-26 25-80 112-30 32-64 38-64 27-96 20-48 0-88-10-56-15-80-34-72-41-79-65-105-60-88-26-80-5-96 20-232 111-136 6-128-14-24 4-12 12 11 56-2 40-13 34-25 30-39 22-40 6-40-8zM4328 1829l-32-5-32-16-64-54-56-59-48-66-16-45-4-40 6-32 13-24 49-42 40-16 72-5 40-17 32-5z"/>
<path fill="#e1ebec" d="M1646 504l-36 48-42 29-32 14-72 13-56-2-72-13-56-22-158-83-25-24-13-24 0-64 16-48 18-32 52-48 390 0 50 64 32 56 13 64-1 40zM2771 592l-23 24-26 16-58 14-56 0-80-16-69-38-49-48-22-48-1-24 7-24 16-32 22-28 24-21 32-17 56-14 32-2 96 16 32 17 32 29 38 60 11 40 1 40-4 32zM4058 640l-14 32-20 24-56 23-88 5-80-4-72-14-72-26-49-40-28-56 0-64 13-32 18-24 38-37 32-19 48-15 72-10 96 4 48 13 28 16 42 40 29 40 21 56 0 56zM944 1116l-24 6-40 2-40-10-31-58-64-40 4-32-15-16 1-16 33 2 32-7 56 23 32 22 23 24 19 32 15 48zM584 1667l0-536 96 4 64 18 32 19 8 12-3 16-13 12-24 9-6 11-2 56 8 27 16 26 16 13 24 8 24-5 18-13 13-24 2-32 69-64 34-83 16-8 152-6 120 24 64-14 112-12 128-5 288 9 208-9 224 16 88 0 208-17 112 4 392 114 104 24 200 33 53-6 83-68 48-19 64-10 80-1 40-7 80 1 72 20 64 27 72 46 41 43 19 40 5 24-4 32-21 48-24 24-32 14-56 5-208-5-136 18-16 22-43 106-73 104-52 48-40 20-72 21-112-1-80-28-72-41-64-55-76-76-59-40-57-21-104-14-88 8-64 14-40 18-48 28-32 31-61 80-51 55-64 37-56 24-104 21-120-9-96-28-112-60-70-56-122-66-88-25-88-4-64 13-112 47-88 45-48 18-48 5-104 0-216-35zM4328 1813l-48-14-64-52-94-99-23-40-11-48 7-40 33-42 40-25 32-9 64-3 32-16 32-6zM672 1905l-24-3-23-14-12-16-5-24 4-24 12-19 16-11 24-7 24 4 16 9 13 16 8 24-2 24-11 20-16 14z"/>
<path fill="#d6e5e6" d="M1633 496l-31 48-41 32-33 15-72 11-56-2-64-12-52-20-152-80-21-24-11-24 0-64 31-72 23-24 45-32 339 0 59 72 29 48 13 64zM2751 592l-37 32-58 17-56 0-76-17-56-32-47-48-16-40 6-48 17-32 20-25 24-19 32-15 48-11 32-1 88 18 24 14 32 31 32 56 7 32 0 40zM4042 632l-26 49-24 19-24 10-88 8-80-4-64-12-76-30-43-40-22-48 1-56 8-24 20-29 36-35 28-16 40-13 72-10 88 2 48 13 24 13 56 59 28 56 3 56zM944 1112l-16 8-48 3-38-11-29-56-65-40 1-32-14-16 1-16 32 2 32-6 56 24 32 22 36 46 20 56zM584 1655l0-522 88 5 72 24 24 16 7 22-5 8-26 11-8 13 0 58 8 29 16 29 16 13 24 8 24-3 24-18 10-20 1-40 64-56 15-24 22-60 16-12 144-6 128 30 64-16 110-16 130-5 272 8 224-7 224 21 88-1 216-19 104 4 392 118 104 23 200 33 40-1 18-6 66-56 28-18 32-11 64-11 80-1 48-7 72 1 64 17 64 28 72 44 40 42 18 36 6 24-5 32-22 48-21 19-31 13-57 5-200-4-138 15-19 24-48 112-68 96-55 50-40 20-64 18-112-1-80-29-64-37-64-54-80-80-56-37-56-21-104-12-96 8-64 15-40 17-48 27-31 28-65 80-53 56-59 34-56 24-104 22-120-9-88-25-116-62-84-65-112-55-88-23-88-4-64 13-200 90-56 17-144 3-208-41zM4328 1800l-40-11-64-53-94-96-18-29-12-43 5-40 31-40 32-21 32-10 64-2 40-19 24-4z"/>
<path fill="#cadddf" d="M1619 496l-33 48-29 24-32 16-69 12-48-1-65-11-63-24-136-72-15-16-16-32-1-56 16-48 20-32 79-56 290 0 43 45 51 75 15 64 0 40zM2732 592l-27 24-49 18-48 2-80-16-51-28-44-48-14-40 7-40 30-49 24-21 24-11 48-12 32-2 80 17 24 14 32 32 25 48 5 64-5 24zM4029 624l-29 53-24 19-22 8-74 8-72-4-72-13-70-31-38-40-18-40 1-56 10-24 19-24 32-30 24-12 40-12 64-9 88 2 60 21 52 51 29 53zM941 1112l-20 8-41 2-34-10-30-57-66-39 0-32-15-16 1-14 64-5 56 24 32 22 38 53 16 48zM584 1646l0-511 80 5 74 28 25 16 6 16-25 16-8 12 0 68 8 30 16 30 16 14 24 8 32-6 23-20 10-24-4-40 65-56 15-24 19-53 16-15 144-6 40 8 64 23 24 3 140-32 172-11 264 9 224-6 224 24 88 0 208-21 96 1 400 121 112 26 200 32 40 0 20-7 68-57 56-28 64-11 192-8 64 16 72 30 64 41 41 41 23 56-3 24-20 48-17 18-32 15-56 7-208-3-136 14-21 29-44 104-71 100-48 45-40 20-64 19-112-1-80-29-64-39-140-131-52-34-64-24-104-10-96 9-64 15-40 17-49 27-37 32-114 128-56 33-64 28-104 19-112-9-88-26-112-60-88-66-112-53-88-22-88-3-56 11-208 90-56 16-136 2-88-15-128-29zM4328 1789l-39-13-57-47-95-97-15-24-12-32 3-40 22-32 33-25 32-11 72-3 32-17 24-5z"/>
<path fill="#bdd5d9" d="M1609 488l-31 48-34 29-24 12-80 12-103-13-57-23-133-73-22-40-1-56 18-48 23-32 59-38 40-17 227-1 55 48 52 72 15 56zM2720 584l-38 32-34 11-40 2-76-13-44-24-38-40-16-40 5-40 30-48 43-28 64-11 80 14 24 14 24 24 25 43 6 64zM4014 624l-28 48-20 16-22 8-64 8-56-2-82-14-56-24-30-24-29-48-3-56 21-40 51-43 40-13 64-9 80 1 56 17 50 47 30 56zM938 1112l-18 7-40 2-31-9-9-24-24-35-64-37-1-32-15-16 0-13 64-5 56 24 32 23 37 51 15 48zM584 1637l0-499 80 7 73 31 21 16 2 8-19 16-7 16 6 88 20 45 16 15 24 8 32-5 28-23 12-32-9-40 67-56 30-70 16-18 144-6 96 33 32 4 119-31 57-9 144-7 256 8 216-4 224 27 104 0 200-21 96 0 400 123 104 24 208 34 40-1 24-7 72-60 24-15 32-11 56-9 192-8 64 16 64 27 72 45 32 32 24 56-8 40-16 31-18 17-30 12-48 6-208-2-136 10-24 29-48 111-71 98-49 45-40 19-56 16-106 0-78-27-64-37-64-55-80-79-56-37-64-22-104-8-104 12-56 14-48 20-48 26-32 28-120 130-112 56-104 20-112-10-80-23-112-59-88-66-120-55-88-20-88-3-48 9-48 15-168 75-56 15-136 2-88-16-128-30zM4328 1778l-32-10-56-46-107-114-13-32 1-32 15-26 32-27 32-12 72-2 32-17 24-6z"/>
<path fill="#afccd1" d="M1596 488l-13 24-47 45-24 12-72 11-96-10-56-22-128-68-12-16-12-32 1-48 15-40 15-24 65-44 94-28 123 0 64 32 24 24 46 64 18 64zM2707 576l-35 32-32 11-64 0-40-9-45-26-32-40-10-32 7-40 24-38 32-22 64-12 72 12 21 12 24 24 23 40 3 56zM4001 616l-20 40-37 28-72 10-56-2-96-22-53-38-28-48 0-48 25-39 24-22 20-11 92-18 80 1 52 17 44 43 25 45zM935 1112l-47 8-36-8-12-29-24-33-62-34-3-32-14-16-1-11 64-6 72 35 25 22 22 32 19 56zM584 1628l0-488 72 7 90 45 3 8-13 18-3 22 1 48 10 59 24 39 16 10 24 6 32-9 28-25 12-40-13-40 68-56 26-64 11-16 12-6 128-5 32 8 72 30 32 4 147-39 173-13 256 8 216-3 224 31 104-1 206-22 90 1 200 66 200 58 104 24 208 34 40-1 24-7 24-15 48-44 24-16 32-11 56-10 192-8 64 17 64 28 64 40 36 36 21 48-4 24-17 40-20 19-24 10-48 7-232-1-104 6-16 5-20 26-49 112-69 96-46 44-40 20-56 17-104 0-88-32-56-35-144-134-56-35-72-22-112-5-88 13-96 29-56 30-32 26-120 128-112 56-104 21-108-9-84-24-112-60-88-66-112-49-88-22-96-3-48 9-48 15-168 74-56 14-136 1-88-16-120-28zM4328 1768l-25-8-55-45-104-107-14-32 0-24 11-24 27-25 32-13 80-4 48-22z"/>
<path fill="#9fc3c9" d="M1585 480l-13 24-44 44-24 11-72 11-88-10-109-48-67-39-19-41 0-40 11-34 18-30 62-41 112-28 80 1 64 23 30 29 51 72 10 40zM2693 568l-29 28-32 13-64-1-32-8-38-24-22-32-11-32 5-32 19-32 31-21 56-11 72 14 32 28 21 38 3 40zM3985 616l-17 32-32 24-72 10-48-2-88-20-41-28-32-48-2-40 18-32 41-33 96-19 72 3 48 17 38 40 21 40zM932 1112l-44 8-33-8-15-32-24-32-61-32-3-32-16-26 64-6 72 35 31 29 15 24 19 56zM584 1619l0-476 70 9 82 44-3 92 11 76 24 38 16 11 24 6 40-13 29-30 11-24 3-24-20-40 71-56 26-66 16-15 80-8 48 3 104 42 40 2 168-45 144-10 200 1 48 6 224 0 136 24 88 9 104 0 208-23 88 0 200 68 200 58 104 24 200 32 56 0 24-10 72-60 48-23 64-10 184-7 64 17 71 31 33 22 50 42 22 48-17 56-15 17-24 12-56 8-200-1-144 9-25 27-54 120-70 96-43 38-36 18-60 17-96-1-87-32-51-32-150-138-56-34-64-20-120-5-88 14-64 17-96 46-54 48-98 103-112 56-96 18-104-9-84-24-108-57-88-66-120-52-88-20-96-3-48 9-48 15-58 30-110 42-56 14-136 1-88-16-120-29zM4328 1756l-24-9-51-43-101-104-10-24-1-24 11-19 24-21 32-12 72-2 48-22z"/>
<path fill="#8db9c1" d="M1570 472l-12 24-22 24-40 26-72 10-80-11-112-49-48-28-18-36 0-40 11-32 15-23 56-35 104-26 80 2 56 20 54 62 18 28 10 36zM2679 552l-23 26-28 14-76-1-32-18-16-16-18-37 2-31 16-27 24-16 48-10 56 10 27 18 21 32 4 32zM3968 608l-16 30-24 17-80 10-72-10-40-11-39-28-25-40 0-30 16-25 32-25 88-17 64 1 40 12 32 30 24 38zM935 1104l-23 14-40 0-15-6-25-47-15-17-60-32-5-8 0-25-16-23 8-5 56-2 64 29 30 26 23 32zM584 1145l64 11 80 46 8 156 6 26 26 43 32 14 40-8 40-36 19-37 5-32-3-16-20-24 63-44 32-75 24-16 104-1 104 44 48 4 169-48 183-14 424 11 144 27 80 9 112 0 208-23 80 0 200 66 200 59 104 24 208 34 72-5 32-18 56-50 48-22 56-9 176-8 80 23 56 24 48 32 35 32 16 32 2 16-19 48-34 20-48 8-320 2-32 7-29 35-49 112-66 92-40 38-88 36-104 0-80-30-56-36-144-134-56-34-64-21-128-4-88 15-104 34-56 27-32 26-128 127-112 54-80 16-32 1-80-9-80-24-104-54-96-71-120-49-88-19-112 0-80 22-72 35-104 37-56 11-104 1-72-8-152-36-80-27-32-19-40-13zM4328 1742l-16-7-48-39-96-97-12-23-2-16 7-16 16-16 31-14 80-3 40-21z"/>
<path fill="#86b5bf" d="M934 1104l-22 13-32 1-22-6-10-24-30-40-59-32-6-8-1-27-15-21 63-6 48 19 24 16 28 27 16 24zM584 1590l0-443 72 15 70 46 9 192 25 54 21 18 35 1 32-17 41-48 24-48 1-72 47-40 28-72 19-14 48-6 48 7 80 38 48 9 48-1 104-38 56-13 192-16 320 6 80 7 128 30 88 9 128 1 128-14 152-4 184 64 72 17 64 23 88 24 296 56 80 0 40-17 56-43 25-13 79-9 45 9 29 16 21 24 8 24-7 40-31 32-56 16-49 5-32 24-33 59-2 16-32 72-63 88-38 37-48 22-40 11-96 0-72-27-48-29-72-59-30-35-58-49-51-31-77-25-116 1-108 23-96 32-48 24-56 41-48 52-64 56-96 48-96 19-104-9-64-17-112-57-96-70-115-46-77-17-144 0-80 24-56 29-128 38-64 7-104-3-200-40-24-15-48-10-32-23z"/>
<path fill="#7fb1bc" d="M932 1104l-20 12-32 2-20-6-12-26-28-38-60-32-6-8-2-29-13-19 61-5 48 19 24 16 42 50zM3531 1464l-15 72-20 56-48 80-54 56-82 33-88 1-75-26-61-36-144-128-48-30-64-27-72-5-80 5-96 24-96 32-48 23-56 40-112 102-98 48-102 20-80-7-80-21-54-24-58-32-104-69-104-41-80-16-144 1-80 23-62 30-111 32-75 8-80-6-56-12-152-54-64-12-104-30 0-424 72 16 65 42 10 56 1 152 20 56 16 21 16 8 24-3 24-13 48-49 36-68 16-80 32-32 36-67 24-17 32-5 40 5 104 40 56 4 24-2 160-49 128-16 80-3 296 7 88 9 128 29 96 11 120 1 208-18 64 3 184 64 248 65 272 54 128 14 24 11 19 20 8 24z"/>
<path fill="#77acb9" d="M931 1104l-19 11-32 2-18-5-41-64-61-34-8-37-12-17 60-4 48 19 24 17 41 48zM640 1541l-56 2 0-391 48 8 40 17 48 34 8 30 3 71-18 176-25 34zM847 1552l8-40 60-112 34-104 59-81 24-19 32-9 32 1 112 34 56 1 176-51 136-19 72-3 296 7 88 11 128 30 96 12 120 2 208-12 56 5 184 71 152 28 435 104 32 16 26 24 14 32 5 32-4 40-11 40-42 72-52 48-35 17-40 11-72 2-80-24-64-36-136-115-56-37-64-30-64-10-96 17-176 55-56 25-40 27-144 115-96 42-88 14-88-7-72-20-104-51-96-60-136-50-80-12-120 4-80 21-72 31-56 16-64 12-64 3-72-12-64-28-43-40z"/>
<path fill="#6da4b3" d="M929 1104l-25 11-40-3-41-64-63-35-7-37-10-16 65-1 62 33 42 49 16 47zM584 1495l0-339 72 16 64 44 8 34 2 54-26 98-24 49-40 32zM902 1520l10-56 55-152 49-67 40-27 48-7 104 20 56 1 172-48 140-22 184-7 184 9 86 12 130 32 88 14 112 4 168-6 88 7 64 24 120 70 32 4 88-4 56 7 376 101 40 20 32 29 18 34 5 40-7 40-14 32-24 32-26 22-32 18-40 12-80 2-56-14-56-26-56-37-104-83-112-76-40-20-32-2-328 126-72 46-96 72-56 29-72 24-80 9-72-7-64-16-80-33-152-80-96-32-64-11-48-3-112 7-216 62-64 7-64-6-56-19-38-27-28-40z"/>
<path fill="#619bac" d="M926 1104l-30 10-32-4-40-63-67-39-1-24-8-16 4-7 56-1 60 32 25 24 19 29 14 43zM584 1448l0-289 80 19 51 38 13 43 1 37-9 38-48 75-40 28zM2731 1376l-4 24-20 32-61 48-214 91-144 90-56 29-64 23-72 12-72-2-80-15-76-28-180-83-72-21-64-10-64-2-104 10-200 51-64 6-48-4-48-14-43-29-29-40-10-40 8-72 33-96 36-56 45-35 56-11 96 10 56-2 176-47 176-28 136-6 160 7 104 16 136 37 88 15 104 7 160-2 64 6 56 17 50 32 35 40zM3406 1600l-15 24-23 22-56 26-72 6-80-16-88-45-173-129-41-48-8-24 2-16 15-24 25-16 28-7 40 0 352 102 50 25 33 32 17 40z"/>
<path fill="#5790a3" d="M922 1104l-34 10-24-7-40-62-64-36-8-43 48-7 66 33 24 24 21 32 13 40zM584 1402l0-238 56 10 32 12 45 38 10 48-7 50-32 37-48 31zM2674 1384l-7 32-14 24-25 24-39 24-157 67-192 98-64 21-72 11-72-2-72-13-72-24-184-74-120-25-120 4-272 53-48 3-48-5-48-16-34-26-25-40-8-40 6-64 26-72 33-48 42-28 48-10 144-2 265-64 175-20 195 4 109 21 128 39 96 22 96 9 152 2 64 8 48 17 32 21 27 37zM3381 1584l-9 16-20 16-64 20-72 0-72-18-80-41-133-97-33-40-2-32 24-21 48 1 184 70 152 45 40 19 24 19 12 19z"/>
<path fill="#4e869b" d="M917 1104l-29 8-24-8-16-32-24-30-63-34-6-40 21-7 24 0 64 32 23 23 21 32 12 40zM712 1321l-48 24-80 11 0-187 80 15 48 40 12 48-2 32zM2635 1392l-5 24-16 24-28 24-34 19-296 126-72 20-72 8-64-2-64-11-248-87-120-22-96 5-272 56-72 4-48-3-48-15-32-22-19-28-9-40 6-56 22-64 24-36 32-22 40-9 152-9 267-68 93-16 112-10 120 1 144 32 136 52 96 23 88 10 136 3 56 8 40 14 24 15 22 28zM3350 1576l-22 10-72 5-48-2-58-13-54-24-53-32-88-64-30-32 3-7 8-1 160 91 56 24 72 19 120 18z"/>
<path fill="#467c93" d="M912 1103l-24 8-21-7-43-64-60-32-4-40 16-5 24 1 40 17 28 19 41 56 8 32zM712 1307l-32 11-96-16 0-126 80 11 40 35 16 42 0 24zM2604 1392l-4 19-24 26-63 35-161 66-104 30-80 12-96 1-56-9-232-82-112-24-64-2-48 7-184 61-128 21-88-6-56-13-35-22-10-32 29-128 16-24 16-8 128-7 64-9 257-72 95-20 112-15 126 3 130 38 104 52 88 33 144 23 104-2 72 9 42 15z"/>
<path fill="#3d708b" d="M912 1096l-16 11-25-3-23-39-24-28-57-29-6-16 4-24 19-3 24 5 56 31 38 47 10 32zM704 1295l-32 4-64-28-24-2 0-87 72 6 40 31 11 13 7 32-2 20zM2073 1392l-24 40-41 23-48 7-64-8-112-30-64-27-40-37-9-24 1-24 20-40 48-32 68-17 80 3 96 28 48 29 19 21 18 32 7 32zM1148 1464l-2-40 14-32 24-22 40-15 112-17 56 0 48 18 16 18 7 18-5 40-29 40-45 28-56 17-64 8-48-8-46-21z"/>
<path fill="#356381" d="M909 1096l-21 11-16-5-23-38-25-29-56-29-6-14 6-23 40 4 56 31 35 44 11 32zM702 1280l-14 9-16 1-64-27-24-3 0-73 80 7 38 38 6 32zM2015 1344l-15 29-24 16-40 10-48-2-72-13-48-18-24-22-10-32 10-25 32-22 48-11 56 1 64 14 43 19 23 24zM1412 1424l-7 24-25 24-36 16-48 11-40 0-32-8-24-19-10-24 5-24 22-24 39-16 56-10 40-1 32 8 21 19z"/>
<path fill="#2c577a" d="M905 1096l-17 8-16-5-24-40-24-26-56-30-4-11 4-19 16-3 24 6 56 31 32 43 11 30zM696 1271l-16 9-16 0-56-24-24-4 0-59 80 5 33 34 5 24zM1986 1328l-4 8-14 7-32 1-144-13-16-6-9-13 9-12 32-11 72-2 80 18 16 8zM1217 1448l7-14 16-9 88-17 40 0 16 16-5 16-11 10-72 24-32 1-24-6-16-8z"/>
<path fill="#244b74" d="M900 1096l-12 5-16-5-24-40-22-24-50-24-10-16 5-16 13-3 24 6 52 29 36 48 7 24zM689 1264l-25 8-80-28 0-45 80 3 27 30 4 16z"/>
<path fill="#1c3b6c" d="M896 1095l-19 1-48-64-53-27-7-13 7-15 48 12 40 27 28 40 8 24zM682 1248l-10 10-16 1-72-23 0-30 72-3 21 21z"/>
<path fill="#142961" d="M895 1088l-15 6-48-63-56-30-1-17 25 0 56 30 31 42zM668 1232l-12 11-16 0-51-19-1-8 68-5 8 5z"/>
<path fill="#0d1957" d="M888 1088l-9 0-26-40-29-29-40-17-6-10 6-5 23 5 43 24 31 40z"/>
</g></g>
<path class="k" transform="scale(0.25)" d="M548 1003l-2-117 5-117 9-81 14-28 21 2 23 13 21 6 18-7 54-26 178-67 45-10 43-7 67-5 67 5 34 7 32 10 29 16 68 43 14 8 32 9 73 14 39 4 60 1 68-5 33-7 34-11 50-18 33-15 67-39 83-56 68-38 31-11 34-8 67-9 33 1 32 6 15 4 28 12 83 49 97 68 42 27 41 23 42 19 67 22 50 12 66 11 67 4 50-3 33-5 28-10 27-13 28-17 28-21 97-89 28-22 41-28 28-13 44-13 34-6 33-2 50 6 29 8 27 12 28 16 27 20 45 44 88 111 33 31 25 15 58 19 100 19 75 9 98 7 66 9 25 6 20 7 14 10 8 12-2 16-16 27-26 29-33 26-39 23-28 12-28 9-42 7-41 1-28-2-42-6-41-9-42-11-56-21-25-13-55-33-33-14-21-4-28-2-51 1-150 20-116 22-67 22-97 49-42 18-55 20-44 10-51 5-33 1-100-3-166-12-84-1-83 2-133 13-183 42-50 8-81 8-41 1-75-3-235-16-48-5-33-5-34-9-50-17-50-24-16-4-17-1-16 1-34 11-20 11-61 42-24 13-30 9-21 1-15-6-15-16-11-26-16-52-12-22-25-15-31-12-30-8-31-3-25 5-23 12-44 40-14 24-11 14-91 56-40 10-27-22zM548 1237l12-69 28-19 40 13 99 59 47 41 23 16 23 10 33 3 35-3 16-5 40-19 5 0 3 4 17-37 20-61 15-15 7-5 8-2 39 5 46 11 23 10 60 34 17 5 34 3 22-1 20-4 93-33 49-14 120-14 85-6 108 2 211 9 83 9 83 17 56 9 55 5 56 3 111-2 247-22 26 3 32 14 115 39 174 55 44 12 222 46 68 10 61 6 33 1 30-5 28-12 25-17 32-35 21-14 24-10 31-6 93-7 80-4 47 3 26 5 28 10 56 25 40 23 22 16 18 19 11 19 4 20-3 20-8 17-14 15-21 8-60 3-286 0-31 3-26 8-13 11-11 17-28 66-23 49-31 52-23 32-27 27-29 23-32 18-34 12-39 6-39 1-34-5-50-17-33-17-31-19-55-47-97-87-27-22-28-17-28-13-41-13-42-4-33 0-67 5-67 11-50 13-91 33-42 21-28 19-41 37-70 68-32 24-34 21-50 22-50 14-33 6-50 1-50-4-34-6-33-10-33-12-50-24-34-20-49-34-39-30-30-17-117-44-67-14-50-5-50-1-33 2-33 6-34 9-66 33-89 33-67 16-66 7-67-2-89-14-89-24-120-39-18-10-44-17-21-19-14-40-9-80-5-109zM932 1112l4-6-2-8-25-61-23-31-29-26-34-19-38-11-65-2-8 1-5 6 7 33 12 32 5 4 14-7 24 0 28 7 21 12 18 15 14 20 11 27-3 15 6 3 34 1zM932 1136l4 6-2 7-23 58-20 30-27 26-31 19-34 13-61 8-8 0-5-6 3-33 9-34 4-4 14 6 23-2 25-9 19-12 17-16 12-18 10-26-2-15 5-2 34-1zM1195 398l4-15 6-13 9-11 26-20 30-14 34-9 51-9 50-1 35 4 15 5 24 13 20 20 10 12 17 29 12 27 6 25-1 12-2 12-12 23-8 10-19 13-25 9-32 5-35 0-33-3-50-13-80-36-25-14-18-15-7-8-3-10zM2523 500l9-14 17-8 23-3 36 4 20 8 15 15 8 18-2 15-10 13-20 9-24 5-23-1-11-2-10-6-18-21-10-23zM3706 555l5-9 16-15 25-8 65-8 57 1 20 7 18 17 20 27 6 17 0 8-7 15-6 7-20 10-45 5-50-3-46-11-26-12-21-18-8-11-4-10zM1237 1811l1-9 10-23 18-21 12-8 43-15 50-5 34 1 35 6 15 4 25 12 19 16 7 10 9 23 1 11-1 11-9 23-7 10-19 19-25 15-32 12-35 7-17 0-34-4-16-4-15-7-29-18-11-8-14-17-12-25zM2562 1685l13-4 31-1 22 3 6 2 0 4-17 11-30 5-9-1-6-3-10-11zM3761 1635l5-5 25-5 42-1 27 3 23 7 16 10 10 12 1 13-9 12-18 10-28 10-28 3-10-3-15-13-30-31-9-12zM4181 1555l-4 8 2 9 6 10 86 90 52 38 22 10 15-7 7-36 3-57-3-57-7-39-14-11-21 5-22 11-21 7-52-2-14 2-26 11zM1040 738l4-7 11-5 16-3 106-8 67-3 44 2 45 9 44 13 178 67 68 14 55 3 32-6 33-12 167-82 66-28 34-10 49-9 33-3 35 1 57 8 67 13 68 19 61 21 66 29 74 40 27 20 12 15 1 6-4 5-17 9-11 2-26 2-29-4-83-28-28-3-14 2-55 21-42 22-42 28-83 64-27 16-47 23-34 13-49 11-76 8-53 0-69-7-60-11-90-24-155-49-45-10-44-7-67-3-67 4-44 5-62 15-15 1-10-2-6-5-10-24-13-51-41-117zM595 973l43-27 43-33 24-15 23-11 19-2 10 2 10 9 5 11 2 16-6 23-28 43M595 998l71-37 19-6 18 1 9 5 3 4 3 14-6 22-12 21M595 1022l56-23 14 0 13 8 4 8-2 16-8 16M1071 1496l3-26 24-64 1-9 0-39 7-16 6-7 10-5 34-4 110-2 44-5 67-17 155-48 89-24 89-18 90-11 56-1 32 3 123 37 33 15 40 25 50 26 66 29 36 11 59 12 67 8 45 1 66-3 52 3 51 10 14 7 7 8-3 11-13 14-39 29-29 13-51 19-67 30-50 17-66 18-67 13-66 7-50-1-67-11-50-16-100-43-66-24-67-18-33-6-31-2-67-2-31 3-27 6-55 19-70 34-40 18-48 12-50 8-67 0-79-9-63-18-8-5zM595 1262l71 40 21 9 13 0 18-9 7-10 3-11-4-19-12-24M595 1238l59 28 12 3 12-2 10-5 5-13 0-11-5-19M595 1213l43 19 15 1 7-5 5-10 1-10-3-13M918 1101l-7-32-14-29-20-27-25-22-28-16-31-11-33-4-32 2M908 1097l-8-28-13-25-17-24-21-19-25-15-27-10-28-5-29 0M897 1094l-7-23-11-22-15-20-17-17-21-14-22-10-24-6-24-2M884 1092l-14-35-24-30-31-21-36-12M918 1147l-7 30-13 28-18 26-22 21-26 17-29 12-30 6-31 0M908 1151l-8 26-11 25-16 23-20 19-23 15-25 11-27 6-27 2M896 1159l-8 22-11 20-14 19-16 16-20 13-21 10-22 6-23 3M882 1165l-17 34-26 28-32 19-37 9"/>
</g>
<circle cx="189" cy="281" r="29.2" fill="#fff" stroke="#000" stroke-width="1.3" stroke-dasharray="5 1.5 9 1 3 2 12 1.5"/>
<g id="arcd" clip-path="url(#ac)"><g transform="scale(.1)" fill="none">
<path style="marker:url(#m0)" d="M5095 869l3010 363-17 314-6187 423 53-4 59 26 52-45 91 42 4361-240-1421 495-2664 54-73-151-91-86-70-35-333 279-28-280-58 24-14 316-31-277-18-72-32 91-1 118-34-164-10 126-15 71-23-131-16 92 162 242 873 220-622 615 7578 1139-6103 424 81-26"/>
<path style="marker:url(#m1)" d="M8310 751l-3141 25 2987 259 6-89-3048 453 0 132-3515 291 1 169 19-67 15-53 24 120 52-49 23-102 24 75 31-47 13 94 48-121 10 67 116 0 22-53 46 35 78 37 105 31 1324 36 1585-256 7-112-2586 695-31-43-25 45-44-80-29-62-89-112-521 260 715 97 67 107 962 234 34-276 1449-19 1502 284-4483 374-31-46 4480 1299 3038-58 33 425-39-211-6094 213-10-101-91 186"/>
<path style="marker:url(#m2)" d="M8191 1121l-43 259-3015-86-3518 440 50 77 15-64 67 18 70-26 112 32 7 72 55-55 78 54 69 19 71 40 68 91 2893-30-26 212-1579-42-941 203-46 32-77-154-737 316 3259 61 4501 2072-3030-109-3078-127 6179 440"/>
<path style="marker:url(#m3)" d="M5121 977l32 170 1-92 3037 154-54 269-6475 179 68 48 11-67 69 15 70 73 1-65 98 65 100 50 104 31 58 48 25 59 63 62 1157-95 1695-58 1320 174 1565-84-1550 170-2951 168-868 0-24 52-42-33-43-50-45-39-95-61-19-55-510 280-131 89 800-13 16 59 21 102 6 160 934-197 1493-9 4453 1675-6270 627"/>
<path style="marker:url(#m4)" d="M5205 1565l-3517 26-75 21 432 86 64 12 117 39 96 166 2908-219 1252 176 1657-247-1613 698-13-115-1380 122-1573 68-810-127-49 80-2-166-54 32-15-59-105-36-39-41-64-78-427 338-210 135 865-66 2461 9 1425 123 2923 81-7426 543-60 84 7504 1166-7 179-5-89-3006-41 100 385"/>
<path style="marker:url(#m5)" d="M8272 1082l4 117-52 134-2996 40-7 89-3-241-3344 371 63 19 75 34 167 55 145 46 15 65 58 117 1031-131 44 171 1779 20 18-125 35-107 2821 44 22-88 1299 608-4223-218-8 171-1773-184-592 197-38-56-29-77-19 210-49-271-104-18-125-55 159 518 4-74 81-30 803 41 6 205 2978-197 9 183 2907-123-7520 732 4547 1005 3038-159-13 631-3014 0-3128-181-40 97-65 86"/>
<path style="marker:url(#m6)" d="M5292 1573l-3295 5-178-36 276 92 198 49 99 183 24-79 41 75 9 70 56 20 87 26 771-84 16 81 1916-311 1096 322 3063 144-1406-22-1649-7-1155 78-1779 144-47-136-68-86-448 211-49 60-27-243-50-37-140-61-104-13 150 461 100-69 47 23 2172 230 1505-62-4531 531 7 73 7507 751"/>
<path style="marker:url(#m7)" d="M8305 1311l-52 256-11-104-2864 114-40-94-3415 33-213 15 701 166 99 131 76 86 105 42 2657 19 17-87 27-103 2763 131 49-75 55-130 1210 223-1438 304-1586 70-44-104-1090-112-88 300-1800-113-110-244-337 248-69-106-151-139-101 607 50-98 68-70 47 28 633-81 61 204 1648-119 1335-91-4538 754-40 19 1440 1155 3058 46 50-250 2967 175-3020 288-3311 244"/>
<path style="marker:url(#m8)" d="M1580 943l3719 182 2973-129 39 411-2916 8-61-96-18-109-1898 377-1223 6-129-32 295 72 130 111 76-1 50 61 41 97 143 75 489-12 31-192 62-89 2032-8 56 64 933 78 1600 530-1570 48-1145-57-1905 34-44-70-26-83-49-69-12 170-63-107-70 76-56-81-7 131-3-61-26-135-33 232-5-162-3-163-23 64-87-50-187 527 83-32 150-110 525 80 27 48 1602 59 1397-98-4559 589 1481 1035 6020 71-5 450-6091-263-96 187-73 102 5256 157 1032-26"/>
<path style="marker:url(#m9)" d="M1607 791l-17 248 55-161 43 108 6679 227-2914 297-3183 74-130-42-135-31 465 140 205 106 9 71 87 23 44 48 97 39 27 61 72-32 55-54 127 24 84-98 2168 155 47-168 1 91 0-273 62 86 736 215 41-79 104-136 1801 211 57-118 61-95 9-115 1052 624-1250-187-1847 243-29-126-3-113-66 55-846 45-3 129-2155-205-40 241-36 70-4-363-26 94-51-47-340 549 159-107 201-107 140 12 112 4 61 79 1611 215 140-147 1258-103 2983-35 28 1696-6138 382 3153 347"/>
<path style="marker:url(#m10)" d="M1716 797l6716 617-11-95-2872 226-102-208-2989 216 118 78 54 44 81 22 36 65 115 17 59 78 67 32 181-107 7 75 58-126 2355 223 43-108 28-153 460 199 80 28 29-87 2093 91 59-73 1028 220-1119-59-1959 374-100-128-94-197-616-19-2 91-78 80-74 153-2725 430 51-114 167-120 120-93 55-26 95 18 152 22 54 33 40 55 54 42 38 40 1802-169 1144 46 66 113 1505-225-6117 793 1413 1100 3065 34 3059-308-38 466-2996 200-18-160-3257 91"/>
<path style="marker:url(#m11)" d="M1632 1132l64-44 98-214 3391 8 130 155 96 152 2953-85 96 456-2832 27-111-201-2974 185-172-56-160 14-118-35-241-52-128 20 964 164 90 33 205 79 49 86 47-58 23 74 61-145 103-51 2432 137 16 84 17 112 75-70 6-125 70 171 66-119 45 122 107-151 84-53 2212 226 49-335 901 515-19 163-1085-216-102 76-1921 190-58-52-31-132-57-181-29 171-13-86-96-74-281 152-44-93-91 248-1-85-70 114-3618 117 843 264 65-52 60-57 133-88 303-22 78 53 1824 63 112-81 1044-105 140 141-4554 572 4473 1054 3002 156-6126 33-39 90"/>
<path style="marker:url(#m12)" d="M1845 792l-46 204 3453-39 363 501-2870 126-92-19-353-60-361-59-351 47 1258 187 80-27 133 29 2674-59 132 85 117 32 2503 204 1-97 22-82 834 211-926 93-81 31-2258 261-49-58-52-71-45-116-85 18-1-91-105 78-142 198-2740 297 165-108 56-13 87 18 82 54 178 129 1780-96 157-120 88-28 764-2 108 53 2947-102 126 1550-3010 146 2932 55-3006 279-3230 105-55 209"/>
<path style="marker:url(#m13)" d="M8468 760l-6663 347 81-232 3508 193 3158 459-25-174-59-119-2753 245-169-192-54-70-2844 274-98 0-75-36-821-248 4291 457 146 20 236-3 2925 561-42 86-682-305-450 293-2065 81-91-59-35-124-83 49-113 34-46 77-74 25-2838 335 47-48 50-27 503-38 37 38 2777-206 91 67 112 62 3096 1291-6308 486 3135-109 187-220-3455 558-26 266 6372-44"/>
<path style="marker:url(#m14)" d="M5853 1568l-2643 21-240 4-62-69-98 14-216-103-236-5-87-8-115 1-368-8-45-184 4287 386 2562 347 7-315 4 223 58-82 544 208 11-85 14 203-70 132-7-87-59 235-20-158-487-145-91 16-70 58-226 79-2362 115-79-11-3056 414 206-148 51-39 142-29 2407-36 118-53 302-51 117 76 114 52 122 40 78 69 2973-80-6139 1704 6091-248 3 258-2994 523 2200 61"/>
<path style="marker:url(#m15)" d="M1813 1188l68-166 3690 159 3076 369-44-160-2664 164-203-158-70-61-2383 215-174 9-255-96-97-19-299-73-413 20-361-101-104 17 4624 344 2502 65 16 138 17 85 350 50-1 88-65 64-18 188-4-276-34 163-66-75-6 163-57-92-89-11-58-152-52 134-112 19-184 23-5533 492 375-139 25 44 75 36 47 35 141 65 1610-39 91-41 158-78 77-41 295-82 83-3 117 8 68 27 328 132 145 52 2721-206-5893 1726 2929 123 83-217 2940 81 82 409-3053 21-7-141-3241-7 2392 365"/>
<path style="marker:url(#m16)" d="M1959 837l3296-36 3192 337-2628 304-181-209-2944 164-350-42-599-23-119 53 7073 231 78 169 82 126 75-73 43 77 91-45 92-24 153 20-396 151-87 44-23 261-5932 383 112-68 50-31 52-9 283 133 1866-46 239-116 150-42 114 10 106-3 185 44 94 15 104 20 2744-166 295 1946 39 326-6378-18"/>
<path style="marker:url(#m17)" d="M2008 760l6355 115 10 136 298 442-5614 5-142-40-328-69-392-7-298 18 4512 290 2381 37 81 95 142 23-337 479-91-7-160-10-252 79-5397 417 147-59 215-79 283 140 1902-98 83-49 141-35 243 2 162-1 217 53 320 102 2387-315 367 158 91 1292-119 98-6213 425 3185-204 3019-120 62 458-6367 249 6359 50"/>
<path style="marker:url(#m18)" d="M8689 757l-6739 305 14-77 3454-2 65 68 80 44 2966 74 251 415-2621-14-3309-210-973-131-45 81 7589 533-6571 908 121-58 63-31 57-13 74 20 78 52 1786 47 426-110 155-42 52-28 168 40 104 9 86 1 78 10 163 32 84 28 1628-194 1073 6-7188 598 7318 1176-2986 416-17-140-45-122-3212 29-42 155"/>
<path style="marker:url(#m19)" d="M1937 1181l86-286 6588 373-2563 232-119-71-91-75-77-95-3057 41-160-16-114-3-342 43-142-28 7003 454-596 587-87 22-5086 367 114 34 2115-69 119-5 64-10 115-47 3074-208 594 235-3284 1716 3033-175 93 264-6354 87-17 321 3312-57 2467 16 79 29"/>
<path style="marker:url(#m20)" d="M8813 780l-6714 8-87 329 3329-224 29-83 327 358 2832-302 87-37 138 603-66-78-5904-52-166-46-303 1-157 17-164-40 6904 415-386 686-5600 425 176-44 2038 49 72-6 101-21 373-60 84 2 124 30 109-23 76 9 155 24 1837-283 643-34 423 201 344 154-350 1196-3025 313 232-243 2783 88 93 615-69 73-6339-124 2828 190 3378-22"/>
<path style="marker:url(#m21)" d="M9074 781l-3487-28-96 17-3283 24-139 218 22 81 67-232 1 105 3288-83 3008 43 42 115 123 126 75-287 248-78-125 692-6437-290-139 34-170-9 7434 606-7464 541-182 120 1139 248 173 31 2299-31 73-1 70-16 108 0 93-9 123-4 223 8 152 26 1646 18 1329-83-229 1339 21 258 79 344-23-135-1-85-632 350-2404-18-18-127-51-166-24 123-3223 23-14 208 2962 48 115 13 193-26 2745-22"/>
<path style="marker:url(#m22)" d="M5781 765l-3267 13-208-21-162 404 37-74 67-193 17 165 1 104 55-214 38-121 22 239 20-141 41-101 1 332 3096-232 89 1 3 97 67-211 27 168 2872-63 1 111 118 20 70-53 19-117-51 401-5794 1492 55 23 47-12 52-12 2271-5 204 11 75-27 329-6 64 11 56-6 1857-99 58-69 2 184 1-72 47-156 6 82 16 83 24-224 21 168 14 112 33-194 13-78 25 218 34-83 21 156 7-243 15 166 8-279 58 187 12-147 15 279 40-206 13 134 26-250 16 337 20-144 21-113 41 170 22 78 13-179 8-118 97 197 7 116 4-211 104 8 3 129 89 13 0-116 81 190 17-119 60 73 88-23 195 48-42 78-96 0-117 5-186 28-105 11-88-4-86 45-10-95-71 79-68-54-4 177-29-84-59 113-31-181-43 127-39-110-37 109-27-70-7-83-19 224-33-87-33-132-58 144-7-66-50-69-12 69-4634-126-618-1 6453 1023-6333 557 127-87 3017 32 2973-49 18-163 32 268 8 373-5-164-66-123-23 243-58 72-99-118-143 65-2649-43-89 21-33-80-37 140-66-64-3062-175-30 202-67-120-16 115-72-45-102 59-43 88 86 24 84-41 86 50 2906-47 391-1"/>
<path style="marker:url(#m23)" d="M9229 763l-3317 22-3416 259 28-80 3-84 22 224 82-296 3179 193 18-139 6 251 59-182 2813 212 89-54 87-79 31-84 74-51-84 668-30-115-35-178-31 98-2875-26-74-98-3134-4 6285 455 90 41 88 44 101 22-6475 1016 2450-3 54-5 129 0 76 10 214-4 91-3 108-4 88 8 143-8 71-6 3032 123-426 66-83-25-51 74-87 19-103 99-223-45-86 48-111-48-4882-279-58 17-76 2-214-30 6432 982-235 46-3108 558 2958 7 18-199-56 323-5 99-72-55-54-73-24 129-142 50-2707-141-223 222-2874-347-152 60-99 103-44-89-59 151-57-74-60 164-8-113-20-95-43 251-12-116-16-77 42 289"/>
<path style="marker:url(#m24)" d="M6044 761l-3418 228 9-83 17 173 3265 69 4-94 60-129 2891 239 71-59 46-84 161-204-5971 622 3220 1341 2642 170-93 26-262 124-74 50-265 46-2255-383-120 24-211 13-167-18-2296-1-167 41-159-38-40-25 5503 397 535 746-5910 282 3028-86 109-90 2579 309 75-77 74-183-269 455-2886 15-74 61-3156-215-364 57-28 301-42-189 50 277"/>
<path style="marker:url(#m25)" d="M9335 760l-6628 223 11 141 6369-221-61 686-78-364-32 92-2598 265-80-42-191-160-91-157-2569 289-550-291 6533 1706-580 119-2876-193-54 4-194 21-165-26-93-17-221-24-2149 56-320-50 3675 1154-4122 423 547-71 97-37 3091-73-3583 191-77 26-255 255-8-199"/>
<path style="marker:url(#m26)" d="M2763 1053l34 89 3207-17 59-224 2955 599-34-82 195 1575-1124 161-1699-341-187 31-144 35-207 27-454-35-288-66-1919 115-66-10-190-70 5639 431 115-50 326 613-6363 531 85-30 3237-42 2855-72-457 528-2768-75-114 101-3425-229-46-87"/>
<path style="marker:url(#m27)" d="M2749 913l10-81 3348-6 2920 366-2985 18-3019 87-1179 1079 2 49 7643 444-451 165-158 27-2578-211-61-4-136 32-135 36-198 44-57-18-89 38-43-59-70-11-67-3-134-44-333-55-1567 29-66 29-117 31-194 23-181-73 5407 393 610 742-6808 399 121-20 791-140 152-49-1065 677"/>
<path style="marker:url(#m28)" d="M6065 1066l32-79 3021 65 2 515-64-205-20-86-2877 142-3216-188 6381 1767-514 147-2354-339-265 89-169 39-117 25-60-4-326 13-110-20-185-74-1698-63-47 20-194 68-130 73-67-9-110-45-44-27 5233 338 192 54 81 16 1014 452-575 69-6431 511 849-218 2556 236 2933-221-240 440-2885-18"/>
<path style="marker:url(#m29)" d="M2824 966l49 150 6310-202-93 530-2986-130-2799 149-200-134 6140 349-3072 1273-57 3-106 37-57 6-142 18-93 7-401-73-41-37-116-54-1956 114-171-4-50-5-104-78-122-38 5752 500 97 5 83-43 70-85 370 475-86-24-100 10-125-35-15 258-2576 69-4297 389 407-50 185-13 90-41 187-47 100-23 2954 67 79-124 161-102 2606 274 94-271-316 587-2710-198-3774 348-10-94-64-183"/>
<path style="marker:url(#m30)" d="M6160 898l-25 336 2866 1890-104 26-2671-204-359 119-191-1-95-33-402-119-2241 35-134-77 5890 715 31-154 66-117 8 179 63-264 14 305 5-160 70-84 17-88 11 195 5 201 45-79 87 64 150 112-509 113-12-103-2236 233-3830 287 267-113 243 4 5430 290-6761 39"/>
<path style="marker:url(#m31)" d="M6145 1135l3039 9 88-297-66 688 215 215-254 1364-93 65-2651-326-53 24-74 54-120 77-92 27-52 26-82-5-143 37-61 16-126-4-113-36-103-41-81-24-1942-103-46 42-48 24-182 77-56-7-110-32-48-64-204-90 5557 464 71 47 253 93 47 90 426-228 100 109 26 88 6-201 30 279-498 321-4 85-6862 348 407-100 139 11 138-28 61-39 247-57 48-64 167 43 2701 191 261-280 2661 178 21-111-124 389-6660 123"/>
<path style="marker:url(#m32)" d="M6216 790l-3347 49 51 192 67 47 6215 365-14-213-30 94-2964-2-2984 35 6140 327-3111 1325-48 56-90 33-104 40-65 9-104 6-129 13-103 14-86-38-65-63-222-106-166-106-1840 169-49 40-190-40-143-104-109-51 3069 336 2591 240 81 24 8 89 763-316 31 193 1 89 85 143-734 137-19 91-12-221-36 76-5499 234-1371 307 46 72 276-86 139-31 164-62 146 3 193-58 110-34 37-67 175-21 2797 191 61-112-288 489-3696-63 58 307"/>
<path style="marker:url(#m33)" d="M2885 754l19 188 3314 39 2 112 3023-44-2840 507-140-153-3175-191-1155 1176-38 83 7445 612-88 60-2930-154-70 95-188 81-657-28-67-74-79-27-128-94-1753 23-105 75-195 82-197-100-33-41-89-50-940 239 3718 51 124 68 72 47 71-44 47 68 12-117 83 40 77-60 3284 85-849 366-2296 224-127 6-120 69-95 8-2793-64-132 54-1280 294 294 32 330-119 211-57 77 18 62-44 72-24 55-44 454-5 2484 319 90-224 2856 26-218 534-2751-218-3758 222-109-200-177-75"/>
<path style="marker:url(#m34)" d="M3062 1117l6224-160 19 578-10-145-3045-158-3083 12 3268 1674-38 45-101 80-107 118-1026-168-1694-107-120 124-149 120-64 7-138-13-55-54-156-86-975 144 3750 200 150 156 68-80 20 131 45-77 96 9 43-91 5 177 41-74 28-162 51-91 2122 187 106 120 994-312 53 211-870 424-13 86-107-335-2109 241-82-59-100-4-59-116-48 138-58-97-14-94-28 221-32-83-15-93-45 233-83-221-2572 238-176-68-95 26-67 43-128 33-71 52-535 238 200-115 75 9 172-95 3214-23 2819 57 9 216-6913 195"/>
<path style="marker:url(#m35)" d="M6298 759l-3231 210 64 84 44 109 3099-303 2998 274 121 424-117-249-7387 1112 4609 420-132 202-67 91-982 11-2023-54-34 48-226 54-136-102-77-61-87-55-47-54 435 288 2278 7 70 86 101 196 21-88 37 179 473-163 23 117 38-192 59-114 49 66 21-75 3101 55 34 246-1009 253-48-76-2032 77-167-169-12 96-419 74-67 70-36-93-2475 22-90-8-150 12-108 48-222 97-789 334 408-164 3401 82 43-149 2863 118-2977 340-3749 190-46-82-90-40 89 292"/>
<path style="marker:url(#m36)" d="M2989 769l13 85 3348 459 3060 1863-2968-166-1216 129-45-83-104-91-96-97-1530 94-48 68-46 48-73 116-344-47-99-74-76-29-75-79 420 302 96-26 2111-13 152 197 61 149 695-107 29 93 46-135 61-174 1733 80 73 132 231 435-112-242-1854 175-126-191-41 75-662 214-26-90-50-168-19 84-2288 98-57-191-146 54-68-36-43-59-47 77-62 61-61 82-105 23-140 102-137 32-220 143 150-110 138-27 3106 290 15-213 2943 339-2963-13-3762 349-65-82-115 172"/>
<path style="marker:url(#m37)" d="M6302 945l11 84 33 148 3065 225-60-151-2947 212-3100-117-31-136 3134 1974-1-78-1296-81-77-93-1692 224-480-30-57-22-68-19-26-37 131 507 69-4 30-330 25 220 13 98 3-267 31 115 6 93 18 101 8-309 29 52 14 140 28 74 6-147 35-75 30 98 13 68 26 67 33-139 2068-60 88 228 939-241 6 142 1835 64 223 447-81-176-2861 93-34-236-2149 291-64-246-133-98-303 28-70 84 0-76-55 112-77 4-31 54-39 64-91 10-457 317 224-188 3259 135 49-155 2906 227 25-106-2970 410-3812 231-44-106"/>
<path style="marker:url(#m38)" d="M3180 948l38 98 42 73 6079-55 27-171-2956 480 68 230-4540 851 17 49 4524 464-3 91-4 59-1 82-3050-66-756-100-852 179 835 353 124 8 111-372 16 245 84-113 288 148 35-159 73-57 1813-60 159 227 1070-34 13-135 1817 501-58-96-1757 7-1039 132-2122-27-17-149-632 38-92 33-12 70-44 67-27-68-88 157-109 42-672 203 292 49 146-75 75-76 38-54 3257 270 37 95 2949-317 56 272-3011 299"/>
<path style="marker:url(#m39)" d="M3140 861l3242 232-4404 1372 16-39 4508 488-1359 242-87-101-42-70-1511-8-25 124-697 83-71-31-40-63-112 434 24 56 42-76 62-48 17 81 95-74 19-212 62 50 39 72 415 153 34-146 68-179 3028 357 16-211 1838 639-54-74-2890 24-30-194-2011 146-24-188-795-100-37 49-71 67-10 110-81 48-169 77-489 224 373-95 3280 25 12 109 62-178 2919 116 103 386-3022-81"/>
<path style="marker:url(#m40)" d="M9491 789l-3111-5-3283-24 6384 828-3058-336-4425 1260 7471 546-4388 70-1544-268-37 331-850-56-7-172-229 629 48-27 20-56 36-64 79-15 28-48 106-175 2 166 26-112 40 103 49 50 597 21 15-156 1665-47 65 74 49 86 25 197 13-119 4223 149-2985 171-1238 181-1929-165-931-156-93 113-119 128-126 48-354 222 97-3 99-46 119-111 3252 302 2972-237 63 214"/>
<path style="marker:url(#m41)" d="M3275 973l3121-61 3083 426-7448 1145 7467 480-2972 181-2-148-3002 53-894 14-2 112-846-75-3 75 44 84 639 200 96-99 53-43 78 23 71-23 655 245 3121-106 1573 65-2849 230-1865-113-1036 28-76 57-18 60-29 54-229 114-49 49-76-4-220 102 96-3 97-30 1551-37 4897 336-5 293-2963 25"/>
<path style="marker:url(#m42)" d="M6591 752l-140 235 7 183 2990-89 8-148 1 236 44 293-4538 1483-2610 644 141-226 42-60 52-93 4 55 59-12 887-1 1638 194 1377-231 2937 98 13 136-1346 420-2931-34-3027-91-53 33-35 58-77 53-61-15-61 65-7-74-59 28-23 72-108-40-18 61-80 59 157-40 3478 379 2926-329 44 223 103 187-8 97-2977-1"/>
<path style="marker:url(#m43)" d="M3243 812l112 311 3134-213 7-86-4458 1699 4508 537-1502 134-2408-350-267 679 25-48 32-73 65-130 4076 276 8-194-14 291-3096 28-16 96-37 176-1136-311-81 45-108 49-47 68-43-44-46 53-56-27-14-68-46 97-12-92-40 148-6-69-55 18-36 48-25-91-51 122-3-61-22 121 3595 360 13-90 8-202 2985 165-2896 574-43-212"/>
<path style="marker:url(#m44)" d="M3327 778l23 101 6154 131 34-148-7459 1607 1494 722-2-72-25-179-917-34-4 103-928 582 608-40 99-202 44-44 94-86 981 322 11-77 12-135 1636 243 1407-295-1412 654 0-213-3058-38-64-3-114 20-15-60-55 4-54 15-65 7-49 53-17-69-56-16-30 90 3563 386 3033 414-2946 131"/>
<path style="marker:url(#m45)" d="M3453 756l-70 278 3158-35 47-125-98 539-4407 1011 7426 752-2966-366-2 72-3982 283-977 389 5-76 3-98 34 48 14-59 5 119 19 48 21-118 37 85 42 78 8-297 10 251 464 33 123-139 121-208 5566 228 46 348-5897-185-97 5-60 5-72-8-147-11 6306 697 34 93 20 253-3040-78-18-89"/>
<path style="marker:url(#m46)" d="M6695 780l-3096-11-144 122 3077 224 3024 61 31-142-6180 173-1322 1311 4494 592-25-170-4826 432 18-163 2 213 2-99 30 47 12 101 13-140 39 202 36-223 14 276 389-91 40-39 125-210 1015 619 4631 332 5-112-10 474-16-130-2952 246-37-267"/>
<path style="marker:url(#m47)" d="M9644 769l-3127 525 61 1700-1605 139-3237-11-4 42-139 168 106-22 243 241 375-156 24-49 27-44 2685 51 3019 579-4525-296 1544 556 2952 76-2985 338"/>
<path style="marker:url(#m48)" d="M3724 762l-172 151 3061 144 3060-130-82 346-6161 144-1368 1141 2871 461-7-133-1298 266-16-86-1052 50-725 266 8 49 56 86 94 35 166-9 67-42 172-249 2604 1 1631 154 1417 206-2937 14-16 146-4 217-22 90 2942 271 205 377-3041 34-163-281"/>
<path style="marker:url(#m49)" d="M3525 1004l117-151 3061 75 2945 226 36-118 16-201-137 884-2931 1429-1694-66-1332-94-1092 171-888 120 79-49 1943 203 3-135 1290-83 71 208 3022 322-2971 125-58 372 6 101 2994-173 24-150 57 638-3151-27"/>
<path style="marker:url(#m50)" d="M3800 812l2820 334 2988 239-25 129-6137-192 6129 296-7449 887 7431 569-7098 111-409 338 59-3 122-72 44-93 1385 206 31-194 6-164 1241 158 94 153 1630-246 1345 85 1556 178-2958 256-1594-116-5 351 0 114 2937 167 45 296-48-116-3022 58"/>
<path style="marker:url(#m51)" d="M6791 790l-3287 335 235-244 5948 356-3090 29-4461 1301 4488 455-1746 15-3 114-1151-9-38-53-1080-148-881 133-34 81-22 41 246 252 258 25 61-82 67-90 1440-4 1125-70 13 85 26 122 3055 405-22 88-2965-24-22-112-1319-63-76 126 1356 512 3034-317"/>
<path style="marker:url(#m52)" d="M3673 936l3018 165 3083-61-3234 469-4408 1115 33-25 4490 490-1792-134-1189 48-39-63-29-42-16-51-1933 279-40 91 373 259 416-276 1323 320 49-92 1145 154 1760-382 17 357 11-230 1246 277-6 107-3061-47-1 312-1148-336-118 168 1273 444 14-108 8-89 2956 191 30-109-2811 645-236-327"/>
<path style="marker:url(#m53)" d="M6738 1026l3047 101-93 233-7558 1097 29 77 4548 571-1895-79-1 82-1028 40-29-109-1177-24-901 59-64 68-29 40 303 182 288 36 36-51 1582-118 35 92 891-28 11 181 17-265 33 136 18 188 7-96 1937-169 3 144 1211 81 1641-251-1709 544-45 71-4 116-1120-333-24 84-1831 118-66-120-5 219-964-339-97 182-250 213 1321 261 2992-90 54 175"/>
<path style="marker:url(#m54)" d="M3669 1040l3121-117 2998-55-18 397-90 187-3029-112-56 100-3054-181-1354 1376 4562 527-63-137-61-100-26-58-1894 282-849 4-129-175-2055 47-50 53-2-62 464 440 56-22 211-214 1504 294 19-271 26 147 29 173 19-86 491-175 86-69 87 74 44-83 40 167 23 172 2074-33 1096 24 43-167 40-146 1638 188-19 284-1751-34-50 104-3034-141-61 182-5 107-35-274-817 68-152 146-121 98 1149 64 42 157 26 151 7-251 3007-42 57 416-3020 154"/>
<path style="marker:url(#m55)" d="M3756 1040l105-110 73-120-409 548 6109 1799-2896-127-1883-134-109 88-20 73-91 38-45 104-22-70-60 30-605-53-60-62-1303 28-953-209 721 376 1659 10 23 147 44-87 19 164 5 88 328-199 35-152 77 262 1 111 33-190 53 181 21-128 2199-208 4 104 934 373-22 279-11-113-42-119-3020-20-38 248-3-128-38-190-18 102-506-124-70 93-27-86-17 162-84-2 824 339 3045-33 24 152-2838 442-156-255"/>
<path style="marker:url(#m56)" d="M3628 1188l75-64 3059 71 3091-210-70 441-57 113-3002-262-3118 101-91 63 6178 222-7524 825 3 205 46-119 4583 555-87-156-1931-42-125 110-116 27-123 69-77 62-182-50-88 34-58-90-35 59-81-127-79-38-89-67-1285 216-845-191 620 351 1896-37 0 117 41 136 44-222 2 150 15 140 9-375 62 86 4 246 2-168 74 126 2473-64 921 162 24-90 70-57 31-126 1758 33 15 282-1977 10-55 272-35-192-35 125-755-138-2314 211-7-233-33 146-57-184-35 90-14 89-50-161-81 69-75-76-49 104-198 142-79 30 727 120 46 75 66 133 24 145"/>
<path style="marker:url(#m57)" d="M9736 754l-5730 2-110 293 39-79 35-79 5897 401-6 170-58 126-3091-147-2991-205-61 65-1455 1218 21 206 1-51 7-37 4617 550-37-119-115-161-37-31-2014 102-192 99-110 51-19-58-69 43-89-86-78 29-61-36-75 4-173-112-126-53-1177 237-82 57 4490 180 23-110 31 310 426 60 92 5 81-15 144-23 100-141 1922 71 34-205-2201 690-20-300-45 142-65-150-516-53-2523 346-92-24-68-104-150 53-326 85 711 45 23 118"/>
<path style="marker:url(#m58)" d="M3819 1194l6080-42 1-96 29 351-44 142-6190-168 6087 1784-2883-15-40-46-67-89-1988-135-252 107-84-1-84 22-75-3-72 23-123-30-157-35-60-17-53-20-1592 320 4711 21 3 88 3 82 68 147 14-207 19 118 167 101 37-98 80 15 124-26 127 24 66-69 63-91 138-107 1900 314 38-131-2406 335-84-19-15-95-296 44-91 1-112 113-2624 141-175 61 105-7 266 85 119 160 3068-186 153 320 153 198-102-121-2801 314-300-264"/>
<path style="marker:url(#m59)" d="M3935 1147l2893-67 3132 184-3156 72-141 199 1311 1579-999 29-15-55-112-63-61-79-35-35-158-99-1677 4-175 77-58 15-404 49-56-3-74-14-96-22-346-55-1141 60-20 36-29 76-213 153-331 209 5040-180 31 88 77 119 12-84 41 156 55-63 72-23 149-5 96 25 42-70 215-83 2047-27 34 99 4 173-3 90-2626 216-39-144-64-52-17 129-169 13-78 37-3317 241 304-37 353 23 68 90 230 223 3099-110-2900 363-145-150"/>
<path style="marker:url(#m60)" d="M4034 961l8-113 5849 31 85 641-6166-184-181 127-1370 1143 4 55 14 63 7434 332-2577 126-59 14-40-55-109-121-42-45-2021-143-278 70-99 23-147 22-226-46-166-5-99-25-84-10-1326 214-193 123-210 202 65-31 45-48 25-39 12-53 4945 27 64-40 34 65 26 74 46-52 74 87 11-91 98 30 106-40 83 8 2301 30 6 257 1-118-175 238-2407 271-42-74-3248 185 293 160 3150-79 478 557-86-50"/>
<path style="marker:url(#m61)" d="M6870 1199l7-276 3142 505-3142-143-124 232-2802-266-59 59-117 115 6051 312 90-66-7714 1101 7426 222-2508 102-73-18-61-58-137-94-186-101-2268 98-129-38-85 3-183-18-1427 0-77 94-12 42-26 32-66 58-73 43 4935 78 68-12 83 21 122 1 148-4 2414 145 1 175 562 329-9 103-691-293-2685 246-200-111-79 48-288 26-3030 163 546 114 203 183 3027-266 3114-5 40 78 55 86 9-166"/>
<path style="marker:url(#m62)" d="M4030 1157l5943-162 44 187-7771 1591 7639 374-2111 47-175 3-71-37-73 20-113-38-47-41-41 51-61-56-259-134-184-110-2294 26-105-1-277-24-265-17-1310 80-146 201 7682 143 639 517-103 58-15 98-65-57-114 50-326-243-2905 221-3392 171 6738-64 169 344"/>
<path style="marker:url(#m63)" d="M4090 1034l2839 10 3145 306-18 207-3202-84-3297 44 3053 104 3399 77-7751 846 39 89 5586 513-179 10-276-36-168-69-59-9-71-18-92-57-126-55-98-30-2091-42-595 8-259-25-1439 179-45 52-113 84 7894 372 414 240-97-23-106 96-3776 110-2332 338 3161-101 2973-120 112 145 61 110-2794 251-3284-68"/>
<path style="marker:url(#m64)" d="M9821 763l-2905 22-2787-4 2842 417 3162 217-21-215-3179 199-2889-147-95 133-71 72-133 49 5989 305-7425 966 5296 341-122-29-126-25-361-142-2192-99-183 27-113 0-99 4-190-18-257-11-1445 22-65 71-38 28-24 65 8268 662-113-2-258 278-121-332-272 140-2855 173-241-15-2700 316 215 129 2994-308 182 217 84 81 2730-295 105 82 244 327-3025-46-2815 331-442-321"/>
<path style="marker:url(#m65)" d="M4143 935l5856-77 73 168 33 86 52 425-12-234-3205 183 2693 337 260-24-7564 893 10 46 7636 391-184-108-1962 85-70 17-580-132-82-50-188-76-2597-30-1859 29-119 190-394 303 8223-38 43 90 70 405-262-54-6145 379 100 37 3239-160 3317 367-5814 314-66-56-116-69"/>
<path style="marker:url(#m66)" d="M4159 1176l41-176 2782-120 99 224 3151 152-18 119-3157-106-23 131-2954-50 2694 263 3215 191 156-139-3441 1128 3171 248-2188 25-98-17-60-11-108-6-44-41-57-4-65-15-73-30-41-30-177-40-104-32-47-19-2657-19-1744 82 7740 331 110 337 334 39-112 20-96 20-108 54-68 74-6012 562 2907-305 228 136 3013 76 91 96 146 193-70-48-2679 217-3396-135 454 263"/>
<path style="marker:url(#m67)" d="M4211 763l47 333 20-193 22 96 0 182 2761-227 75 79 7 160 51-90 30-85 2859-132 108 60 24 104 45 84 43 223-55 171-3035-266-60 68-139 211-97 48-2692-322-235 200 6131 322 76 38 37-215 6 95 55 151 21-91 11-100-8155 772 145 148 51 210 9-43 1702 40 5983 318-95-105-117-54-77-38-123-28-1736 160-76-35-101 3-62-43-56 21-131 11-22-51-55-53-54 33-39-63-19 59-31-43-37 39-15-55-70-5-47 11-56-20-69-31-2537-24-61 6-110-3-1785 19-81 13-36 84-14 37-7 49-136-195 8047 506 68 153 30-96 74 135 34-78 113 47 76-89 8 126-488 341-9 86-346-155-2927 184 95 39 211 90 35 213 16-119 54 173 27-101 118 110 2767-254 54 159 77 33 333 324-24 88-90-31-56-140-47 93-15-237-34 85-57-83-10 187-2592 87-74-122-12 100-61-155-76 104-31-139-41 92-69-96-87 27-16 95-2790 110-60-60-76-50-50-81-85-59"/>
<path style="marker:url(#m68)" d="M9960 779l-5423 8-246 23 92-1 13 220 4-111 33 198 43-141 72 43 2-147 113 116 0-154 2414 14 117 39 101 44 7 187 77-208 16 193 3-102 82 58 39-145 70 54 2480-166 100 46 129 86 16 121 47 144 31-110 7-100 1 342-41 220-12-97-3058-234-57 145-64 65-80 64-2779-223-232 174-407 115 6552 350 138 89 90-189 3 136 13-226 130 273 80 311-27-191-3 93-18 176-59-79-8-99-5-138-68 205-18-162-29 89-18 134-44-78-6-163-52 259-28-215-11 87-8026 277 98 159 4400 120 138 18 247-20 92-28 54-5 22 50 40-41 39-39 22 46 41-35 36-85 20 142 25-112 1 65 3-118 52 69 10-56 24 106 9-153 36 41 3 56 3 85 37 37 33-209 12 64 7 70 42 52 5-186 38 114 10-78 48 163 1699-48 93 16 138 3 116-132 3 87 57-173 30 140 52-94 85-115 2 127 33 83 29 80 27-312 28 209 20-124 11 258 38-81 47-249 37 142 12 86 18-167 43-92 63 215 7 108 7-211 55-78 8 228 0-88 3 238-4 318-39-157-33-96-39 153-30 113-25-280-24 81-5 87-27-247-61 335-9-141-63-134-12 308-4-122-14-96-59 160-16-282-17 89-39 94-66-132-9-90-9 191-67-86-85-98-164 21-168 5-1640 108-9-66-65 63-20-99-38 49-8 59-58-97-34 68-47-108-18 59-24 60-10-130-18 76-35-75-13 122-7-69-49 20-21-68-31 43-43-48-127 14-78-10-82 4-63-8-2379 0-2078 13-156-15-54 75-89 194-27-259-72 350 8160 98 81-28 12 106 65-60 89 30 78-61-608 638-6005 427 2970-217 20 143 81 144 3-225 43 76 2979-206 115 353 325 410-200-10-18-92-75 40-27-256-80 109-2 110-82-88-2534 160-103-26-91-44-108 86-55-261 0-121-1 262-41 138-30-183-3-149-17 242-22-168-83 223-8-202 0 101-2398 123-226-16-80-48-56-115-53 126-34-175-30-109 76 368 136 42 117-43 105 51 2770-2 86-38 3083-16 139 50"/>
<path style="marker:url(#m69)" d="M7207 783l-189-30-2560 444 84-66 253-227 2507-97 125 24 76 325 150-273 24 123 2586-191 124 86 62-64 54 102-48 571-3058-287-61 104-3108 62-383 157 6647 72 73 269 92-19-426 433-79 68-7939 88 4595 310 135 23 49-9 138-53 64-24 59-3 57-29 105-37 150-71 147-30 45-47 58 28 103 47 1 141 1820-24 97-51 234-197-7540 376-207 21-16 193-165 178-90 153 7833 491-224-50-6166 321 3533 225 3111-166 18 186-7 420-35-269-2347 275-767-327-67 298-16-114-2747 5 526 206 2349 0 531 8 91-11 2600-37 100 55"/>
<path style="marker:url(#m70)" d="M10389 771l-247-12-3032 4-2363-2 2802 47 195 129 2766 96 35 513-51-114-8-183-3260 245-112 92-2807-232 5706 538 557-158 110 31-8386 754 80 100 34 84 15 42 2188 40 139 2 1905-36 203 11 56-17 148-9 216-105 85 1 102-56 88-66 123-27 202-10 2047 53-6013 1717 3014-134 13 172 21-86 3085-159-22 657-4-124-1917 205-1196-289-2819 132 8 194 710 50 193-9 218 4 1700-13 3275 21"/>
<path style="marker:url(#m71)" d="M7638 772l-161-21-2644 46 63 65 2690 264 203-264 2737 310 65-302 86 30-127 459-6577 198 2927 116 2979 209 236 68 520-296-428 382-7743 726 1407 0 170-4 272-4 245 22 2552-94 51-26 56-3 114-62 45-32 225-92 1930 226-1559 327-5663-49-225 345 23-47 7843 645-3095 148 50 323 3131-266 20 134-29 210-5988 6 3874 348"/>
<path style="marker:url(#m72)" d="M10549 754l-5926 401 59-65 98-73 5823 76 18-127 33-153 20 225-6 533-51-68-1-91-3192-86-60 89-3188 81-81 34 2580 156 370-25 2748 230 336 362-7794 268 43 40 43 91 33 51 52 46 1215 22 85-12 166-5 260-7 169-20 92 30 211 6 123 11 1945-52 50-2 121-18 58-17 213-98 62-13 142-53 52-20 176-74 1999 183 333-196-3257 1580 134 171 3167 183-83 284-3106 166 3267 69"/>
<path style="marker:url(#m73)" d="M7744 769l17 251 113-164 2773 459-3140-55-188 268-76 68-2785-282 5690 847-113 187-2462 47-5151 187 84 126 1627 18 59-14 2676-6 196-56 38-48 58-34 51-42 62-13 61-43 105-26 59-21 255-17 82 8 1967 111-7500 388 0-39-40 165-35-189-240 501 7836 549-90-54-6082 322 117 55 192 166 2882-73-41 356-8-144-2764 216-17-82 5982 178"/>
<path style="marker:url(#m74)" d="M4936 763l5731 464-3213 178-3033-12-79 48-29 80-532 98 348-1 2837 130 132-7 2882 236 142 69-2436 318-243-11-5131 110 68 55 75 96 24 35 70 95 39 37 1060-5 426-78 198 10 104-35 84 22 134 34 2126-15 294-83 95-100 72-63 24-57 63-7 116 15 2323 134-7438 446-63 123 7658 857-6027 308 2934-184 3172-62 43 147-42 248-41 320-3087-332"/>
<path style="marker:url(#m75)" d="M7831 755l-113 344-204 245-98 193-2851-273-518 380 2706 89 445-24 2843 439-58 129-52-122-15-106-34 332-2138-68-169 7-65-78-2 81-113-79-10 70-70 26-2-120-62 68-40 62-64 25-4-164-14 69-67 43-4784 109 252 240 1350 34 56-4 67-23 151-11 104-32 55 27 112-25 248 78 2158-49 83-28 16-53 82-14 41-78 3-74 855-12-5644 547-31 118 1723 1512 4050 282"/>
<path style="marker:url(#m76)" d="M7617 1212l-3099 195-570 268 271-58 2665 215 98 10 20 107 114-40 14-89 71 81 24 87 34-181 55-84 63-75 2465 321 44 285-42-124-43 135-2-215-2117 225-54-80-67-50-76 16-83 0-91-45-80-41-10 80-87-155-13 77-54 162-26-130-54 168-4-218-31 285-4722 59 212 131 62 58 22 40 1300 61 361-73 150-16 168 42 76 14 156 52 2020-51 94-44 12-57 84-59 49-76-4747 478 4520 1307 3139 133-29 209-5985-111"/>
<path style="marker:url(#m77)" d="M4780 1120l232-268 2494 664-2845-259-189 238-70 50-884 49 302 106 477 6 2609 207 439 35 37-75 8-113 88 219 1-316 2206 269 53 468-1911-76-36-79-88-48-148-183-126 64-133-52-335 119-53-58-1 152-4735 132-64 18 315 102 1512 150 76-23 57-40 49 32 108-35 118-33 94 13 100 33 265 126 1870-41 134-98 37-66 69-95-266 1632 91 293 3154-103-49 450-3131-29 3190 204"/>
<path style="marker:url(#m78)" d="M4932 958l3049-154-335 507-52 254-9-127-3997 197 395 136 145 4 27 101 76-47 98-43 45-126 85-20 2307 208 81 127 627-206 22 79 72-186 4 256 2122 266-2-98-9 247-1912-219-87-98-1 80-814 235-4544 83 37 28 220 262 1179-12 90-60 36-45 64-5 55-44 149-30 38-56 29 58 29-103 36 86 99-8 114 33 136 110 60 13 184 99 1934-328-4593 562-26-69 1420 1363 152 88 6035-280 57 75-3132 610-2799-22 4189 123"/>
<path style="marker:url(#m79)" d="M7710 1230l-32 281-12-98-2909-211-104 161-14 101-67 106-528 337 134 53 106-47 83-30 52-151 27 119 53 77 46-270 2209 287 851-179 21 88 41-224 23 278 73 123-969 46-2 112-2324-172-83-17-74 330-61-243-6 143-43 104-68-246-11 235-6-112-81 124-1738 40-76-23 270 182 1190 177 284-224 74-19 77-54 266-5 133 48 55 43 83 72 99 67 99 46 1856-67 65-90 2890-82-7451 566 1324 1203 114 139 3006-169 3050-163 144 396-5986 153-91-120"/>
<path style="marker:url(#m80)" d="M5068 787l2703 378 100-148 153-141-4371 839 80 53 129 78 71 52 46 94 568-235 4 84 36 77 48-292 1967 121 1077-27 19 86 57-128 23 169 25 90 1804 135-5 135-1734-89-6 102-1095 48-19 65-2178 57-56-277-31 252-79-60-15-186-36 90-302-158-24 167-20-98-37 173-32 83-1398 191 1233 60 109-121 32-67 730 23 58 62 27 53 61 4 19 58 1948-203 2781 115-7354 391 7588 1224 37 175-3138 229-7-118-2726 411"/>
<path style="marker:url(#m81)" d="M7769 1350l0 100-2924-249-107 195-11 190-882 356 836-200 7 84 1 116 1992-70 1088-112 1821 171-14 375-1651-15-46-268-1173 2-2002 7-27 313-56-304-17 256-4-119-73 103-68-57-541-137-1 148-54 130-1592-31-688 423 18-88 2178-98 975-123 22 73 1804 200 55-91 21-51 56-48-4529 526-9-77 7461 983-5804 690-100-120-106-81"/>
<path style="marker:url(#m82)" d="M8118 754l-172 222 160-137-252 575-30 122-3002-202-23 205-1100 307 68 70 1017-192 36 159 3038-243 26 175 11 116-1182 254-23 88-1886-247-24 309-43-221-53 116-852-148-1652 236-573 241 2-54 48 68 2053 67 80-130 10-65 1052 45 10 119 1738 61 93-222-61 1839 3112-29-1505 558 1554 5"/>
<path style="marker:url(#m83)" d="M4900 1067l2945 43 78 363-10 94-3065-120-1218 353 1245 9 3053-112 20 382-1276 269-1810 26-23-200-64 58-988-21-2206 244 34 148 48-98 759-73 38 27 133 175 1007 94 1310-207-2774 604 1389 1185 3057-179 3184 374-2-86-3 317-5930 6-82-124"/>
<path style="marker:url(#m84)" d="M7911 1312l-37-82-2978 63-3 284-1189 398 1152-317 44 251 26-177 1665 119 33 142 1351-95-3071 381-13-208-1108 266-1392 62-259-88-544 96 51 47 65 113 796-88 1150 155 29-77 29-74 1214 103-2780 441 4457 1360 3044-261-3019 560"/>
<path style="marker:url(#m85)" d="M7967 1382l-3025 87-11-95 17 607 28-112 1645 297-1654 157-1-174-1268-53-1335 259-93-71-50-24-55 13-79 75-446 54 48 64 21 56 873 56 2370-107 31-68 1618 179-4484 479-3 100 7616 1479-5978 66-88-53-142-217 319 405"/>
<path style="marker:url(#m86)" d="M7942 1135l62 381-3054-312-1329 743 1386-251 2995 113-1405 261-1584 165-1316 141-1358-69-176-114-47-13 0 60-32 50-16-94-450 158 74 59 3258 244 24-123 1636-57 2894-27-7410 750 7584 1218-3097 52-1 87-2984 44"/>
<path style="marker:url(#m87)" d="M8219 779l-3181 174-1537 725 44 138 1487-206 26 163 2973-112-1420 718-7-117-2941 1-1358-23-75-63-81-53-90-15-35 165-17-133-16 89-285 135-39-26 1931 331 1351 48-2862 368-41 195 28-43 7484 626-3013 156 3100 304 50 492"/>
<path style="marker:url(#m88)" d="M5026 1054l3032-42-44 258-2974 220-29-154 4522 694-4451 88-38 198-1411-137-15-115-1193 304-104-175-51-46-49-45-84-35-85 253-89-234-44 81-14 57-19-105 589 290 68 82 1063 105-1669 715 4607 968 3026-251 29 181 79 516-3072 50-2932-31 64 117 2924-15 1645 22"/>
<path style="marker:url(#m89)" d="M5024 1143l3043-33-9 274-3025-148 72 666 2914 80-24 163-2902-113-2712 220-296-250-41 38-113 259-6-275-43 31-40 198-3-49-7-60-2-52-38 170-3-52-9-81-50 9-3 124 0-72-2 129-64-32-71 12 156 111 1882 1-183 1851 6180 319-3085 58-2994 39-73-158 162 339"/>
</g></g>
<rect x="153.5" y="70.5" width="918" height="421" fill="none" stroke="#333" stroke-width=".9"/>
<text transform="translate(189 58.5) scale(0.95 1)" class="t m">0</text>
<text transform="translate(189 520.8) scale(0.95 1)" class="t m">0</text>
<text transform="translate(364.5 58.5) scale(0.95 1)" class="t m">3</text>
<text transform="translate(364.5 520.8) scale(0.95 1)" class="t m">3</text>
<text transform="translate(539.9 58.5) scale(0.95 1)" class="t m">6</text>
<text transform="translate(539.9 520.8) scale(0.95 1)" class="t m">6</text>
<text transform="translate(715.4 58.5) scale(0.95 1)" class="t m">9</text>
<text transform="translate(715.4 520.8) scale(0.95 1)" class="t m">9</text>
<text transform="translate(890.1 58.5) scale(0.85 1)" class="t m">12</text>
<text transform="translate(890.1 520.8) scale(0.85 1)" class="t m">12</text>
<text transform="translate(1065.5 58.5) scale(0.85 1)" class="t m">15</text>
<text transform="translate(1066.9 520.8) scale(0.85 1)" class="t m">15</text>
<text transform="translate(147.6 113.9) scale(0.95 1)" class="t e">3</text>
<text transform="translate(1078.5 113.2) scale(0.95 1)" class="t">3</text>
<text transform="translate(147.6 201.7) scale(0.84 1)" class="t e">1.5</text>
<text transform="translate(1078.5 200.9) scale(0.84 1)" class="t">1.5</text>
<text transform="translate(147.6 377.1) scale(0.82 1)" class="t e">-1.5</text>
<text transform="translate(1078.2 376.4) scale(0.82 1)" class="t">-1.5</text>
<text transform="translate(147.6 464.9) scale(0.88 1)" class="t e">-3</text>
<text transform="translate(1078.2 464.2) scale(0.88 1)" class="t">-3</text>
<path d="M188.5 64v13M188.5 485v13M364.5 64v13M364.5 485v13M539.5 64v13M539.5 485v13M715.5 64v13M715.5 485v13M890.5 64v13M890.5 485v13M1066.5 64v13M1066.5 485v13M147 105.5h13M1065 105.5h13M147 193.5h13M1065 193.5h13M147 368.5h13M1065 368.5h13M147 456.5h13M1065 456.5h13" stroke="#333" stroke-width=".9" fill="none"/>
<text x="611.8" y="43.6" class="x m">x/D</text>
<text x="611.8" y="533.7" class="x m">x/D</text>
<text x="107.9" y="288.6" class="x m">y/D</text>
<text x="1117.3" y="288.6" class="x m">y/D</text>
<text x="491.2" y="550.4" class="c m" textLength="107" lengthAdjust="spacingAndGlyphs">-7.8e-04</text>
<text x="737" y="550.4" class="c m" textLength="97.5" lengthAdjust="spacingAndGlyphs">7.8e-04</text>
<rect x="491" y="576.4" width="245" height="11.5" fill="url(#cb)"/>
</g>
<g transform="translate(1208 814)">
<g clip-path="url(#fc)"><g filter="url(#bl)"><rect x="140" y="56" width="950" height="450" fill="#fff"/><g transform="scale(0.25)">
<path fill="#f8f7f5" d="M1805 2000l-234 0-75-38-56-40-24-29-17-45-17-88-10-104 0-56 62-288 0-56-11-96 4-64 23-160-17-120-29-96-41-176-1-112 17-72 29-48 24-21 40-21 63-22 278 0 83 40 68 56 34 56 10 32 23 144 16 200-7 88-17 88-42 144-6 64 12 64 51 128 24 96-3 120-19 192-16 73-51 63-29 27-64 42zM4275 2000l-75-47-88-10-160-57-44-30-56-64-12-40-13-104-19-312 2-112-20-184 0-48 27-312-5-64 9-104 10-64 20-40 21-22 56-36 112-42 80-11 48-13 64 0 48-19 48-7 0 1742zM2952 1981l-96 0-40-6-48-17-104-55-24-26-18-37-11-104 1-96 30-264-1-64-22-152 15-216-38-344 13-144 23-61 48-47 80-40 104-17 64 0 72 10 56 18 56 28 64 50 24 28 16 33 11 62-3 176-50 344 0 56 9 96 34 176 19 136 6 160-5 96-12 40-15 24-82 83-88 51-48 17zM832 1440l-56-6-56-19-34-23-25-40-77 4 0-464 55 12 17-4 12-12 10-32 27-24 55-23 56-9 32 3 32 11 32 22 27 28 27 64 71 88 10 40 5 64-5 80-9 32-14 26-70 62-22 56-25 32-35 23zM728 1061l16 2 24-10 59-45 8-16-7-40-12-19-24-10-48-5-32 8-13 82 5 16zM808 1316l20-28 3-24-6-24-41-36-48-20-24 34-13 30-1 24 11 48 11 8 16 0z"/>
<path fill="#f3f1ec" d="M1720 1982l-72-1-72-16-72-35-58-42-22-28-21-44-15-64-12-96 5-96 37-144 19-104 0-56-11-96 4-64 23-160-17-120-29-96-39-176-2-56 6-56 12-35 22-37 26-29 24-17 64-28 144-20 120 11 64 22 72 47 37 38 35 58 31 134 13 96 7 104-11 120-32 136-20 56-8 72 12 64 68 184 7 48-12 192-20 104-27 68-80 81-80 48-56 21zM4328 1974l-56-12-64-43-80-5-160-56-40-27-48-45-19-26-13-35-15-85-18-240-2-224-18-136-1-48 24-248 1-144 19-112 26-51 24-24 56-35 104-39 80-11 48-13 64 3 48-22 40-6zM2952 1949l-96 0-32-5-48-18-96-50-27-28-19-32-18-104 1-80 29-264-2-56-21-152 14-208-36-352 6-72 13-64 12-29 16-21 40-34 80-41 96-16 56 0 80 11 56 20 56 31 55 47 30 40 17 48 8 80-3 104-35 232-14 136 10 120 35 176 18 136 0 160-11 72-30 62-80 81-88 51zM832 1425l-40-4-32-10-31-19-12-16-3-16 10-16 84-22 16-16 7-26 1-24-11-24-37-30-48-26-8 3-28 61-4 83-16 10-96 15 0-209 20-11 0-8-20-11 0-209 48 14 48-1 16 8 7 23-3 72 28 56 8 1 80-52 18-21 2-24-8-32-12-17-83-23-16-16-1-24 12-16 24-16 32-12 40-6 56 12 45 38 35 69 75 83 11 40 5 64-6 80-21 53-71 59-19 24-14 40-20 24-28 18zM720 1153l7-25-7-26-21 18 0 8z"/>
<path fill="#eee9e1" d="M1720 1960l-72-1-64-14-72-36-56-40-30-37-16-32-16-56-13-88 4-96 37-144 19-104 0-56-11-96 3-64 24-160-17-120-29-96-36-168-2-56 8-56 31-56 28-32 24-18 64-27 136-19 112 9 32 9 64 30 40 31 31 33 37 56 35 120 15 96 8 104-9 120-32 136-15 40-12 88 11 64 50 128 22 88-2 104-19 139-17 61-23 52-72 77-80 53-56 22zM4328 1952l-56-14-48-39-96-7-152-54-24-14-56-51-29-37-25-88-11-96-14-216 2-160-19-136-1-56 24-240 2-136 19-96 28-54 26-26 54-34 104-39 72-8 56-15 56 7 48-24 40-7zM2944 1928l-112-4-40-14-96-49-24-22-24-33-19-62-6-40-2-72 28-232 1-80-23-160 14-208-35-344 7-72 14-56 13-28 16-20 41-32 87-44 88-12 48 0 80 12 48 18 48 26 56 47 32 40 21 49 11 80-1 88-48 336-1 48 11 104 34 176 16 128 2 64-11 128-14 48-22 40-78 81-40 28-48 25zM832 1410l-48-10-30-24 3-24 51-22 16-15 10-51-6-24-12-15-77-57-5-16-1-48 6-24 77-57 22-31-2-32-12-37-59-27-13-16 2-16 28-24 50-11 40 8 28 19 60 87 40 34 32 39 12 40 6 72-6 72-20 49-103 87-18 40-14 16-25 13zM584 1342l0-197 39-17 0-8-39-17 0-197 48 15 48 1 16 13 3 81 21 56-8 24-31 24 0 8 23 16 18 40-25 64-1 56-8 15-16 7z"/>
<path fill="#e8e0d4" d="M1720 1943l-64 0-64-13-64-31-64-44-32-38-16-31-24-84-7-54 4-88 39-152 17-96 0-56-11-96 3-64 24-160-18-120-29-96-32-160 1-80 17-56 64-70 64-30 136-19 104 8 32 8 56 24 41 31 32 32 39 56 37 112 19 101 9 99-8 120-31 136-20 64-7 64 11 64 49 128 20 80-1 104-18 128-24 72-23 48-69 74-80 53-56 21zM4328 1935l-48-12-48-42-96-5-160-57-72-60-31-39-25-79-12-97-14-208 7-104-3-64-19-128-3-56 28-296-2-72 21-88 23-48 38-38 56-34 104-36 56-4 48-14 72 8 40-25 40-8zM2944 1911l-80 0-32-5-40-15-96-51-32-36-17-36-15-48-6-64 10-144 17-112 1-80-23-160 14-208-34-344 8-64 16-56 13-24 16-19 48-35 72-36 88-13 48 0 72 11 48 16 48 27 64 56 32 47 16 47 10 67 0 80-46 320-2 64 11 96 35 176 14 112 1 72-9 104-19 64-21 40-76 80-82 52zM840 1393l-38-9-13-16 8-16 30-24 8-48-2-32-17-24-70-56-6-16-1-40 7-32 70-55 21-25 3-24-6-64-36-24-9-16 11-16 40-10 24 6 16 9 16 27 104 94 29 34 14 40 6 72-7 72-18 44-126 100-26 39zM688 1111l-56 4-48-18 0-186 48 15 48 2 15 16 2 72 19 48-10 32zM584 1337l0-186 48-18 56 5 15 14 14 32-23 72-2 48-20 16z"/>
<path fill="#e2d5c6" d="M1720 1929l-64-1-64-13-64-32-56-39-32-37-16-28-24-71-10-60 3-88 40-152 16-96 0-64-11-80 2-61 26-171-20-128-28-88-17-80-15-96 4-56 20-56 62-66 56-27 136-20 128 14 56 24 69 59 40 56 41 112 23 120 7 80-4 95-9 57-23 96-14 32-14 96 11 64 48 128 18 72 4 48-4 64-17 112-29 80-25 48-66 70-74 50-54 22zM4328 1921l-48-14-40-41-96-3-160-56-72-59-29-36-27-72-15-96-14-200 8-112-2-64-20-128-3-56 28-296-1-72 22-80 26-48 32-32 51-31 96-36 72-7 48-14 64 12 40-27 40-10zM2944 1897l-104-3-40-15-96-51-33-36-23-49-11-39-6-64 9-128 17-112 2-80-23-160 14-208-21-184-11-184 25-88 29-40 56-39 56-28 88-14 48 1 96 18 56 27 48 38 35 37 28 48 17 60 5 60-3 80-43 288-1 56 11 104 35 176 12 104 1 80-11 96-25 72-19 32-74 78-80 49zM856 1342l-19-22 1-56-7-24-84-80-3-56 8-24 82-72 8-24 0-56 14-18 24-8 40 14 106 100 15 40 6 88-7 57-11 31-13 18-112 79zM688 1106l-64 3-40-16 0-178 48 15 40 1 19 13 5 72 16 48-6 24zM584 1333l0-178 40-16 64 4 19 25 6 24-21 64-4 48-16 11z"/>
<path fill="#dccab6" d="M1720 1916l-64-1-56-12-64-31-64-46-32-39-26-59-17-64-4-64 6-48 37-136 18-96 0-72-12-88 2-48 27-176-21-128-27-88-16-72-13-96 3-56 22-56 61-64 56-26 128-18 120 13 56 23 66 56 41 56 43 112 24 112 8 80-3 96-9 64-22 88-13 32-14 96 11 64 46 128 18 72 3 48-5 64-18 109-57 123-63 67-72 49-48 19zM4328 1908l-40-12-48-47-96 1-152-54-73-60-27-32-29-72-15-88-14-152 1-104 8-56-3-96-21-104-4-56 29-288-2-64 25-80 28-48 25-26 56-34 96-36 64-5 56-14 64 16 32-29 40-12zM2944 1884l-104-4-32-12-96-50-32-35-27-55-11-40-6-56 9-120 17-112 3-80-23-160 13-208-21-184-10-182 31-90 25-30 49-34 55-28 88-16 48 1 96 19 48 24 56 45 25 27 31 52 16 52 9 88-11 120-37 240 1 56 10 80 36 176 12 112-1 72-13 88-27 72-19 32-72 75-72 46zM864 1330l-16-7-7-11-2-56-11-24-76-72-4-56 9-24 79-72 6-16 6-62 16-14 24-4 24 6 112 99 16 39 7 80-7 58-24 52-112 77zM688 1101l-56 4-48-17 0-169 48 15 40 1 16 12 7 69 13 48-7 24zM584 1329l0-169 48-17 56 5 14 20 8 24-19 64-3 40-16 15z"/>
<path fill="#d6bca5" d="M1712 1903l-56-2-56-12-56-28-63-45-33-39-31-65-14-56-4-56 3-40 41-152 16-88 1-72-12-88 1-48 27-176-21-128-27-88-15-72-12-96 4-48 23-56 60-61 48-23 136-19 96 10 58 21 54 40 47 56 55 128 24 104 10 80-1 88-7 64-23 96-14 32-14 96 11 64 45 128 18 80-4 104-19 103-59 121-69 71-64 42-48 19zM4328 1894l-39-14-41-45-96 2-152-52-72-58-27-31-31-72-22-135-9-145 13-112-3-96-22-104-5-56 29-288 0-64 25-72 28-47 25-25 55-34 88-32 72-6 48-14 24 5 40 19 8-3 32-36 32-9zM2944 1870l-96-2-34-12-93-48-33-36-28-52-18-88 7-120 19-112 3-80-23-160 12-208-21-184-9-176 30-80 23-32 53-37 56-28 80-13 48 1 88 17 48 23 56 45 24 26 33 54 16 48 10 88-9 112-24 120-14 120 1 64 47 256 9 96-1 72-12 75-36 93-36 48-56 55-32 22-40 20zM872 1323l-16-3-9-8-7-56-10-24-73-72-5-48 8-28 77-76 7-16 7-56 13-12 24-6 24 5 112 98 14 35 8 80-7 56-23 50-96 67-24 11zM688 1096l-56 5-48-17 0-161 48 16 40 1 14 12 8 64 11 40-5 24zM584 1325l0-161 48-17 40 0 14 5 21 40-23 104-20 13z"/>
<path fill="#d0ae93" d="M1712 1888l-48 0-56-11-56-28-59-41-35-40-34-65-14-55-5-56 3-30 42-154 16-88 1-72-13-88 1-48 28-176-21-128-30-96-12-64-9-96 5-44 23-52 57-57 48-22 128-17 96 9 56 22 48 37 43 52 54 120 29 112 10 80 1 88-8 64-21 88-13 32-14 88 10 72 45 132 16 76-5 104-20 96-63 121-60 63-68 45-48 18zM4328 1880l-32-13-24-30-24-20-40 7-56-1-144-50-72-58-24-27-32-68-24-129-9-147 15-104-2-104-23-104-7-56 3-64 26-224 0-56 27-72 26-43 31-29 49-30 104-34 48-1 48-14 24 5 40 25 8 0 32-42 32-13zM2944 1856l-96-3-120-58-32-35-27-48-19-88 5-112 19-104 5-88-23-160 11-208-21-184-6-176 32-77 24-27 48-33 56-28 72-11 40 0 88 16 48 23 52 41 28 31 32 52 16 47 12 78-8 112-24 120-15 120 7 104 44 229 7 107-15 108-39 100-29 40-56 56-34 24-42 21zM688 1090l-16 7-40 0-48-18 0-151 48 15 40 2 9 7 21 96-4 24zM872 1318l-16-4-8-10-6-48-11-24-68-72-6-48 6-24 76-80 17-71 16-11 16-3 32 11 103 90 15 40 7 72-8 56-21 45-96 66-24 12zM584 1320l0-151 48-18 48 2 16 20 8 27-24 94-16 10z"/>
<path fill="#c99e7f" d="M1712 1871l-48-1-48-9-56-27-59-42-29-32-33-56-15-42-9-70 1-24 43-152 17-88 0-88-13-80 1-48 29-176-17-104-35-120-11-64-7-96 7-40 24-48 50-49 48-21 120-17 96 10 48 20 43 33 45 54 51 114 29 103 13 81 3 80-6 72-18 81-14 31-16 96 10 72 44 136 13 72-5 96-22 96-65 120-57 59-56 38-48 20zM4328 1862l-17-6-55-60-16-1-32 11-48 0-144-49-72-58-21-27-35-77-28-163-2-80 18-112-1-104-27-112-6-56 2-56 27-216 1-62 24-59 29-47 25-24 54-32 92-30 48-2 40-13 16 0 24 12 24 20 16 5 24-20 23-36 17-6zM2936 1839l-80-2-114-53-30-31-32-53-20-76 4-109 20-107 6-88-24-168 11-208-23-184-3-160 37-80 16-17 56-37 48-23 72-10 88 9 32 9 40 20 51 41 45 55 16 33 16 52 10 60-6 104-40 208-1 80 52 280 5 104-6 56-22 87-31 65-22 32-59 59-30 21-42 21zM680 1090l-48 4-48-20 0-141 48 15 40 3 8 8 20 89-5 24zM872 1312l-16-6-6-10-11-56-70-80-7-24 0-24 7-24 72-80 17-64 22-15 16 0 18 7 33 32 45 30 32 33 13 33 6 72-7 56-20 41-96 65-24 11zM584 1315l0-141 48-20 32-1 16 6 14 17 8 24-23 88-23 13z"/>
<path fill="#c89779" d="M1704 1845l-72-9-56-26-64-45-29-37-32-56-17-88 1-24 38-136 16-80 0-120-13-64-2-40 31-176 0-40-16-80-36-128-9-64 1-72 7-32 24-48 36-37 48-24 112-16 80 9 40 15 48 34 36 43 57 120 30 96 4 40 14 40 7 88-9 88-28 104-9 64 1 48 45 176 9 64-9 88-24 88-65 120-51 53-64 40-16 2-24 14zM4328 1821l-64-56-32 3-32 13-32 0-80-30-24-4-48-22-59-53-34-56-24-72-14-72-8-104 8-64 12-40 1-144-29-112-8-72 33-288 38-80 28-35 56-35 88-31 96-7 40 29 32 10 10-3 22-27 24-18zM2928 1813l-56-1-24-7-96-50-53-75-15-40-7-48 1-64 19-104 9-104-23-176 7-208-22-184 1-128 6-24 17-32 36-46 40-28 56-27 64-9 72 9 32 9 32 16 53 44 38 48 17 32 24 72 8 48-1 64-8 48-20 72-16 88 0 128 53 256 1 88-8 48-27 88-53 96-53 54-32 22-32 15zM872 1309l-18-13-13-56-71-88-5-32 10-32 72-88 12-48 13-14 16-6 24 7 39 37 33 18 38 38 13 32 7 72-8 56-20 40-94 62-32 14zM680 1086l-16 5-32-1-48-19 0-134 48 16 40 2 5 5 21 88-6 24zM584 1311l0-134 48-20 32-1 16 6 12 14 8 24-25 88-27 11z"/>
<path fill="#c69072" d="M1696 1830l-72-14-48-24-54-40-52-80-14-40-7-48 48-248-1-104-14-112 30-184-15-112-32-128-8-64 4-72 27-68 34-36 38-21 40-10 72-7 72 10 48 19 40 31 32 39 53 107 33 96 19 80 10 96-9 96-18 64-15 88 2 48 38 168 8 72-11 88-33 104-53 93-40 45-64 43-40 16zM2912 1799l-32-1-32-9-48-24-48-35-32-46-16-36-11-40-4-56 25-232-19-184 3-200-19-192 7-120 11-32 23-37 48-43 56-29 64-11 70 8 34 11 32 18 48 42 31 41 24 48 24 80 1 94-41 202 0 120 51 256 0 80-10 56-25 80-37 72-22 32-40 40-36 24-40 17zM4328 1791l-64-37-16-1-48 15-32-1-104-35-40-21-56-52-31-51-25-76-11-52-9-104 19-120 2-128-34-160-2-40 33-272 26-62 32-44 56-38 88-31 80-5 80 35 56-32zM680 1083l-40 5-56-20 0-127 48 14 40 5 10 16 14 72zM880 1304l-16-3-8-11-14-50-69-88-3-32 3-24 76-96 15-48 24-14 24 7 35 31 37 21 36 35 14 32 7 72-9 56-21 40-91 58zM584 1307l0-127 56-21 24 0 16 6 16 27 2 16-18 64-8 14z"/>
<path fill="#c4886b" d="M1704 1811l-40-2-40-13-40-21-40-32-31-39-22-40-13-40-7-48 35-240-3-104-12-104 29-200-12-104-28-131-6-61 4-56 18-58 37-46 59-30 64-8 56 6 51 16 45 30 40 46 50 92 38 100 22 84 12 96-7 80-31 160 2 48 35 192 1 64-17 88-33 89-40 70-31 41-65 51-40 16zM2912 1782l-32-2-32-11-66-41-44-56-26-72-5-72 17-216-15-176-1-192-15-200 11-105 14-39 20-32 38-38 40-25 32-11 48-8 80 15 35 19 29 24 52 64 38 88 10 48 2 56-40 216-4 96 46 232 8 64-3 64-13 61-24 70-40 76-33 41-39 33-47 23zM4328 1767l-72-24-56 10-40-3-83-30-42-24-43-41-32-48-24-62-16-71-7-98 16-128 2-112-28-160-4-56 9-120 20-126 24-62 40-52 59-40 71-24 70-4 80 28 56-18zM880 1298l-16-5-20-53-66-88-4-32 9-32 69-88 20-47 16-9 24 8 71 48 34 32 15 32 7 64-7 58-24 46-88 53zM678 1080l-38 5-56-20 0-119 88 19 10 19 12 64zM584 1303l0-120 56-21 24 0 15 6 11 16 6 24-24 73-16 9z"/>
<path fill="#c28063" d="M1704 1787l-33-3-39-13-32-20-35-31-24-32-20-40-18-80 16-232-17-208 29-208-28-240 0-88 16-56 27-40 46-31 48-10 56 6 49 19 47 35 40 49 48 83 40 94 22 75 13 96-3 72-27 160 1 48 26 184-2 64-14 65-40 105-62 102-58 52-40 17zM2912 1759l-56-14-55-41-39-56-24-72-7-80 7-192-25-496 9-120 13-48 19-40 31-40 39-31 40-18 40-6 64 16 62 47 51 72 34 88 9 56-2 48-33 184-6 96 44 224 7 72-4 64-14 56-28 71-32 59-34 46-37 32-33 16zM4328 1741l-64-11-96 1-56-19-48-28-40-36-33-48-26-64-15-72-5-88 15-144 2-88-27-184-4-72 5-88 12-80 27-80 41-58 64-46 72-22 48 0 72 18 56-7zM680 1073l-16 8-24 0-56-21 0-107 72 12 16 8 8 13 11 54zM888 1287l-16-3-8-8-17-36-38-48-25-40-5-32 10-32 75-106 16-17 16-5 72 35 45 37 16 32 8 64-8 56-21 42-88 52zM584 1296l0-109 48-20 41 1 15 17 5 23-21 66-24 13z"/>
<path fill="#c0765b" d="M1704 1761l-48-10-45-31-38-48-24-56-12-72-2-208-20-192 4-64 25-160-14-264 5-72 17-48 23-32 33-21 32-6 48 9 47 26 42 40 42 56 53 88 32 70 24 82 11 80-2 72-20 144 17 216-4 56-10 47-41 105-71 128-49 48-31 14zM2920 1735l-48-12-49-43-36-64-22-72-11-104 1-304-22-288 11-123 15-53 22-48 26-40 31-32 34-20 32-7 24 3 32 15 48 43 56 83 32 83 8 48-1 56-35 184-5 72 6 48 36 152 9 88-4 56-14 54-57 122-55 73-32 22zM4328 1715l-152-4-43-15-39-24-42-40-31-48-22-56-13-64-4-88 20-224-6-80-28-177 0-71 8-72 24-80 40-65 57-47 36-16 35-8 40 0 64 12 56 0zM674 1072l-34 4-56-21 0-93 72 9 16 10 17 59-3 16zM888 1277l-24-15-48-67-25-43-5-32 14-40 64-87 16-15 24-5 64 27 40 33 18 31 8 72-10 55-21 33-75 43zM584 1287l0-95 56-22 24-1 14 7 10 16 2 16-3 24-15 34-24 15z"/>
<path fill="#bc6850" d="M1712 1734l-32-6-34-24-30-40-21-48-12-56-50-400 3-85 28-171 8-320 20-56 16-17 24-10 40 10 40 33 136 184 27 48 21 53 16 65 7 58 0 56-13 144 7 184-10 72-27 72-107 208-26 32zM2920 1711l-35-15-31-40-38-88-26-88-9-112 11-240-27-168-7-88 7-88 28-88 65-120 22-21 24-8 34 13 36 40 72 112 28 72 6 48-3 56-41 176-5 48 7 48 41 144 10 80-8 72-28 72-87 152-22 22zM4216 1690l-56-12-52-38-40-56-27-72-10-56-2-64 29-184 3-96-9-72-34-136-6-64 12-104 16-48 24-44 30-36 34-27 32-15 40-6 128 19 0 1102zM675 1064l-27 8-64-24 0-75 56 1 27 10 10 16 9 32-1 16zM896 1267l-24-8-40-51-32-56-6-32 9-32 36-56 33-36 32-11 56 18 46 37 17 32 6 64-9 48-26 40-50 29zM584 1276l0-77 56-24 32 2 12 15 3 16-15 49-16 13-16 5z"/>
<path fill="#b75c46" d="M1712 1709l-16-3-16-18-36-80-8-40 1-64-62-224-20-112 4-112 65-328-10-160 5-32 13-12 14 4 15 16 72 136 83 79 30 41 33 88 18 104-6 296-11 80-14 40-22 40-91 112-13 40-11 88-8 16zM2920 1686l-14-14-27-104-45-88-15-56-5-64 5-80 33-152-6-32-45-120-12-96 2-48 12-48 21-44 45-68 23-88 12-14 17 14 38 88 72 96 15 40 6 48-12 88-55 136-8 40 8 32 39 80 22 64 11 64-1 56-24 68-69 92-29 96zM4208 1662l-40-14-30-32-30-56-17-64-7-64 6-64 15-48 53-112 13-128-16-56-76-120-12-40-4-40 11-80 33-80 45-56 24-15 24-6 29 5 67 30 32 6 0 1004-32 4zM676 1056l-12 8-16 1-64-29 0-47 48-8 32 9 17 34 1 16zM896 1256l-24-9-26-31-34-56-8-40 12-40 40-57 24-20 32-5 48 14 42 36 16 32 3 64-8 40-21 32-48 30zM584 1260l0-49 64-32 25 5 9 16 1 16-7 24-12 16-32 11z"/>
<path fill="#b0503b" d="M4136 884l-14-12-5-24 3-48 12-56 42-104 18-24 16-3 11 11 43 120 4 48-17 32-34 32-41 24zM2912 1043l-32-11-32-45-20-59-2-64 6-43 24-44 32-26 32-6 40 9 35 30 21 42 4 46-9 56-27 57-32 40-16 11zM1736 1455l-40-9-26-30-70-161-18-87 3-112 42-136 17-96 12-23 16-15 40-12 32 4 32 12 24 16 16 18 44 128 13 72-2 200-7 66-15 62-17 36-32 36-32 22zM672 1051l-16 7-32-13-24-21-1-16 25-17 32 3 14 14 6 16zM912 1245l-32-5-18-16-36-56-10-40 4-32 16-32 36-43 32-12 40 6 38 25 23 32 8 48-4 48-23 40-34 25zM606 1248l-9-16 17-24 34-22 16-1 8 6 6 25-14 30-32 11zM2936 1493l-32-6-24-20-17-35-7-40 1-80 13-64 19-32 31-16 32 10 35 38 21 48 13 64-1 56-12 32-32 33zM4208 1635l-16-5-17-30-27-112 2-120 10-18 16-7 44 9 76 37 32 9 0 103-24 9-32 28-24 32-27 54z"/>
<path fill="#a2402e" d="M2920 927l-22-15-8-32 8-32 22-14 23 14 7 32-8 32zM1744 1292l-24-3-24-11-38-38-27-56-9-64 9-72 25-61 40-48 40-16 40 10 40 40 23 51 7 64-4 88-18 57-32 42-24 13zM667 1048l-11 3-32-17-10-10 0-16 18-11 24 4 15 23zM912 1237l-24-3-24-20-29-46-10-48 10-40 29-38 24-20 24-4 32 6 34 24 24 40 4 40-3 32-20 40-31 25zM615 1240l-3-8 7-16 34-24 12 0 8 24-9 22-24 11zM2936 1405l-19-13-8-40 9-40 18-12 10 4 12 16 6 40-8 32z"/>
<path fill="#973026" d="M1744 1232l-32-9-25-23-17-40-6-48 6-56 16-40 26-28 32-10 32 11 25 27 15 40 4 48-6 56-14 36-24 26zM664 1042l-8 2-32-19 0-17 16-6 16 6 10 16zM912 1231l-24-4-24-23-23-36-9-48 6-32 14-24 31-32 29-8 32 7 32 25 19 32 5 40-3 32-21 40-32 23zM624 1237l0-14 28-23 12-1 4 17-6 16-22 10z"/>
<path fill="#8c241d" d="M655 1024l-7 1-11-9 11-2zM1744 1199l-16-6-12-17-9-64 2-48 8-32 11-16 16-7 19 7 17 24 12 64-13 64-17 24zM912 1225l-24-6-26-27-16-32-6-40 2-24 11-24 35-35 24-6 32 8 24 18 20 31 6 40-3 32-23 40-24 17zM657 1216l-1 9-8 4-6-5z"/>
<path fill="#821816" d="M920 1218l-32-7-24-26-11-25-6-40 2-24 11-24 28-27 24-8 32 10 20 17 16 24 7 32-3 39-16 32-24 19zM1752 1157l-5-5-2-104 7-3 11 51-2 32z"/>
<path fill="#771015" d="M920 1211l-24-3-26-24-11-24-5-48 4-24 9-16 21-20 24-7 24 6 24 21 13 24 6 32-3 29-12 27-20 18z"/>
<path fill="#6b0b1a" d="M912 1202l-24-9-16-17-11-72 14-32 21-15 16-3 24 9 16 17 12 24 3 32-5 32-10 15-16 12z"/>
<path fill="#5f0c25" d="M912 1191l-22-7-14-16 0-40-7-24 11-26 24-12 16 2 16 12 11 16 7 24-6 48-15 16z"/>
<path fill="#520d2a" d="M912 1175l-24-10 6-37-15-24 6-16 19-8 24 14 10 26-2 34-10 14z"/>
<path fill="#f7f7f6" d="M1274 2000l-668 0-22-16 0-533 64-8 168 23 32-5 40-18 24-21 30-38 26-64 40-36 24-31 17-53 5-64-5-80-9-40-58-96-20-48-58-59-48-28-40-10-176 21-56-8 0-535 7-5 681 0 48 54 16 26 9 40 10 168 74 280 16 120-26 224 10 96 0 56-61 288 0 88 9 120-4 72-10 32-19 27-32 33zM2392 1965l-104-1-72-22-40-22-48-36-53-68-13-40-5-56 12-240-4-48-26-88-49-120-12-56 6-72 55-200 13-112-2-112-19-160 2-56 13-64 18-34 40-38 64-38 80-23 144 0 80 23 48 25 32 25 27 36 13 40-2 192 39 352-15 160 0 56 21 136 3 64-6 80-26 200-7 128-15 71-13 25-19 22-80 48zM3592 1925l-88-1-80-22-91-54-29-30-24-35-23-79-19-232-51-280-9-88 1-64 13-104 36-232 17-192 14-64 29-40 56-42 96-42 88-17 64 1 56 13 64 25 40 27 29 35 15 32 9 48 4 64 0 192-26 288 20 200-1 96 16 248 0 168-22 72-36 42-80 47zM728 1054l-16-19-11-27 11-65 8-10 24-7 48 4 24 10 17 36 0 16-8 16-57 41-24 9zM808 1310l-16 7-56 4-24-10-13-39 2-24 11-27 24-29 16 0 32 15 39 33 6 16-1 24-6 16z"/>
<path fill="#edf2f1" d="M1184 2000l-170 0-78-21-104-38-128-20-64-31-56-59 0-235 40-46 44-30 44-13 120-13 24-10 40-31 56-68 29-65 43-47 17-33 10-40 4-80-10-96-32-64-4-32-41-64-56-57-64-50-24-9-112-14-40-13-48-32-40-46 0-235 42-48 46-32 218-80 319 0 39 25 66 71 13 32 11 48 13 120 75 272 16 120-27 224 11 144-17 104-44 184 0 232-20 64-41 48-40 30zM2384 1933l-96-2-72-25-72-51-60-71-11-32-6-40 7-232-7-56-24-80-51-120-12-56 6-72 55-192 15-120-1-112-14-152 10-72 25-56 38-40 70-42 72-19 128 0 64 16 70 37 49 56 9 24 8 54 2 122 40 344-16 216 22 152 2 80-45 376-18 56-35 43-80 47zM3584 1894l-80-3-72-21-80-48-61-70-21-48-17-88-12-144-51-280-8-88 0-56 13-112 37-232 13-128 14-64 16-40 29-37 64-45 80-35 88-17 64 4 96 32 32 20 36 38 18 32 15 48 10 168-10 184-19 168 16 152 4 144 14 192-3 200-31 72-36 40-78 45zM728 1050l-16-18-10-24 2-32 12-32 12-9 24-4 40 2 24 12 16 38-8 25-56 39-24 7zM808 1307l-24 7-48 2-24-12-11-32 1-24 10-24 24-27 16-1 24 8 46 36 5 16-1 24z"/>
<path fill="#e1ebec" d="M1120 1985l-88-8-80-20-208-109-40-25-31-31-18-32-8-40 9-56 32-47 59-41 117-62 64-77 36-53 29-56 33-40 26-80 4-80-9-104-23-56 10-32-2-13-128-139-40-51-106-45-71-56-24-32-14-32-6-40 4-40 34-64 38-40 40-32 121-69 121-35 126 0 73 23 40 24 61 65 25 64 19 120 77 272 16 112-26 232 10 104-1 48-18 104-41 176-5 200-5 29-24 57-56 58-72 36zM2384 1912l-88-1-72-25-65-46-64-72-19-72-3-72 5-152-8-56-27-80-48-112-12-56 5-72 56-192 17-120 1-112-11-144 8-56 29-62 40-42 64-38 64-18 128 0 48 12 72 37 50 55 21 72 6 112 41 344-17 216 22 144 3 88-48 360-22 56-32 38-80 48zM3584 1872l-80-3-48-12-48-23-40-26-60-64-23-40-26-96-13-136-52-280-8-88 0-56 22-191 43-265 21-74 32-54 56-45 80-39 96-20 56 3 96 31 32 21 32 34 35 71 15 160-8 176-22 184 19 192 16 288-1 104-8 88-33 64-38 40-63 38zM720 1039l-15-23-2-16 5-32 12-23 16-8 56 0 24 12 14 35-3 16-13 16-30 21-32 12-16 1zM808 1303l-16 6-64 1-16-11-10-27 1-24 9-21 24-26 16-2 24 8 44 33 6 32-5 16z"/>
<path fill="#d6e5e6" d="M1112 1968l-80-8-56-14-73-34-79-54-54-50-26-40-10-48 5-48 19-40 64-64 66-45 112-182 38-37 1-32 16-72 3-80-6-80-18-72 21-40-7-16-40-33-88-95-40-70-78-34-53-48-26-40-13-32-1-64 31-72 29-40 28-24 99-63 56-19 88-16 72 3 88 24 34 23 58 64 24 56 23 112 78 264 17 120-26 232 10 104-1 48-17 100-43 180-3 128-10 88-25 56-63 63-56 27zM2384 1895l-88-1-64-22-64-46-66-74-15-48-5-40 1-192-7-48-26-80-52-120-12-56 5-72 57-192 18-120 2-112-6-144 8-48 28-56 38-41 64-38 56-16 128 0 48 13 64 33 48 53 23 76 51 440-17 216 21 144 4 88-21 176-28 168-29 64-28 32-72 44zM3584 1855l-80-3-48-13-40-20-41-27-39-38-45-66-25-80-17-144-51-272-8-88 0-56 22-192 45-256 23-69 32-51 58-48 78-37 88-18 56 3 88 29 25 15 39 40 34 64 19 160-8 168-23 184 19 192 17 280-2 105-10 79-8 24-25 40-37 41-64 38zM820 1008l-52 34-24 5-16-4-16-17-7-18 7-45 8-13 16-9 64 2 16 11 11 22 1 16zM808 1299l-16 7-40 3-32-7-11-14-6-24 4-24 13-21 16-14 16-3 32 11 28 19 10 16 3 16-7 24z"/>
<path fill="#cadddf" d="M1112 1954l-72-7-64-16-64-32-69-51-38-40-25-40-8-40 3-56 18-40 51-56 57-40 59-112 40-61 24-28 37-23 3-8-16-38 9-66 2-80-4-72-11-72 29-56-9-15-48-34-63-63-28-40-27-64-74-33-44-39-35-64-6-32 1-32 17-56 34-56 25-22 88-60 48-17 88-16 72 2 80 22 32 21 57 62 26 56 25 104 76 248 21 136-25 232 10 144-19 112-42 176-6 128-13 80-27 56-59 59-56 27zM2384 1880l-88-1-56-19-62-44-65-72-17-48-9-64 1-160-9-56-28-80-51-115-11-53 4-72 59-192 19-120 4-104-3-144 9-48 31-59 32-34 58-35 54-16 120-1 48 11 64 33 48 53 23 72 35 248 19 184-17 216 21 144 5 88-21 176-29 152-30 64-30 36-72 43zM3584 1841l-72-2-48-12-40-20-40-26-32-31-52-70-28-80-18-136-54-280-6-136 30-246 41-202 23-58 35-54 53-43 72-35 88-19 56 3 80 27 24 14 36 37 37 64 10 40 13 112-7 168-25 184 35 432 0 104-6 72-16 64-53 70-64 41zM720 1033l-12-17-2-16 6-31 11-17 21-9 56 4 16 11 11 34-19 26-24 15-32 10-16 0zM808 1295l-16 7-40 3-32-7-16-34 8-31 32-27 24 3 24 10 24 20 7 17-4 24z"/>
<path fill="#bdd5d9" d="M1112 1941l-88-12-56-16-40-21-69-52-31-32-25-40-8-40 3-56 19-40 42-48 55-40 58-120 44-63 24-21 43-20-2-16-21-32-4-16 5-136-8-128 3-15 32-57-8-20-64-44-56-56-21-32-27-74-72-32-40-34-36-68-2-56 14-48 19-40 37-39 80-55 48-17 88-15 64 3 80 22 27 21 52 56 25 49 28 103 53 152 33 120 15 112-26 232 10 104-1 48-16 96-44 184-8 120-14 80-29 56-57 56-49 24zM2376 1868l-80-2-56-21-56-42-61-67-19-48-10-64 0-152-9-56-32-88-45-96-16-64 6-80 56-176 23-128 6-104-1-144 9-40 30-56 31-34 56-34 56-16 112 0 47 12 57 30 46 50 24 64 23 136 35 288-17 224 21 144 5 88-5 72-36 208-19 64-45 66-72 47zM3584 1828l-72-2-40-11-40-18-64-50-59-75-29-73-21-135-45-216-15-144 0-56 19-184 54-256 16-40 40-65 56-47 72-34 80-18 48 2 80 27 24 13 34 34 32 48 14 40 18 120-7 168-26 184 37 432-6 153-21 79-48 64-67 44zM712 1020l-5-20 5-26 8-14 16-11 56-1 22 12 10 16 1 16-8 16-41 26-40 5zM816 1282l-16 14-16 4-56-2-20-26 2-32 10-15 24-16 40 8 32 25 5 22z"/>
<path fill="#afccd1" d="M1112 1927l-72-7-48-13-58-27-62-47-30-33-24-40-5-32 1-48 11-32 47-56 54-40 54-120 20-32 40-43 48-19 12-10-4-24-32-56-5-160 4-96 33-56 7-24-15-23-64-41-51-48-21-32-22-72-10-15-72-30-32-27-34-64-2-56 13-48 20-40 19-21 56-43 65-32 95-17 56 2 80 21 24 17 53 57 25 48 85 248 36 128 12 104-25 232 9 144-19 112-43 184-9 112-16 72-28 54-48 50-56 28zM2376 1854l-72-1-56-19-56-42-59-64-20-48-10-56-2-152-10-56-29-80-54-114-12-54 4-73 59-183 25-128 8-104 2-144 7-32 30-56 29-31 56-34 48-13 112 0 40 10 55 28 45 48 23 56 28 136 36 312-18 152 0 56 21 136 5 88-3 64-16 104-24 111-19 57-46 64-71 46zM3576 1815l-64-3-40-11-40-20-32-22-32-31-50-64-30-72-69-344-15-152 1-48 26-240 49-196 16-35 41-65 55-45 80-37 72-13 40 3 80 27 54 49 27 40 15 40 19 120-5 160-29 184 6 112 33 317-8 150-22 77-50 64-61 40zM821 1000l-13 15-24 14-40 8-24-10-11-27 11-36 16-11 24-4 32 2 16 8 16 25zM814 1280l-14 12-16 5-56-2-19-23 3-32 16-18 16-9 40 6 32 26 3 19z"/>
<path fill="#9fc3c9" d="M1112 1913l-79-9-49-13-40-21-61-46-29-32-20-32-6-32 2-48 8-24 42-53 58-43 70-149 40-41 56-22 15-20-15-40-24-32-10-24-8-144 7-80 46-80 1-24-16-24-68-42-44-38-21-32-28-88-19-15-56-20-29-21-27-40-15-48 2-32 14-48 15-32 16-19 87-61 41-14 80-14 56 3 72 19 24 17 49 53 26 48 92 248 33 117 12 107-2 56-23 176 9 144-17 104-45 192-10 104-18 72-31 56-49 48-42 21zM2376 1840l-72-1-48-17-52-38-60-64-18-40-14-64-3-144-11-56-37-96-45-91-16-61 8-87 59-177 25-120 10-104 4-136 7-32 31-58 24-25 56-34 40-11 112 0 31 8 57 29 40 43 25 56 30 128 19 120 17 160-7 112-11 72 0 56 22 136 6 88-4 72-25 143-32 105-40 59-23 21-49 30zM3576 1800l-56-1-40-10-40-20-32-22-32-31-48-61-29-63-48-216-35-192-5-88 15-216 11-72 59-205 53-83 49-40 67-32 79-16 40 3 72 24 48 42 30 43 17 40 20 112-5 160-30 184 4 120 36 300 1 52-10 96-24 80-47 60-56 38zM713 1016l-3-16 6-24 12-15 16-7 48 1 16 8 14 21-8 24-38 23-40 2zM816 1272l-8 11-24 11-48 0-24-20-1-26 9-17 16-11 16-5 24 3 35 22 6 16z"/>
<path fill="#8db9c1" d="M1112 1896l-64-5-48-11-48-22-57-42-29-32-18-29-5-27 2-48 10-24 41-48 40-24 15-16 30-56 9-32 26-52 40-39 65-29 16-24-3-24-14-32-42-64-9-48-3-80 14-70 25-34 29-56-2-32-20-30-70-42-41-32-20-32-29-89-16-14-64-23-26-18-23-32-15-48 0-24 13-48 27-48 80-57 40-15 80-12 48 3 72 19 21 14 45 48 23 40 101 248 34 120 10 88-1 64-23 184 8 144-17 104-43 184-15 112-23 72-24 42-36 38-52 30zM2368 1823l-56-1-48-16-48-35-57-59-18-40-14-56-7-152-13-56-40-96-49-96-11-48 4-72 60-176 31-128 26-270 31-58 17-19 56-34 40-10 96 0 32 7 50 24 39 40 23 48 35 128 22 120 17 160-8 112-12 72 0 56 22 136 7 88-3 70-24 134-37 108-40 56-19 17-52 31zM3576 1783l-56-2-40-11-32-16-64-55-45-59-28-56-53-216-34-188-3-76 13-224 10-64 21-80 41-120 54-82 46-38 66-32 72-15 32 2 72 24 43 37 29 40 16 36 23 116-3 152-34 184 3 120 40 288 0 64-12 96-25 72-45 56-51 34zM820 992l-12 20-40 18-40-2-16-20 2-24 6-11 32-18 48 6 16 15zM814 1272l-14 14-16 6-40 1-16-6-15-15-1-24 8-14 24-15 32 1 33 20 7 16z"/>
<path fill="#86b5bf" d="M1120 1870l-96-2-56-17-64-45-36-38-10-24 0-64 17-32 37-37 24-10 24-19 41-62 9-32 34-56 28-22 70-34 19-32 0-40-17-37-45-59-17-32-6-24-2-56 8-32 25-40 22-24 32-64-1-40-32-49-64-35-32-23-29-29-15-32-11-48-15-24-34-17-56-17-36-38-17-40 0-32 25-72 12-14 72-53 24-10 56-8 80 0 56 16 32 18 44 51 128 272 33 120 6 80-22 240 5 136-6 72-14 88-39 144-18 104-14 24-10 40-23 40-46 46-32 16zM2368 1797l-48 0-48-17-40-30-45-46-24-48-16-56-10-144-8-40-17-44-85-156-12-64 5-64 47-136 14-24 40-136 16-96 10-144 8-24 37-60 56-33 32-8 96 1 64 31 28 29 24 48 40 120 25 120 16 160-8 96-14 56-1 96 30 184 1 72-24 136-49 120-52 61-40 24zM3560 1758l-64-10-56-31-77-85-29-56-67-240-25-152-1-88 9-224 8-56 34-104 29-56 9-32 50-72 44-36 72-32 56-9 48 10 48 22 28 29 41 72 23 96 0 136-37 160-2 152 10 96 28 128 10 104-18 120-30 72-37 45-32 23-48 15zM819 992l-11 18-40 19-32 0-16-9-6-12 6-31 16-15 16-5 48 7 13 12zM812 1272l-12 12-16 5-40 2-16-6-13-13-1-24 6-12 24-14 32-1 16 6 21 21z"/>
<path fill="#7fb1bc" d="M1112 1859l-56 0-56-9-32-11-64-43-31-36-9-24 0-49 16-33 29-30 43-23 20-17 40-56 40-88 28-23 65-33 20-24 7-24 0-24-21-56-55-86-12-50 12-48 46-72 27-56 3-32-7-24-29-42-72-46-36-32-52-112-24-17-56-16-31-15-25-32-12-32-1-24 13-53 19-35 68-48 49-15 112 1 70 22 36 32 31 48 111 230 35 130 3 96-20 224 2 136-14 160-57 240-28 72-41 59-48 30zM2352 1785l-40-4-40-17-60-52-30-48-21-64-15-144-27-88-86-160-11-56 1-48 9-32 61-160 34-112 42-264 23-42 21-22 51-27 48-7 53 2 35 12 44 28 28 43 32 79 35 134 15 104 8 96-21 184 1 80 29 192-2 64-17 94-34 98-25 48-29 36-56 39zM3552 1744l-56-11-63-37-54-64-31-56-62-216-22-128-8-112 7-232 8-64 25-86 45-106 37-56 46-44 64-31 64-11 56 14 32 16 18 16 24 32 20 40 25 96-1 136-40 176-2 112 10 104 30 144 12 104-17 112-31 75-32 38-32 22-40 13zM817 992l-9 16-40 19-32 0-16-10-5-9 5-28 16-15 16-5 24 0 24 7 11 9zM812 1264l-12 17-48 9-27-10-8-8-3-16 5-16 9-8 24-10 16 0 24 7 13 11z"/>
<path fill="#77acb9" d="M1104 1848l-40-2-48-13-96-44-40-43-3-50 11-31 40-34 40-13 24-20 32-56 24-64 17-30 23-20 64-38 27-38 6-32-3-24-59-120-11-56 13-56 57-112 2-40-12-32-22-32-86-64-23-24-49-121-32-20-64-9-21-10-25-32-12-40 17-64 25-33 64-31 120-17 54 9 34 13 32 27 24 33 121 239 26 88 7 48-23 320 1 240-5 48-60 240-26 64-25 40-24 24-32 19zM2352 1771l-40-5-40-21-46-41-26-41-24-68-20-139-13-48-18-48-78-144-16-72 1-38 8-33 66-177 30-96 49-256 23-40 32-29 40-18 40-6 48 5 38 16 31 24 27 42 32 80 32 118 17 112 5 88-20 200 1 64 28 200-2 56-16 88-29 85-42 75-22 25-33 23-31 14zM3552 1728l-56-11-56-34-48-56-32-59-28-88-23-104-25-248 8-288 16-80 21-64 39-80 48-59 64-38 64-13 62 14 44 32 38 62 22 82 4 56-3 72-45 184-6 104 9 104 39 168 11 96-15 112-28 64-26 32-26 20-32 14zM812 1000l-20 18-40 7-31-9-5-16 3-16 9-11 16-8 24-3 24 4 16 10 6 16zM810 1264l-18 19-40 4-24-7-9-8-3-16 4-14 12-10 36-7 24 6 18 17z"/>
<path fill="#6da4b3" d="M1104 1835l-56-8-50-27-27-24-25-32-9-24 0-16 16-32 59-72 68-134 88-75 36-55 2-40-48-112-10-64 10-56 47-96 6-32-14-40-31-48-82-72-27-32-57-121-32-28-57-35-29-32 24-48 46-40 48-24 64-13 40 4 40 15 32 26 24 30 118 226 23 72 7 48-5 48-30 96 7 136-16 192 25 104-7 72-57 208-33 73-24 33-32 27-32 15zM2352 1752l-40-8-32-19-36-37-24-40-24-64-41-184-92-184-13-40-5-40 3-40 16-59 83-229 37-174 22-74 23-40 27-26 32-17 40-7 56 13 30 21 20 24 43 88 36 120 15 104 4 96-17 168-1 80 27 224-4 64-14 72-19 56-30 64-26 37-29 27-35 18zM3552 1707l-56-11-48-32-40-48-32-62-21-66-12-72-15-272 7-144-7-176 8-64 16-56 32-73 42-55 54-36 56-13 32 3 32 12 46 42 33 72 13 88-9 96-53 160-9 80 11 144 48 160 11 56 4 48-3 56-16 64-28 49-40 35zM811 992l-8 16-27 13-40 0-17-13 3-24 14-13 16-5 40 3 16 13zM808 1264l-16 16-40 4-24-8-10-20 2-10 16-13 32-5 32 11 8 9z"/>
<path fill="#619bac" d="M1288 907l-24 7-32-14-133-140-30-40-49-96-49-64-12-32 2-32 19-32 28-22 56-18 56 9 46 31 42 56 88 161 35 103 4 40-7 32-16 29zM2352 1732l-32-8-29-20-26-32-22-40-27-72-47-168-94-192-13-72 4-40 13-56 68-176 82-280 19-35 24-28 24-15 32-8 32 6 32 19 25 29 23 41 32 77 24 81 16 145-18 272 3 64 23 168-7 104-27 88-43 88-43 45-24 12zM3552 1684l-32-3-32-14-32-25-24-30-41-84-13-56-5-48 19-160-12-144 21-120-34-160 4-96 25-80 36-60 48-40 56-15 48 12 44 39 28 64 9 72-3 56-14 56-24 56-50 88-11 48 16 192 76 184 12 64-1 64-13 56-22 40-36 32zM808 992l-8 16-32 11-32-1-16-18 14-24 26-8 32 5zM1248 1277l-24-10-18-27-16-56-6-56 4-48 14-48 22-30 24-8 16 6 16 24 10 80-8 128-14 32zM806 1256l-14 20-32 6-32-10-8-16 10-16 30-9 32 5zM1056 1813l-33-21-31-40-9-40 10-40 114-200 117-114 24-14 24 2 24 18 13 20 9 24 1 32-24 104-55 158-39 66-41 35-56 18z"/>
<path fill="#5790a3" d="M1288 868l-32 4-32-16-94-104-42-57-71-119-16-40 3-40 28-36 40-13 48 12 40 31 48 66 72 124 33 88 6 32-3 32-12 23zM2352 1711l-31-15-31-48-47-112-55-160-87-168-17-80 4-56 15-56 59-144 52-160 43-112 32-64 16-16 23-8 24 5 25 19 41 72 52 128 11 56 6 72-23 312 5 72 23 144-3 80-17 67-51 117-31 40-22 13zM3496 919l-40-20-31-43-16-56 1-64 18-64 31-56 45-36 40-6 39 18 30 40 17 64 0 72-17 64-29 47-40 31-24 8zM725 1000l11-20 24-8 27 4 16 16-8 16-27 7-32-1zM1240 1231l-8-33-3-70 3-66 8-23 8 21 1 60-1 82zM3480 1191l-16-1-16-11-14-35 8-40 14-14 16-6 26 12 10 16 5 24-9 37zM802 1256l-10 16-32 7-25-7-10-16 11-15 32-6 24 5zM3560 1659l-40-4-44-31-37-56-24-72-6-56 11-56 28-46 40-25 40 5 48 37 32 48 20 61 7 64-10 64-25 43zM1064 1796l-29-28-13-40 3-40 24-56 67-120 51-64 65-59 24-8 24 4 24 25 2 46-34 118-48 117-32 53-40 40-48 19z"/>
<path fill="#4e869b" d="M1288 841l-16 6-16-3-27-20-93-124-72-106-23-42-8-32 3-24 20-22 32-2 40 24 40 45 64 93 38 70 24 64 7 48zM2352 1691l-15-19-16-80-44-80-52-136-95-168-14-40-6-48 4-56 14-52 60-132 52-146 55-102 19-80 14-19 12 3 14 16 35 88 43 80 16 56 6 72-2 72-29 272 6 72 29 136 0 64-10 41-37 71-25 80-18 29zM3512 860l-26-12-20-24-12-40-1-48 10-48 19-48 25-32 29-12 26 12 19 32 11 48 0 56-9 48-18 40-21 20zM796 1000l-12 9-32 2-16-3-5-8 9-16 28-7 22 7zM796 1256l-12 14-24 4-24-8-5-10 13-13 24-3 24 7zM3560 1635l-31-3-28-24-24-40-21-56-9-48 3-40 14-27 24-17 32 1 24 15 24 30 19 46 9 56-1 48-13 40zM1080 1784l-21-24-4-32 8-40 22-48 66-112 57-80 40-36 16-6 16 2 10 8 5 16-6 40-33 96-40 86-40 66-33 40-31 22z"/>
<path fill="#467c93" d="M1272 824l-18-16-69-120-105-138-19-38 3-17 22 1 25 24 113 149 48 103 8 45zM3520 825l-12-9-6-16-3-64 14-80 15-32 8-4 8 6 6 22-1 72-13 86-8 15zM2368 1529l-24-6-24-27-49-136-111-160-11-32-9-56 2-48 8-32 78-152 44-124 33-44 39-18 32 11 21 23 13 32 5 56-1 72-54 312 21 112 39 96 2 48-14 48-16 17zM786 992l-1 8-33 5-11-5 3-10 16-6zM787 1256l-6 8-21 4-14-4-5-8 11-8 16-1zM3552 1613l-8 0-12-13-36-100-11-60 1-16 10-10 10 2 15 16 24 64 14 80 0 24zM1088 1765l-4-21 22-56 144-240 22-18 5 10-5 26-48 117-96 153-24 26z"/>
<path fill="#3d708b" d="M2264 1230l-32-21-23-41-11-56 2-48 15-48 69-144 28-28 24-2 23 22 2 48-47 216-9 72-17 27z"/>
<path fill="#356381" d="M2272 1179l-8-8-5-19-2-88 31-102 32-66 0 21-45 155-5 56z"/>
</g></g>
<path class="k" transform="scale(0.25)" d="M1058 370l19 0 41 5 37 12 28 19 32 39 23 47 35 81 48 97 34 88 11 34 6 32 10 92 0 42-3 45-13 111-5 66 0 45 5 66-4 45-15 84-26 104-33 156-12 40-16 38-17 33-21 28-13 11-28 16-31 10-34 4-33-2-33-6-34-13-35-20-28-24-23-29-14-27-6-25 3-23 12-22 18-22 34-34 19-26 15-29 9-33 7-34 8-53 3-13 6-9 6-6 16-8 56-11 22-11 17-16 6-24-1-26-3-14-12-29-15-25-59-77-11-22-5-22 2-22 9-23 63-85 23-42 8-28 0-14-6-29-11-23-17-16-23-13-43-16-31-23-8-10-5-13-9-43-8-55-14-35-8-10-11-8-39-19-31-20-13-18-5-22 1-40 9-28 16-29 23-27 14-10 35-17 36-11zM1660 412l39 0 40 5 38 9 29 14 26 19 12 12 22 28 20 31 24 51 14 38 25 78 11 39 13 67 9 89-1 44-6 45-9 42-17 57-8 39-3 39 7 58 31 119 9 46 4 41 0 38-4 42-8 44-13 45-17 45-20 42-25 40-30 33-51 40-58 32-39 12-39 4-39-5-39-13-54-27-32-25-27-32-32-52-18-50-10-49 4-34 17-50 22-77 13-59 6-39 3-58-16-116-1-39 24-133 4-45-3-45-8-44-33-115-9-40-7-68-1-39 2-32 10-34 16-34 11-15 25-23 30-16 18-6 40-8zM2301 432l60 2 37 8 16 8 28 20 22 24 8 13 21 45 38 129 20 111 13 133-3 67-16 111-3 44 6 67 24 133 4 66-9 90-13 66-13 40-24 55-19 34-23 29-28 26-31 19-34 15-34 6-16-1-34-7-17-7-34-20-15-12-25-26-28-45-14-33-10-36-7-59-5-89-9-40-13-38-16-35-73-129-10-27-7-42 1-28 5-27 22-56 22-67 34-82 21-69 18-99 7-56 6-99 9-34 17-34 10-15 25-23 31-16 18-5zM2875 467l59 3 56 15 33 14 16 10 30 25 37 46 27 51 14 35 9 37 5 58-1 39-6 39-9 39-17 58-8 39-7 58-2 39 2 39 6 39 33 155 13 78 3 78-8 59-20 72-19 49-26 50-26 32-30 29-16 12-34 21-50 20-33 6-33-4-51-17-34-17-15-10-27-23-23-27-10-15-17-34-11-34-7-50 1-38 5-40 19-97 6-78-3-58-11-78-5-57 3-198-21-212-2-65 3-34 11-34 17-32 10-14 25-25 30-21 33-17 37-11zM3539 483l34 1 17 4 30 10 28 17 13 10 21 26 18 30 17 49 17 76 5 58-1 39-4 39-11 58-24 108-4 36-1 39 2 59 6 58 17 108 14 66 5 36 2 78-4 59-8 39-12 38-14 36-19 31-26 25-30 19-32 12-34 5-34-2-33-9-16-7-31-20-27-24-25-28-23-31-19-33-17-37-19-59-50-175-18-97-5-39-3-57 9-264 9-44 13-45 16-45 27-64 19-39 34-54 26-31 32-25 35-20 39-13zM4361 438l21 87 11 249 4 362-4 362-11 248-24 87-34-8-36-47-28-26-17 4-44 19-17 3-141-46-28-17-28-22-26-28-23-35-16-33-10-33-18-75-9-59-3-39 3-39 5-38 17-78 3-40-1-38-2-34-6-32-22-67-7-33-4-52 6-79 20-136 7-77 12-35 16-32 10-14 22-25 39-29 45-22 51-15 66-6 26-11 7 0 9 4 42 39 11 7 16 5 26-24 32-45zM869 951l9-4 10-1 12 1 12 5 43 29 44 24 12 9 17 20 10 24 4 15 2 35-2 68-8 29-14 21-21 18-44 20-43 22-12 5-22 5-9-1-8-4-6-8-11-36-52-67-18-28-8-27 8-27 19-29 41-52 2 1 18-48 7-12zM703 1007l2-9 12-17 17-14 21-9 24 0 21 6 14 10 8 12-1 15-3 7-7 6-25 8-31 3-29-3-12-3-9-5zM702 1248l3-7 22-10 28-6 15 0 30 6 11 5 6 6 2 15-7 13-14 12-19 6-24 0-20-5-18-8-11-12zM560 940l15-4 64 22 11 0 11-6 6 1 12 9 10 19 6 32 1 18-4 31-5 14-7 11-13 5-24-4-31-9-31-14-21-17-9-25-3-33 4-30zM560 1200l21-17 31-13 31-9 24-3 13 5 7 11 5 14 4 31-4 36-7 23-6 6-18 10-22 3-41 10-23 3-15-6-8-20-4-29 3-31zM1710 797l28 4 27 8 23 8 16 14 5 10 6 40 40 104 8 36 2 40 0 97-5 78-8 50-18 68-16 27-20 19-33 22-11 5-21 5-20-2-9-3-6-6-16-30-22-55-33-56-18-41-9-30-7-34-4-33 1-50 6-34 14-48 35-81 4-15 5-67 7-23 10-15 8-6 9-3zM2352 713l9 2 15 10 13 19 9 26 6 49-4 51-24 99-19 118-8 30-17 41-7 42 4 28 14 41 11 56 10 23 12 21 22 24 6 9 7 27 0 29-6 25-12 19-16 11-9 2-9-2-7-4-8-8-12-21-19-84-15-39-46-66-66-76-15-24-14-49-5-51 2-33 9-29 13-26 33-45 22-41 23-56 22-69 15-39 7-11 22-18 23-10zM2912 764l22 2 22 8 11 7 19 17 14 22 8 24 1 26-8 42-9 25-13 22-23 32-17 17-17 12-16 5-8-2-13-13-13-15-11-20-19-49-5-23-1-22 3-25 6-29 12-24 8-11 19-17 18-9zM2931 1475l-8 0-18-8-16-15-5-9-7-23-5-36 4-76 9-47 10-25 6-8 7-5 15-4 16 5 17 12 21 32 23 53 6 31 3 35-3 29-8 22-6 9-7 7-20 11-18 7zM850 1058l11-21 5-6 15-11 8-4 23-2 30 5 13 6 13 8 23 24 9 12 7 27 1 29-1 28-7 27-20 25-25 20-13 7-15 5-27 4-19-5-15-11-5-8-11-26M861 1075l22-22 20-11 18 1 24 8 10 7 17 26 11 30 2 14-3 29-11 24-17 20-10 7-11 4-24 3-17-4-15-14-13-22M869 1086l25-20 10-3 7 1 17 11 16 17 9 21 2 23-5 24-11 20-9 6-22 5-14-1-15-14-8-12"/>
</g>
<circle cx="189" cy="281" r="29.2" fill="#fff" stroke="#000" stroke-width="1.3" stroke-dasharray="5 1.5 9 1 3 2 12 1.5"/>
<use href="#arcd"/>
<rect x="153.5" y="70.5" width="918" height="421" fill="none" stroke="#333" stroke-width=".9"/>
<text transform="translate(189 58.5) scale(0.95 1)" class="t m">0</text>
<text transform="translate(189 520.8) scale(0.95 1)" class="t m">0</text>
<text transform="translate(364.5 58.5) scale(0.95 1)" class="t m">3</text>
<text transform="translate(364.5 520.8) scale(0.95 1)" class="t m">3</text>
<text transform="translate(539.9 58.5) scale(0.95 1)" class="t m">6</text>
<text transform="translate(539.9 520.8) scale(0.95 1)" class="t m">6</text>
<text transform="translate(715.4 58.5) scale(0.95 1)" class="t m">9</text>
<text transform="translate(715.4 520.8) scale(0.95 1)" class="t m">9</text>
<text transform="translate(890.1 58.5) scale(0.85 1)" class="t m">12</text>
<text transform="translate(890.1 520.8) scale(0.85 1)" class="t m">12</text>
<text transform="translate(1065.5 58.5) scale(0.85 1)" class="t m">15</text>
<text transform="translate(1066.9 520.8) scale(0.85 1)" class="t m">15</text>
<text transform="translate(147.6 113.9) scale(0.95 1)" class="t e">3</text>
<text transform="translate(1078.5 113.2) scale(0.95 1)" class="t">3</text>
<text transform="translate(147.6 201.7) scale(0.84 1)" class="t e">1.5</text>
<text transform="translate(1078.5 200.9) scale(0.84 1)" class="t">1.5</text>
<text transform="translate(147.6 377.1) scale(0.82 1)" class="t e">-1.5</text>
<text transform="translate(1078.2 376.4) scale(0.82 1)" class="t">-1.5</text>
<text transform="translate(147.6 464.9) scale(0.88 1)" class="t e">-3</text>
<text transform="translate(1078.2 464.2) scale(0.88 1)" class="t">-3</text>
<path d="M188.5 64v13M188.5 485v13M364.5 64v13M364.5 485v13M539.5 64v13M539.5 485v13M715.5 64v13M715.5 485v13M890.5 64v13M890.5 485v13M1066.5 64v13M1066.5 485v13M147 105.5h13M1065 105.5h13M147 193.5h13M1065 193.5h13M147 368.5h13M1065 368.5h13M147 456.5h13M1065 456.5h13" stroke="#333" stroke-width=".9" fill="none"/>
<text x="611.8" y="43.6" class="x m">x/D</text>
<text x="611.8" y="533.7" class="x m">x/D</text>
<text x="107.9" y="288.6" class="x m">y/D</text>
<text x="1117.3" y="288.6" class="x m">y/D</text>
<text x="491.2" y="550.4" class="c m" textLength="107" lengthAdjust="spacingAndGlyphs">-7.8e-04</text>
<text x="737" y="550.4" class="c m" textLength="97.5" lengthAdjust="spacingAndGlyphs">7.8e-04</text>
<rect x="491" y="576.4" width="245" height="11.5" fill="url(#cb)"/>
</g>
<text transform="translate(11.8 713) scale(.87 1)" class="p">(</text>
<text x="35.6" y="713.3" class="l" style="font-size:75px">a</text>
<text transform="translate(72.6 713) scale(.87 1)" class="p">)</text>
<text transform="translate(1219.8 713) scale(.87 1)" class="p">(</text>
<text x="1242.6" y="713.3" class="l" style="font-size:78px">b</text>
<text transform="translate(1289.6 713) scale(.87 1)" class="p">)</text>
<text transform="translate(11.8 1527.2) scale(.87 1)" class="p">(</text>
<text x="34.6" y="1527.5" class="l" style="font-size:75px">c</text>
<text transform="translate(68.4 1527.2) scale(.87 1)" class="p">)</text>
<text transform="translate(1219.8 1527.2) scale(.87 1)" class="p">(</text>
<text x="1243.3" y="1527.5" class="l" style="font-size:78px">d</text>
<text transform="translate(1289.6 1527.2) scale(.87 1)" class="p">)</text>
</svg></body></html>
